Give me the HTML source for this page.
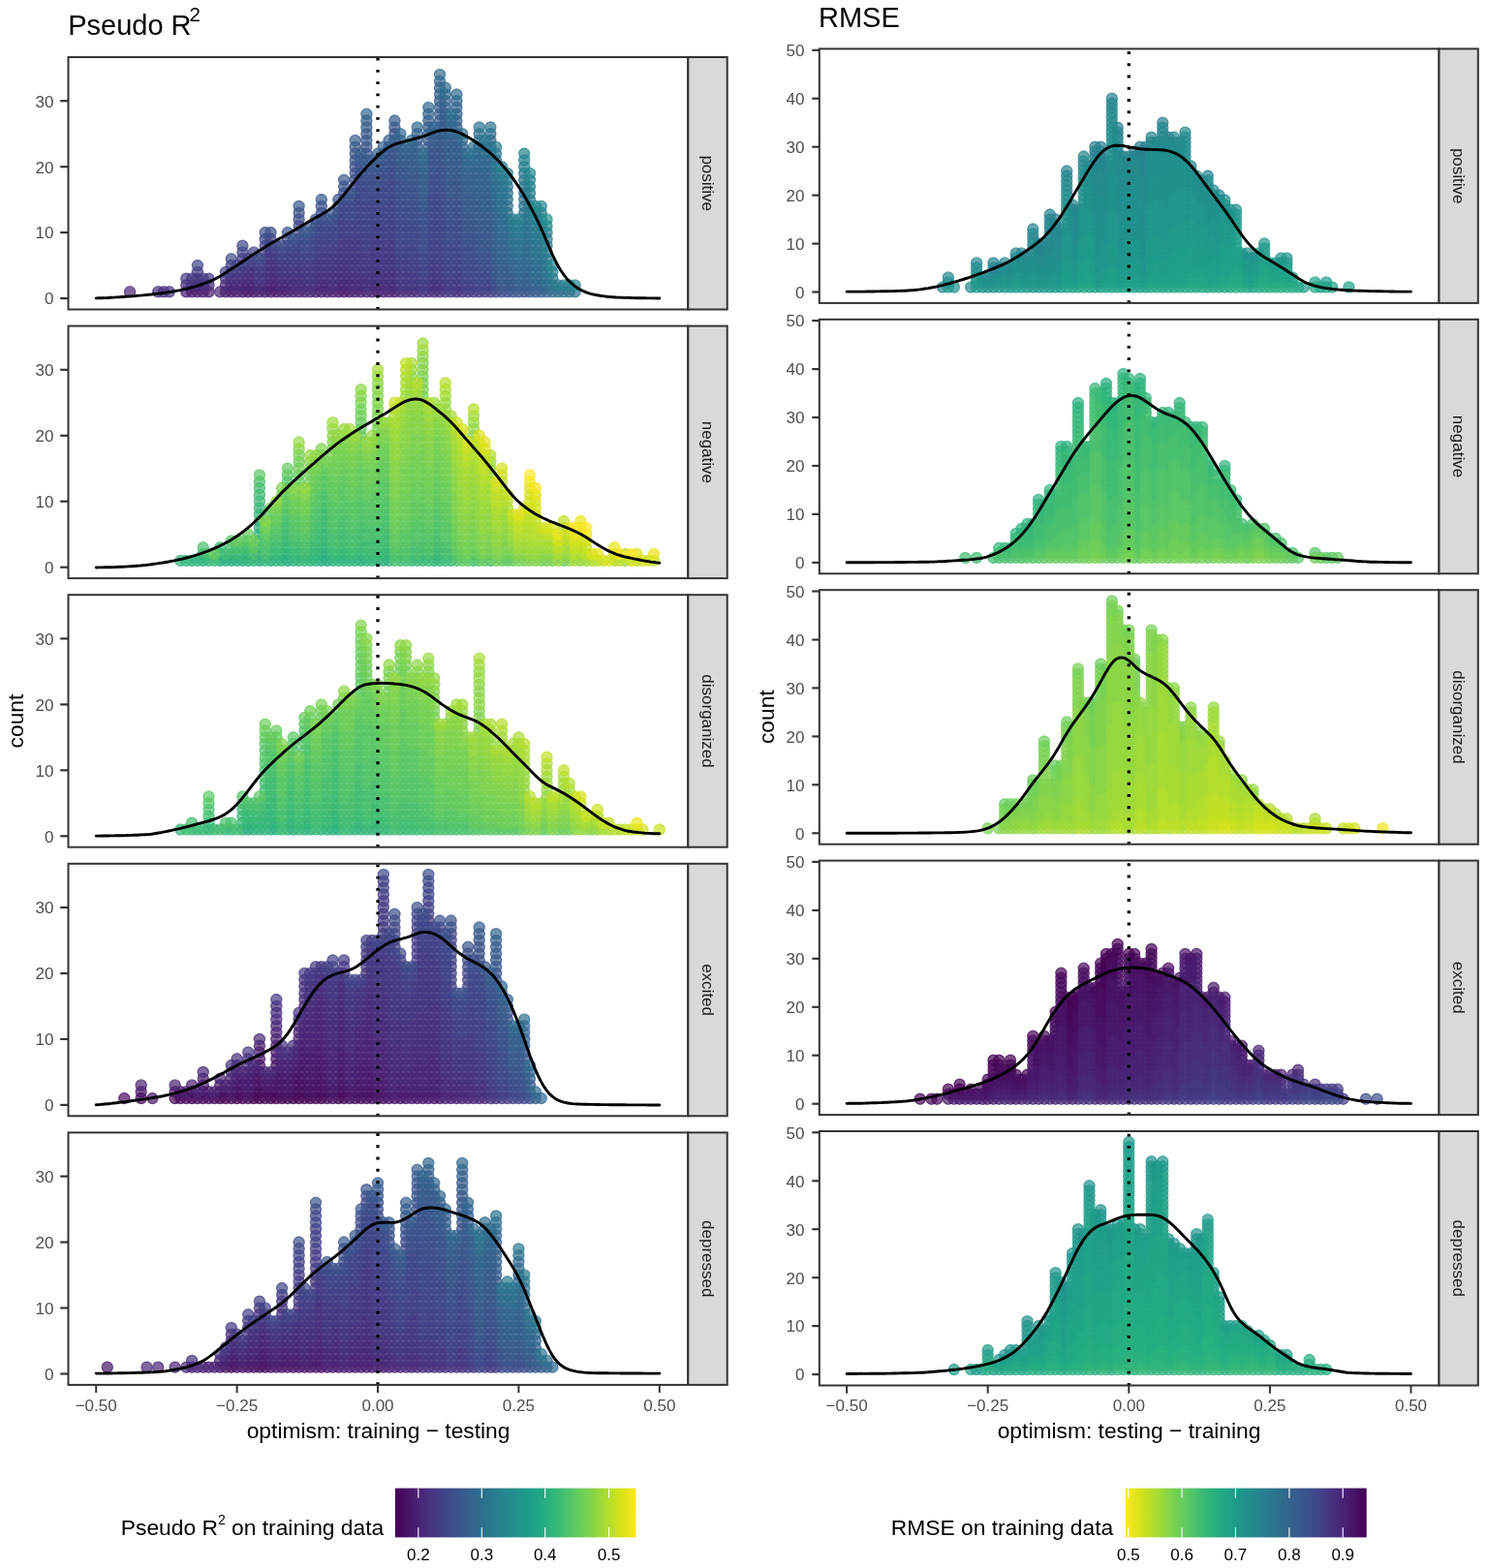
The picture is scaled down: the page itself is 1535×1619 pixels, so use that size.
<!DOCTYPE html>
<html><head><meta charset="utf-8"><title>optimism</title><style>
html,body{margin:0;padding:0;background:#fff;}
svg{display:block;}
text{font-family:"Liberation Sans",Arial,sans-serif;}
path{fill:none;stroke:none;}
marker circle{fill-opacity:0.7;stroke-opacity:0.7;stroke-width:1.3;}
.st{font-size:17px;fill:#1a1a1a;text-anchor:middle;dominant-baseline:central;}
.yl{font-size:17px;fill:#4d4d4d;text-anchor:end;dominant-baseline:central;}
.xl{font-size:17px;fill:#4d4d4d;text-anchor:middle;}
.at{font-size:22.8px;fill:#000;}
.tt{font-size:29px;fill:#000;}
.sup{font-size:20.5px;}
.ll{font-size:17px;fill:#000;text-anchor:middle;}
.lt{font-size:22.8px;fill:#000;}
.lsup{font-size:14px;}
.m0{marker:url(#k0)}.m1{marker:url(#k1)}.m2{marker:url(#k2)}.m3{marker:url(#k3)}.m4{marker:url(#k4)}.m5{marker:url(#k5)}.m6{marker:url(#k6)}.m7{marker:url(#k7)}.m8{marker:url(#k8)}.m9{marker:url(#k9)}.m10{marker:url(#k10)}.m11{marker:url(#k11)}.m12{marker:url(#k12)}.m13{marker:url(#k13)}.m14{marker:url(#k14)}.m15{marker:url(#k15)}.m16{marker:url(#k16)}.m17{marker:url(#k17)}.m18{marker:url(#k18)}.m19{marker:url(#k19)}.m20{marker:url(#k20)}.m21{marker:url(#k21)}.m22{marker:url(#k22)}.m23{marker:url(#k23)}.m24{marker:url(#k24)}.m25{marker:url(#k25)}.m26{marker:url(#k26)}.m27{marker:url(#k27)}.m28{marker:url(#k28)}.m29{marker:url(#k29)}.m30{marker:url(#k30)}.m31{marker:url(#k31)}.m32{marker:url(#k32)}.m33{marker:url(#k33)}.m34{marker:url(#k34)}.m35{marker:url(#k35)}.m36{marker:url(#k36)}.m37{marker:url(#k37)}.m38{marker:url(#k38)}.m39{marker:url(#k39)}.m40{marker:url(#k40)}.m41{marker:url(#k41)}.m42{marker:url(#k42)}.m43{marker:url(#k43)}.m44{marker:url(#k44)}.m45{marker:url(#k45)}.m46{marker:url(#k46)}.m47{marker:url(#k47)}.m48{marker:url(#k48)}.m49{marker:url(#k49)}.m50{marker:url(#k50)}.m51{marker:url(#k51)}.m52{marker:url(#k52)}.m53{marker:url(#k53)}.m54{marker:url(#k54)}.m55{marker:url(#k55)}.m56{marker:url(#k56)}.m57{marker:url(#k57)}.m58{marker:url(#k58)}.m59{marker:url(#k59)}.m60{marker:url(#k60)}.m61{marker:url(#k61)}.m62{marker:url(#k62)}.m63{marker:url(#k63)}</style></head><body><svg width="1535" height="1619" viewBox="0 0 1535 1619">
<rect width="100%" height="100%" fill="#fff"/>
<defs><marker id="k0" markerUnits="userSpaceOnUse" markerWidth="1" markerHeight="1" overflow="visible"><circle r="5.6" fill="#440154" stroke="#440154"/></marker><marker id="k1" markerUnits="userSpaceOnUse" markerWidth="1" markerHeight="1" overflow="visible"><circle r="5.6" fill="#46075a" stroke="#46075a"/></marker><marker id="k2" markerUnits="userSpaceOnUse" markerWidth="1" markerHeight="1" overflow="visible"><circle r="5.6" fill="#470d60" stroke="#470d60"/></marker><marker id="k3" markerUnits="userSpaceOnUse" markerWidth="1" markerHeight="1" overflow="visible"><circle r="5.6" fill="#471365" stroke="#471365"/></marker><marker id="k4" markerUnits="userSpaceOnUse" markerWidth="1" markerHeight="1" overflow="visible"><circle r="5.6" fill="#48186a" stroke="#48186a"/></marker><marker id="k5" markerUnits="userSpaceOnUse" markerWidth="1" markerHeight="1" overflow="visible"><circle r="5.6" fill="#481d6f" stroke="#481d6f"/></marker><marker id="k6" markerUnits="userSpaceOnUse" markerWidth="1" markerHeight="1" overflow="visible"><circle r="5.6" fill="#482374" stroke="#482374"/></marker><marker id="k7" markerUnits="userSpaceOnUse" markerWidth="1" markerHeight="1" overflow="visible"><circle r="5.6" fill="#482878" stroke="#482878"/></marker><marker id="k8" markerUnits="userSpaceOnUse" markerWidth="1" markerHeight="1" overflow="visible"><circle r="5.6" fill="#472d7b" stroke="#472d7b"/></marker><marker id="k9" markerUnits="userSpaceOnUse" markerWidth="1" markerHeight="1" overflow="visible"><circle r="5.6" fill="#46327e" stroke="#46327e"/></marker><marker id="k10" markerUnits="userSpaceOnUse" markerWidth="1" markerHeight="1" overflow="visible"><circle r="5.6" fill="#453781" stroke="#453781"/></marker><marker id="k11" markerUnits="userSpaceOnUse" markerWidth="1" markerHeight="1" overflow="visible"><circle r="5.6" fill="#443b84" stroke="#443b84"/></marker><marker id="k12" markerUnits="userSpaceOnUse" markerWidth="1" markerHeight="1" overflow="visible"><circle r="5.6" fill="#424086" stroke="#424086"/></marker><marker id="k13" markerUnits="userSpaceOnUse" markerWidth="1" markerHeight="1" overflow="visible"><circle r="5.6" fill="#404588" stroke="#404588"/></marker><marker id="k14" markerUnits="userSpaceOnUse" markerWidth="1" markerHeight="1" overflow="visible"><circle r="5.6" fill="#3e4989" stroke="#3e4989"/></marker><marker id="k15" markerUnits="userSpaceOnUse" markerWidth="1" markerHeight="1" overflow="visible"><circle r="5.6" fill="#3d4e8a" stroke="#3d4e8a"/></marker><marker id="k16" markerUnits="userSpaceOnUse" markerWidth="1" markerHeight="1" overflow="visible"><circle r="5.6" fill="#3a538b" stroke="#3a538b"/></marker><marker id="k17" markerUnits="userSpaceOnUse" markerWidth="1" markerHeight="1" overflow="visible"><circle r="5.6" fill="#38588c" stroke="#38588c"/></marker><marker id="k18" markerUnits="userSpaceOnUse" markerWidth="1" markerHeight="1" overflow="visible"><circle r="5.6" fill="#365c8d" stroke="#365c8d"/></marker><marker id="k19" markerUnits="userSpaceOnUse" markerWidth="1" markerHeight="1" overflow="visible"><circle r="5.6" fill="#34608d" stroke="#34608d"/></marker><marker id="k20" markerUnits="userSpaceOnUse" markerWidth="1" markerHeight="1" overflow="visible"><circle r="5.6" fill="#32648e" stroke="#32648e"/></marker><marker id="k21" markerUnits="userSpaceOnUse" markerWidth="1" markerHeight="1" overflow="visible"><circle r="5.6" fill="#31688e" stroke="#31688e"/></marker><marker id="k22" markerUnits="userSpaceOnUse" markerWidth="1" markerHeight="1" overflow="visible"><circle r="5.6" fill="#2f6c8e" stroke="#2f6c8e"/></marker><marker id="k23" markerUnits="userSpaceOnUse" markerWidth="1" markerHeight="1" overflow="visible"><circle r="5.6" fill="#2d708e" stroke="#2d708e"/></marker><marker id="k24" markerUnits="userSpaceOnUse" markerWidth="1" markerHeight="1" overflow="visible"><circle r="5.6" fill="#2c738e" stroke="#2c738e"/></marker><marker id="k25" markerUnits="userSpaceOnUse" markerWidth="1" markerHeight="1" overflow="visible"><circle r="5.6" fill="#2a778e" stroke="#2a778e"/></marker><marker id="k26" markerUnits="userSpaceOnUse" markerWidth="1" markerHeight="1" overflow="visible"><circle r="5.6" fill="#297b8e" stroke="#297b8e"/></marker><marker id="k27" markerUnits="userSpaceOnUse" markerWidth="1" markerHeight="1" overflow="visible"><circle r="5.6" fill="#277f8e" stroke="#277f8e"/></marker><marker id="k28" markerUnits="userSpaceOnUse" markerWidth="1" markerHeight="1" overflow="visible"><circle r="5.6" fill="#26828e" stroke="#26828e"/></marker><marker id="k29" markerUnits="userSpaceOnUse" markerWidth="1" markerHeight="1" overflow="visible"><circle r="5.6" fill="#24868e" stroke="#24868e"/></marker><marker id="k30" markerUnits="userSpaceOnUse" markerWidth="1" markerHeight="1" overflow="visible"><circle r="5.6" fill="#238a8d" stroke="#238a8d"/></marker><marker id="k31" markerUnits="userSpaceOnUse" markerWidth="1" markerHeight="1" overflow="visible"><circle r="5.6" fill="#218e8d" stroke="#218e8d"/></marker><marker id="k32" markerUnits="userSpaceOnUse" markerWidth="1" markerHeight="1" overflow="visible"><circle r="5.6" fill="#20928c" stroke="#20928c"/></marker><marker id="k33" markerUnits="userSpaceOnUse" markerWidth="1" markerHeight="1" overflow="visible"><circle r="5.6" fill="#1f968b" stroke="#1f968b"/></marker><marker id="k34" markerUnits="userSpaceOnUse" markerWidth="1" markerHeight="1" overflow="visible"><circle r="5.6" fill="#1f9a8a" stroke="#1f9a8a"/></marker><marker id="k35" markerUnits="userSpaceOnUse" markerWidth="1" markerHeight="1" overflow="visible"><circle r="5.6" fill="#1f9e89" stroke="#1f9e89"/></marker><marker id="k36" markerUnits="userSpaceOnUse" markerWidth="1" markerHeight="1" overflow="visible"><circle r="5.6" fill="#1fa187" stroke="#1fa187"/></marker><marker id="k37" markerUnits="userSpaceOnUse" markerWidth="1" markerHeight="1" overflow="visible"><circle r="5.6" fill="#21a585" stroke="#21a585"/></marker><marker id="k38" markerUnits="userSpaceOnUse" markerWidth="1" markerHeight="1" overflow="visible"><circle r="5.6" fill="#23a983" stroke="#23a983"/></marker><marker id="k39" markerUnits="userSpaceOnUse" markerWidth="1" markerHeight="1" overflow="visible"><circle r="5.6" fill="#26ad81" stroke="#26ad81"/></marker><marker id="k40" markerUnits="userSpaceOnUse" markerWidth="1" markerHeight="1" overflow="visible"><circle r="5.6" fill="#2ab07f" stroke="#2ab07f"/></marker><marker id="k41" markerUnits="userSpaceOnUse" markerWidth="1" markerHeight="1" overflow="visible"><circle r="5.6" fill="#2fb47c" stroke="#2fb47c"/></marker><marker id="k42" markerUnits="userSpaceOnUse" markerWidth="1" markerHeight="1" overflow="visible"><circle r="5.6" fill="#35b779" stroke="#35b779"/></marker><marker id="k43" markerUnits="userSpaceOnUse" markerWidth="1" markerHeight="1" overflow="visible"><circle r="5.6" fill="#3bbb75" stroke="#3bbb75"/></marker><marker id="k44" markerUnits="userSpaceOnUse" markerWidth="1" markerHeight="1" overflow="visible"><circle r="5.6" fill="#42be71" stroke="#42be71"/></marker><marker id="k45" markerUnits="userSpaceOnUse" markerWidth="1" markerHeight="1" overflow="visible"><circle r="5.6" fill="#4ac16d" stroke="#4ac16d"/></marker><marker id="k46" markerUnits="userSpaceOnUse" markerWidth="1" markerHeight="1" overflow="visible"><circle r="5.6" fill="#52c569" stroke="#52c569"/></marker><marker id="k47" markerUnits="userSpaceOnUse" markerWidth="1" markerHeight="1" overflow="visible"><circle r="5.6" fill="#5ac864" stroke="#5ac864"/></marker><marker id="k48" markerUnits="userSpaceOnUse" markerWidth="1" markerHeight="1" overflow="visible"><circle r="5.6" fill="#65cb5e" stroke="#65cb5e"/></marker><marker id="k49" markerUnits="userSpaceOnUse" markerWidth="1" markerHeight="1" overflow="visible"><circle r="5.6" fill="#6ece58" stroke="#6ece58"/></marker><marker id="k50" markerUnits="userSpaceOnUse" markerWidth="1" markerHeight="1" overflow="visible"><circle r="5.6" fill="#77d153" stroke="#77d153"/></marker><marker id="k51" markerUnits="userSpaceOnUse" markerWidth="1" markerHeight="1" overflow="visible"><circle r="5.6" fill="#81d34d" stroke="#81d34d"/></marker><marker id="k52" markerUnits="userSpaceOnUse" markerWidth="1" markerHeight="1" overflow="visible"><circle r="5.6" fill="#8bd646" stroke="#8bd646"/></marker><marker id="k53" markerUnits="userSpaceOnUse" markerWidth="1" markerHeight="1" overflow="visible"><circle r="5.6" fill="#95d840" stroke="#95d840"/></marker><marker id="k54" markerUnits="userSpaceOnUse" markerWidth="1" markerHeight="1" overflow="visible"><circle r="5.6" fill="#a0da39" stroke="#a0da39"/></marker><marker id="k55" markerUnits="userSpaceOnUse" markerWidth="1" markerHeight="1" overflow="visible"><circle r="5.6" fill="#aadc32" stroke="#aadc32"/></marker><marker id="k56" markerUnits="userSpaceOnUse" markerWidth="1" markerHeight="1" overflow="visible"><circle r="5.6" fill="#b5de2b" stroke="#b5de2b"/></marker><marker id="k57" markerUnits="userSpaceOnUse" markerWidth="1" markerHeight="1" overflow="visible"><circle r="5.6" fill="#c0df25" stroke="#c0df25"/></marker><marker id="k58" markerUnits="userSpaceOnUse" markerWidth="1" markerHeight="1" overflow="visible"><circle r="5.6" fill="#cae11f" stroke="#cae11f"/></marker><marker id="k59" markerUnits="userSpaceOnUse" markerWidth="1" markerHeight="1" overflow="visible"><circle r="5.6" fill="#d5e21a" stroke="#d5e21a"/></marker><marker id="k60" markerUnits="userSpaceOnUse" markerWidth="1" markerHeight="1" overflow="visible"><circle r="5.6" fill="#dfe318" stroke="#dfe318"/></marker><marker id="k61" markerUnits="userSpaceOnUse" markerWidth="1" markerHeight="1" overflow="visible"><circle r="5.6" fill="#eae51a" stroke="#eae51a"/></marker><marker id="k62" markerUnits="userSpaceOnUse" markerWidth="1" markerHeight="1" overflow="visible"><circle r="5.6" fill="#f4e61e" stroke="#f4e61e"/></marker><marker id="k63" markerUnits="userSpaceOnUse" markerWidth="1" markerHeight="1" overflow="visible"><circle r="5.6" fill="#fde725" stroke="#fde725"/></marker></defs>
<clipPath id="cL1"><rect x="70.5" y="59.0" width="639.8" height="260.5"/></clipPath>
<g clip-path="url(#cL1)">
<path d="M198.1 301.3 233 301.3 250.4 301.3 256.2 301.3 262 301.3 279.5 301.3 285.3 301.3 349.3 301.3" class="m4"/>
<path d="M192.3 301.3 203.9 301.3 209.7 301.3 215.5 301.3 238.8 301.3 244.6 301.3 273.7 301.3 279.5 294.5 291.1 301.3 296.9 301.3 326 301.3 337.7 301.3 355.1 301.3 360.9 301.3 407.4 301.3" class="m5"/>
<path d="M134.1 301.3 250.4 294.5 256.2 294.5 262 294.5 267.9 301.3 273.7 294.5 285.3 294.5 302.8 301.3 308.6 301.3 314.4 301.3 331.8 301.3 343.5 301.3 349.3 294.5 366.7 301.3 372.6 301.3 384.2 301.3 390 301.3 395.8 301.3 401.6 301.3 407.4 294.5" class="m6"/>
<path d="M198.1 294.5 203.9 294.5 227.2 301.3 233 294.5 238.8 294.5 244.6 294.5 250.4 287.7 262 287.7 279.5 287.7 285.3 287.7 291.1 294.5 296.9 294.5 320.2 301.3 326 294.5 331.8 294.5 337.7 294.5 349.3 287.7 355.1 294.5 360.9 294.5 372.6 294.5 378.4 301.3 384.2 294.5 407.4 287.7 419.1 301.3 448.2 301.3" class="m7"/>
<path d="M163.2 301.3 169 301.3 192.3 294.5 209.7 294.5 215.5 294.5 256.2 287.7 262 280.9 267.9 294.5 273.7 287.7 279.5 280.9 279.5 274.1 285.3 280.9 296.9 287.7 302.8 294.5 308.6 294.5 314.4 294.5 326 287.7 331.8 287.7 337.7 287.7 343.5 294.5 349.3 280.9 349.3 274.1 355.1 287.7 360.9 287.7 366.7 294.5 366.7 287.7 372.6 287.7 384.2 287.7 390 294.5 395.8 294.5 401.6 294.5 407.4 280.9 407.4 274.1 413.3 301.3 424.9 301.3 430.7 301.3 442.3 301.3 448.2 294.5 454 301.3 471.4 301.3" class="m8"/>
<path d="M174.8 301.3 203.9 287.7 233 287.7 238.8 287.7 244.6 287.7 250.4 280.9 256.2 280.9 262 274.1 273.7 280.9 273.7 274.1 279.5 267.3 285.3 274.1 291.1 287.7 296.9 280.9 302.8 287.7 308.6 287.7 308.6 280.9 314.4 287.7 320.2 294.5 326 280.9 326 274.1 331.8 280.9 337.7 280.9 343.5 287.7 343.5 280.9 349.3 267.3 355.1 280.9 355.1 274.1 360.9 280.9 360.9 274.1 366.7 280.9 372.6 280.9 372.6 274.1 378.4 294.5 378.4 287.7 384.2 280.9 390 287.7 390 280.9 395.8 287.7 395.8 280.9 401.6 287.7 401.6 280.9 407.4 267.3 407.4 260.5 419.1 294.5 430.7 294.5 442.3 294.5 448.2 287.7 454 294.5 459.8 301.3 477.2 301.3" class="m9"/>
<path d="M198.1 287.7 203.9 280.9 238.8 280.9 250.4 274.1 267.9 287.7 273.7 267.3 279.5 260.5 285.3 267.3 291.1 280.9 296.9 274.1 302.8 280.9 308.6 274.1 314.4 280.9 320.2 287.7 326 267.3 331.8 274.1 331.8 267.3 337.7 274.1 337.7 267.3 343.5 274.1 349.3 260.5 349.3 253.7 355.1 267.3 355.1 260.5 360.9 267.3 360.9 260.5 366.7 274.1 366.7 267.3 372.6 267.3 372.6 260.5 378.4 280.9 378.4 274.1 384.2 274.1 384.2 267.3 384.2 260.5 390 274.1 390 267.3 395.8 274.1 395.8 267.3 401.6 274.1 401.6 267.3 407.4 253.7 407.4 246.9 407.4 240.1 407.4 233.3 413.3 294.5 419.1 287.7 419.1 280.9 424.9 294.5 430.7 287.7 436.5 301.3 442.3 287.7 448.2 280.9 448.2 274.1 454 287.7 459.8 294.5 465.6 301.3 471.4 294.5 483.1 301.3 488.9 301.3" class="m10"/>
<path d="M192.3 287.7 209.7 287.7 215.5 287.7 238.8 274.1 244.6 280.9 250.4 267.3 256.2 274.1 262 267.3 267.9 280.9 273.7 260.5 279.5 253.7 285.3 260.5 291.1 274.1 296.9 267.3 302.8 274.1 308.6 267.3 308.6 260.5 314.4 274.1 320.2 280.9 320.2 274.1 326 260.5 326 253.7 331.8 260.5 337.7 260.5 343.5 267.3 343.5 260.5 349.3 246.9 349.3 240.1 355.1 253.7 355.1 246.9 360.9 253.7 360.9 246.9 366.7 260.5 366.7 253.7 366.7 246.9 372.6 253.7 372.6 246.9 372.6 240.1 378.4 267.3 378.4 260.5 384.2 253.7 384.2 246.9 390 260.5 390 253.7 390 246.9 395.8 260.5 395.8 253.7 401.6 260.5 401.6 253.7 401.6 246.9 407.4 226.5 407.4 219.7 407.4 212.9 413.3 287.7 413.3 280.9 419.1 274.1 419.1 267.3 424.9 287.7 424.9 280.9 430.7 280.9 430.7 274.1 436.5 294.5 442.3 280.9 442.3 274.1 448.2 267.3 448.2 260.5 454 280.9 454 274.1 459.8 287.7 465.6 294.5 471.4 287.7 471.4 280.9 477.2 294.5 494.7 301.3 506.3 301.3" class="m11"/>
<path d="M233 280.9 250.4 260.5 267.9 274.1 273.7 253.7 279.5 246.9 291.1 267.3 296.9 260.5 302.8 267.3 302.8 260.5 308.6 253.7 308.6 246.9 314.4 267.3 320.2 267.3 326 246.9 331.8 253.7 331.8 246.9 337.7 253.7 337.7 246.9 343.5 253.7 349.3 233.3 349.3 226.5 355.1 240.1 355.1 233.3 355.1 226.5 360.9 240.1 360.9 233.3 366.7 240.1 366.7 233.3 366.7 226.5 372.6 233.3 372.6 226.5 378.4 253.7 378.4 246.9 378.4 240.1 384.2 240.1 384.2 233.3 384.2 226.5 390 240.1 390 233.3 395.8 246.9 395.8 240.1 395.8 233.3 401.6 240.1 401.6 233.3 401.6 226.5 407.4 206.1 407.4 199.3 407.4 192.6 413.3 274.1 413.3 267.3 419.1 260.5 419.1 253.7 424.9 274.1 424.9 267.3 430.7 267.3 430.7 260.5 430.7 253.7 436.5 287.7 442.3 267.3 442.3 260.5 442.3 253.7 448.2 253.7 448.2 246.9 448.2 240.1 454 267.3 454 260.5 454 253.7 459.8 280.9 459.8 274.1 465.6 287.7 471.4 274.1 471.4 267.3 477.2 287.7 477.2 280.9 483.1 294.5 488.9 294.5 500.5 301.3 506.3 294.5" class="m12"/>
<path d="M203.9 274.1 244.6 274.1 256.2 267.3 262 260.5 273.7 246.9 285.3 253.7 291.1 260.5 296.9 253.7 308.6 240.1 314.4 260.5 320.2 260.5 326 240.1 331.8 240.1 331.8 233.3 337.7 240.1 343.5 246.9 343.5 240.1 349.3 219.7 355.1 219.7 355.1 212.9 360.9 226.5 366.7 219.7 366.7 212.9 366.7 206.1 372.6 219.7 372.6 212.9 372.6 206.1 378.4 233.3 378.4 226.5 378.4 219.7 378.4 212.9 384.2 219.7 384.2 212.9 390 226.5 390 219.7 390 212.9 395.8 226.5 395.8 219.7 395.8 212.9 401.6 219.7 401.6 212.9 401.6 206.1 407.4 185.8 407.4 179 407.4 172.2 413.3 260.5 413.3 253.7 419.1 246.9 419.1 240.1 419.1 233.3 424.9 260.5 424.9 253.7 430.7 246.9 430.7 240.1 430.7 233.3 436.5 280.9 436.5 274.1 442.3 246.9 442.3 240.1 442.3 233.3 448.2 233.3 448.2 226.5 448.2 219.7 454 246.9 454 240.1 454 233.3 454 226.5 459.8 267.3 459.8 260.5 459.8 253.7 465.6 280.9 465.6 274.1 471.4 260.5 471.4 253.7 471.4 246.9 477.2 274.1 477.2 267.3 483.1 287.7 488.9 287.7 494.7 294.5 500.5 294.5 506.3 287.7" class="m13"/>
<path d="M238.8 267.3 250.4 253.7 279.5 240.1 296.9 246.9 302.8 253.7 308.6 233.3 308.6 226.5 314.4 253.7 320.2 253.7 320.2 246.9 326 233.3 331.8 226.5 337.7 233.3 343.5 233.3 349.3 212.9 355.1 206.1 360.9 219.7 360.9 212.9 366.7 199.3 366.7 192.6 366.7 185.8 372.6 199.3 372.6 192.6 378.4 206.1 378.4 199.3 378.4 192.6 384.2 206.1 384.2 199.3 390 206.1 390 199.3 390 192.6 395.8 206.1 395.8 199.3 395.8 192.6 401.6 199.3 401.6 192.6 401.6 185.8 407.4 165.4 407.4 158.6 407.4 151.8 413.3 246.9 413.3 240.1 413.3 233.3 413.3 226.5 419.1 226.5 419.1 219.7 419.1 212.9 424.9 246.9 424.9 240.1 424.9 233.3 430.7 226.5 430.7 219.7 430.7 212.9 436.5 267.3 436.5 260.5 442.3 226.5 442.3 219.7 442.3 212.9 442.3 206.1 448.2 212.9 448.2 206.1 448.2 199.3 448.2 192.6 454 219.7 454 212.9 454 206.1 454 199.3 459.8 246.9 459.8 240.1 459.8 233.3 459.8 226.5 465.6 267.3 465.6 260.5 465.6 253.7 471.4 240.1 471.4 233.3 471.4 226.5 471.4 219.7 477.2 260.5 477.2 253.7 477.2 246.9 483.1 280.9 483.1 274.1 488.9 280.9 488.9 274.1 494.7 287.7 494.7 280.9 500.5 287.7 506.3 280.9 506.3 274.1 512.1 301.3" class="m14"/>
<path d="M267.9 267.3 273.7 240.1 291.1 253.7 308.6 219.7 314.4 246.9 331.8 219.7 343.5 226.5 355.1 199.3 360.9 206.1 366.7 179 366.7 172.2 372.6 185.8 372.6 179 378.4 185.8 378.4 179 378.4 172.2 384.2 192.6 384.2 185.8 390 185.8 390 179 395.8 185.8 395.8 179 401.6 179 401.6 172.2 407.4 145 413.3 219.7 413.3 212.9 413.3 206.1 419.1 206.1 419.1 199.3 424.9 226.5 424.9 219.7 424.9 212.9 430.7 206.1 430.7 199.3 430.7 192.6 436.5 253.7 436.5 246.9 436.5 240.1 442.3 199.3 442.3 192.6 442.3 185.8 448.2 185.8 448.2 179 454 192.6 454 185.8 454 179 454 172.2 459.8 219.7 459.8 212.9 459.8 206.1 459.8 199.3 465.6 246.9 465.6 240.1 465.6 233.3 471.4 212.9 471.4 206.1 471.4 199.3 471.4 192.6 477.2 240.1 477.2 233.3 477.2 226.5 483.1 267.3 483.1 260.5 483.1 253.7 488.9 267.3 488.9 260.5 488.9 253.7 494.7 274.1 494.7 267.3 500.5 280.9 500.5 274.1 506.3 267.3 506.3 260.5 506.3 253.7 512.1 294.5 518 301.3 523.8 301.3" class="m15"/>
<path d="M296.9 240.1 302.8 246.9 320.2 240.1 326 226.5 331.8 212.9 337.7 226.5 349.3 206.1 355.1 192.6 366.7 165.4 366.7 158.6 372.6 172.2 378.4 165.4 378.4 158.6 378.4 151.8 384.2 179 390 172.2 395.8 172.2 395.8 165.4 401.6 165.4 407.4 138.2 407.4 131.4 413.3 199.3 413.3 192.6 413.3 185.8 419.1 192.6 419.1 185.8 419.1 179 424.9 206.1 424.9 199.3 424.9 192.6 430.7 185.8 430.7 179 430.7 172.2 436.5 233.3 436.5 226.5 436.5 219.7 442.3 179 442.3 172.2 442.3 165.4 442.3 158.6 448.2 172.2 448.2 165.4 448.2 158.6 454 165.4 454 158.6 454 151.8 454 145 459.8 192.6 459.8 185.8 459.8 179 459.8 172.2 465.6 226.5 465.6 219.7 465.6 212.9 465.6 206.1 471.4 185.8 471.4 179 471.4 172.2 471.4 165.4 477.2 219.7 477.2 212.9 477.2 206.1 483.1 246.9 483.1 240.1 488.9 246.9 488.9 240.1 488.9 233.3 494.7 260.5 494.7 253.7 494.7 246.9 500.5 267.3 500.5 260.5 506.3 246.9 506.3 240.1 506.3 233.3 512.1 287.7 523.8 294.5 529.6 301.3 541.2 301.3" class="m16"/>
<path d="M308.6 212.9 314.4 240.1 320.2 233.3 331.8 206.1 343.5 219.7 355.1 185.8 360.9 199.3 366.7 151.8 372.6 165.4 378.4 145 378.4 138.2 384.2 172.2 390 165.4 395.8 158.6 401.6 158.6 401.6 151.8 413.3 179 413.3 172.2 419.1 172.2 424.9 185.8 424.9 179 430.7 165.4 430.7 158.6 436.5 212.9 436.5 206.1 442.3 151.8 442.3 145 448.2 151.8 454 138.2 454 131.4 454 124.6 459.8 165.4 459.8 158.6 459.8 151.8 465.6 199.3 465.6 192.6 465.6 185.8 471.4 158.6 471.4 151.8 471.4 145 477.2 199.3 477.2 192.6 477.2 185.8 483.1 233.3 483.1 226.5 483.1 219.7 488.9 226.5 488.9 219.7 488.9 212.9 494.7 240.1 494.7 233.3 494.7 226.5 500.5 253.7 500.5 246.9 500.5 240.1 506.3 226.5 506.3 219.7 506.3 212.9 512.1 280.9 512.1 274.1 518 294.5 523.8 287.7 529.6 294.5 535.4 301.3 547 301.3 558.7 301.3" class="m17"/>
<path d="M372.6 158.6 378.4 131.4 384.2 165.4 407.4 124.6 413.3 165.4 413.3 158.6 419.1 165.4 419.1 158.6 424.9 172.2 424.9 165.4 430.7 151.8 430.7 145 436.5 199.3 436.5 192.6 442.3 138.2 442.3 131.4 448.2 145 448.2 138.2 454 117.8 454 111 454 104.2 459.8 145 459.8 138.2 459.8 131.4 465.6 179 465.6 172.2 465.6 165.4 471.4 138.2 471.4 131.4 477.2 179 477.2 172.2 483.1 212.9 483.1 206.1 483.1 199.3 488.9 206.1 488.9 199.3 494.7 219.7 494.7 212.9 494.7 206.1 500.5 233.3 500.5 226.5 500.5 219.7 506.3 206.1 506.3 199.3 506.3 192.6 512.1 267.3 512.1 260.5 518 287.7 518 280.9 523.8 280.9 529.6 287.7 541.2 294.5 552.8 301.3" class="m18"/>
<path d="M366.7 145 378.4 124.6 390 158.6 395.8 151.8 401.6 145 413.3 151.8 424.9 158.6 430.7 138.2 436.5 185.8 436.5 179 442.3 124.6 454 97.4 454 90.6 459.8 124.6 459.8 117.8 459.8 111 465.6 158.6 465.6 151.8 465.6 145 471.4 124.6 471.4 117.8 477.2 165.4 477.2 158.6 483.1 192.6 483.1 185.8 488.9 192.6 488.9 185.8 488.9 179 494.7 199.3 494.7 192.6 494.7 185.8 500.5 212.9 500.5 206.1 500.5 199.3 506.3 185.8 506.3 179 506.3 172.2 512.1 253.7 512.1 246.9 512.1 240.1 518 274.1 523.8 274.1 523.8 267.3 529.6 280.9 535.4 294.5 541.2 287.7 547 294.5 558.7 294.5" class="m19"/>
<path d="M378.4 117.8 413.3 145 419.1 151.8 424.9 151.8 436.5 172.2 442.3 117.8 448.2 131.4 454 83.8 459.8 104.2 465.6 138.2 471.4 111 471.4 104.2 477.2 151.8 483.1 179 488.9 172.2 494.7 179 494.7 172.2 494.7 165.4 500.5 192.6 500.5 185.8 500.5 179 506.3 165.4 506.3 158.6 512.1 233.3 512.1 226.5 512.1 219.7 518 267.3 518 260.5 518 253.7 523.8 260.5 523.8 253.7 523.8 246.9 529.6 274.1 535.4 287.7 541.2 280.9 541.2 274.1 547 287.7 547 280.9 552.8 294.5 558.7 287.7 564.5 301.3" class="m20"/>
<path d="M413.3 138.2 424.9 145 430.7 131.4 436.5 165.4 442.3 111 459.8 97.4 465.6 131.4 465.6 124.6 477.2 145 483.1 172.2 483.1 165.4 488.9 165.4 494.7 158.6 494.7 151.8 500.5 172.2 500.5 165.4 506.3 151.8 506.3 145 512.1 212.9 512.1 206.1 512.1 199.3 518 246.9 518 240.1 523.8 240.1 523.8 233.3 529.6 267.3 529.6 260.5 535.4 280.9 535.4 274.1 541.2 267.3 541.2 260.5 541.2 253.7 547 274.1 552.8 287.7 558.7 280.9 558.7 274.1 570.3 301.3" class="m21"/>
<path d="M436.5 158.6 454 77 459.8 90.6 471.4 97.4 477.2 138.2 488.9 158.6 494.7 145 500.5 158.6 506.3 138.2 512.1 192.6 512.1 185.8 518 233.3 518 226.5 518 219.7 523.8 226.5 523.8 219.7 529.6 253.7 535.4 267.3 541.2 246.9 541.2 240.1 547 267.3 547 260.5 547 253.7 552.8 280.9 552.8 274.1 558.7 267.3 564.5 294.5 576.1 301.3 581.9 301.3" class="m22"/>
<path d="M465.6 117.8 483.1 158.6 488.9 151.8 494.7 138.2 500.5 151.8 512.1 179 512.1 172.2 518 212.9 518 206.1 523.8 212.9 523.8 206.1 529.6 246.9 535.4 260.5 535.4 253.7 541.2 233.3 541.2 226.5 541.2 219.7 547 246.9 547 240.1 552.8 267.3 558.7 260.5 558.7 253.7 564.5 287.7 587.7 301.3" class="m23"/>
<path d="M494.7 131.4 506.3 131.4 512.1 165.4 518 199.3 518 192.6 523.8 199.3 523.8 192.6 529.6 240.1 535.4 246.9 541.2 212.9 541.2 206.1 541.2 199.3 547 233.3 547 226.5 552.8 260.5 552.8 253.7 558.7 246.9 558.7 240.1 564.5 280.9 570.3 294.5 593.6 301.3" class="m24"/>
<path d="M500.5 145 512.1 158.6 518 185.8 523.8 185.8 529.6 233.3 535.4 240.1 541.2 192.6 541.2 185.8 547 219.7 547 212.9 552.8 246.9 552.8 240.1 558.7 233.3 564.5 274.1 564.5 267.3 570.3 287.7" class="m25"/>
<path d="M512.1 151.8 518 179 529.6 226.5 535.4 233.3 541.2 179 547 206.1 547 199.3 552.8 233.3 558.7 226.5 564.5 260.5 576.1 294.5" class="m26"/>
<path d="M523.8 179 541.2 172.2 541.2 165.4 547 192.6 552.8 226.5 558.7 219.7 564.5 253.7 564.5 246.9 570.3 280.9 581.9 294.5 587.7 294.5" class="m27"/>
<path d="M518 172.2 535.4 226.5 547 185.8 552.8 219.7 564.5 240.1" class="m28"/>
<path d="M541.2 158.6 547 179 558.7 212.9 564.5 233.3 570.3 274.1 593.6 294.5" class="m29"/>
<path d="M552.8 212.9" class="m30"/>
<path d="M564.5 226.5" class="m31"/>
<polyline points="99.2,307.9 102.2,307.8 105.2,307.7 108.2,307.6 111.2,307.5 114.2,307.3 117.2,307.1 120.2,306.9 123.2,306.8 126.2,306.5 129.2,306.3 132.2,306.1 135.2,305.9 138.2,305.7 141.2,305.4 144.2,305.1 147.2,304.9 150.2,304.6 153.2,304.3 156.2,304 159.2,303.6 162.2,303.3 165.2,302.9 168.2,302.5 171.2,302.1 174.1,301.6 177.1,301.2 180.1,300.7 183.1,300.1 186.1,299.6 189.1,298.9 192.1,298.3 195.1,297.5 198.1,296.7 201.1,295.9 204.1,295 207.1,294 210.1,293 213.1,291.9 216.1,290.7 219.1,289.4 222.1,288 225.1,286.4 228.1,284.7 231.1,282.8 234.1,280.9 237.1,278.9 240.1,277 243.1,275 246.1,273 249.1,271 252.1,269 255.1,267 258.1,264.9 261.1,262.9 264.1,261 267.1,259 270.1,257.2 273.1,255.4 276.1,253.6 279.1,251.8 282.1,250.1 285.1,248.4 288.1,246.6 291.1,244.9 294.1,243.2 297.1,241.4 300.1,239.7 303.1,238 306.1,236.2 309.1,234.5 312.1,232.7 315.1,231 318,229.2 321,227.5 324,225.8 327,224.1 330,222.5 333,220.8 336,219 339,217 342,214.8 345,212.2 348,209.2 351,205.9 354,202.4 357,198.7 360,194.9 363,191.1 366,187.3 369,183.5 372,179.9 375,176.4 378,173.1 381,169.9 384,166.9 387,164 390,161.1 393,158.4 396,155.8 399,153.5 402,151.6 405,150.1 408,148.9 411,147.9 414,147 417,146.2 420,145.4 423,144.6 426,143.8 429,143 432,142.1 435,141.3 438,140.3 441,139.2 444,138.1 447,136.9 450,135.9 453,135 456,134.5 459,134.2 462,134.2 464.9,134.4 467.9,135 470.9,135.8 473.9,137 476.9,138.4 479.9,139.9 482.9,141.6 485.9,143.3 488.9,145.2 491.9,147.2 494.9,149.3 497.9,151.5 500.9,153.8 503.9,156.2 506.9,158.8 509.9,161.6 512.9,164.5 515.9,167.6 518.9,170.9 521.9,174.4 524.9,178.1 527.9,182 530.9,186.2 533.9,190.6 536.9,195.2 539.9,200.1 542.9,205.2 545.9,210.5 548.9,216.1 551.9,221.9 554.9,227.9 557.9,234.3 560.9,241.1 563.9,248.2 566.9,255.3 569.9,262.1 572.9,268.4 575.9,274.2 578.9,279.2 581.9,283.6 584.9,287.4 587.9,290.7 590.9,293.4 593.9,295.8 596.9,297.8 599.9,299.5 602.9,300.9 605.9,302.1 608.8,303.1 611.8,303.8 614.8,304.5 617.8,305 620.8,305.5 623.8,305.9 626.8,306.3 629.8,306.6 632.8,306.8 635.8,307 638.8,307.1 641.8,307.3 644.8,307.4 647.8,307.4 650.8,307.5 653.8,307.6 656.8,307.7 659.8,307.7 662.8,307.8 665.8,307.8 668.8,307.9 671.8,307.9 674.8,307.9 677.8,308 680.8,308" fill="none" stroke="#000" stroke-width="2.9" stroke-linejoin="round" stroke-linecap="round"/>
<line x1="390" y1="319.8" x2="390" y2="59.0" stroke="#000" stroke-width="3.3" stroke-dasharray="2.9 9.35"/>
</g>
<rect x="70.5" y="59.0" width="639.8" height="260.5" fill="none" stroke="#333" stroke-width="2"/>
<rect x="710.3" y="59.0" width="40.4" height="260.5" fill="#d9d9d9" stroke="#333" stroke-width="2"/>
<text x="0" y="0" transform="translate(730.5 189.2) rotate(90)" class="st">positive</text>
<line x1="62.2" y1="308.1" x2="70.5" y2="308.1" stroke="#333" stroke-width="2.2"/>
<text x="55.5" y="308.9" class="yl">0</text>
<line x1="62.2" y1="240.1" x2="70.5" y2="240.1" stroke="#333" stroke-width="2.2"/>
<text x="55.5" y="240.9" class="yl">10</text>
<line x1="62.2" y1="172.2" x2="70.5" y2="172.2" stroke="#333" stroke-width="2.2"/>
<text x="55.5" y="173.0" class="yl">20</text>
<line x1="62.2" y1="104.2" x2="70.5" y2="104.2" stroke="#333" stroke-width="2.2"/>
<text x="55.5" y="105.0" class="yl">30</text>
<clipPath id="cL2"><rect x="70.5" y="336.6" width="639.8" height="260.5"/></clipPath>
<g clip-path="url(#cL2)">
<path d="M267.9 578.9" class="m36"/>
<path d="M227.2 578.9 267.9 572.1 296.9 578.9" class="m37"/>
<path d="M267.9 565.3 337.7 578.9" class="m38"/>
<path d="M209.7 578.9 238.8 578.9 267.9 558.5 279.5 578.9 296.9 572.1 331.8 578.9 372.6 578.9" class="m39"/>
<path d="M198.1 578.9 227.2 572.1 233 578.9 244.6 578.9 250.4 578.9 256.2 578.9 267.9 551.7 267.9 544.9 291.1 578.9 296.9 565.3 296.9 558.5 326 578.9 331.8 572.1 337.7 572.1 355.1 578.9 395.8 578.9 401.6 578.9 448.2 578.9" class="m40"/>
<path d="M186.4 578.9 203.9 578.9 215.5 578.9 267.9 538.1 279.5 572.1 285.3 578.9 291.1 572.1 296.9 551.7 296.9 544.9 302.8 578.9 308.6 578.9 320.2 578.9 331.8 565.3 337.7 565.3 343.5 578.9 349.3 578.9 360.9 578.9 366.7 578.9 372.6 572.1 378.4 578.9 384.2 578.9 390 578.9 401.6 572.1 424.9 578.9 436.5 578.9" class="m41"/>
<path d="M192.3 578.9 209.7 572.1 238.8 572.1 250.4 572.1 256.2 572.1 262 578.9 267.9 531.3 267.9 524.5 273.7 578.9 279.5 565.3 296.9 538.1 308.6 572.1 314.4 578.9 320.2 572.1 326 572.1 331.8 558.5 337.7 558.5 337.7 551.7 349.3 572.1 355.1 572.1 372.6 565.3 372.6 558.5 395.8 572.1 401.6 565.3 424.9 572.1 436.5 572.1 448.2 572.1 454 578.9 465.6 578.9" class="m42"/>
<path d="M221.3 578.9 227.2 565.3 244.6 572.1 267.9 517.7 267.9 510.9 279.5 558.5 285.3 572.1 291.1 565.3 291.1 558.5 296.9 531.3 296.9 524.5 302.8 572.1 308.6 565.3 320.2 565.3 326 565.3 331.8 551.7 331.8 544.9 337.7 544.9 337.7 538.1 343.5 572.1 349.3 565.3 355.1 565.3 355.1 558.5 360.9 572.1 366.7 572.1 372.6 551.7 372.6 544.9 372.6 538.1 378.4 572.1 384.2 572.1 390 572.1 395.8 565.3 401.6 558.5 401.6 551.7 413.3 578.9 424.9 565.3 430.7 578.9 436.5 565.3 436.5 558.5 442.3 578.9 448.2 565.3 454 572.1 459.8 578.9 488.9 578.9" class="m43"/>
<path d="M233 572.1 238.8 565.3 250.4 565.3 256.2 565.3 267.9 504.1 279.5 551.7 285.3 565.3 291.1 551.7 296.9 517.7 296.9 510.9 302.8 565.3 308.6 558.5 308.6 551.7 314.4 572.1 320.2 558.5 326 558.5 326 551.7 331.8 538.1 331.8 531.3 331.8 524.5 337.7 531.3 337.7 524.5 343.5 565.3 349.3 558.5 349.3 551.7 355.1 551.7 355.1 544.9 360.9 565.3 366.7 565.3 372.6 531.3 372.6 524.5 372.6 517.7 378.4 565.3 378.4 558.5 384.2 565.3 384.2 558.5 390 565.3 390 558.5 395.8 558.5 395.8 551.7 401.6 544.9 401.6 538.1 413.3 572.1 419.1 578.9 424.9 558.5 424.9 551.7 424.9 544.9 436.5 551.7 436.5 544.9 448.2 558.5 448.2 551.7 454 565.3 465.6 572.1 506.3 578.9" class="m44"/>
<path d="M209.7 565.3 215.5 572.1 244.6 565.3 262 572.1 267.9 497.3 273.7 572.1 279.5 544.9 285.3 558.5 291.1 544.9 291.1 538.1 296.9 504.1 302.8 558.5 308.6 544.9 308.6 538.1 314.4 565.3 320.2 551.7 320.2 544.9 326 544.9 326 538.1 331.8 517.7 331.8 510.9 337.7 517.7 337.7 510.9 343.5 558.5 343.5 551.7 349.3 544.9 349.3 538.1 355.1 538.1 355.1 531.3 360.9 558.5 360.9 551.7 366.7 558.5 366.7 551.7 372.6 510.9 372.6 504.1 372.6 497.3 378.4 551.7 378.4 544.9 384.2 551.7 384.2 544.9 390 551.7 390 544.9 395.8 544.9 395.8 538.1 395.8 531.3 401.6 531.3 401.6 524.5 401.6 517.7 407.4 578.9 413.3 565.3 424.9 538.1 424.9 531.3 424.9 524.5 430.7 572.1 430.7 565.3 436.5 538.1 436.5 531.3 436.5 524.5 442.3 572.1 448.2 544.9 448.2 538.1 448.2 531.3 454 558.5 454 551.7 459.8 572.1 459.8 565.3 465.6 565.3 471.4 578.9 488.9 572.1 488.9 565.3" class="m45"/>
<path d="M238.8 558.5 256.2 558.5 273.7 565.3 279.5 538.1 285.3 551.7 291.1 531.3 296.9 497.3 302.8 551.7 308.6 531.3 308.6 524.5 314.4 558.5 320.2 538.1 320.2 531.3 326 531.3 326 524.5 331.8 504.1 331.8 497.3 337.7 504.1 343.5 544.9 343.5 538.1 343.5 531.3 349.3 531.3 349.3 524.5 355.1 524.5 355.1 517.7 355.1 510.9 360.9 544.9 360.9 538.1 360.9 531.3 366.7 544.9 366.7 538.1 372.6 490.5 372.6 483.7 372.6 476.9 378.4 538.1 378.4 531.3 384.2 538.1 384.2 531.3 390 538.1 390 531.3 390 524.5 395.8 524.5 395.8 517.7 401.6 510.9 401.6 504.1 401.6 497.3 407.4 572.1 413.3 558.5 413.3 551.7 419.1 572.1 419.1 565.3 424.9 517.7 424.9 510.9 424.9 504.1 430.7 558.5 436.5 517.7 436.5 510.9 436.5 504.1 436.5 497.3 442.3 565.3 442.3 558.5 448.2 524.5 448.2 517.7 448.2 510.9 454 544.9 454 538.1 454 531.3 459.8 558.5 465.6 558.5 465.6 551.7 488.9 558.5 506.3 572.1" class="m46"/>
<path d="M250.4 558.5 262 565.3 267.9 490.5 273.7 558.5 279.5 531.3 285.3 544.9 291.1 524.5 296.9 490.5 302.8 544.9 302.8 538.1 308.6 517.7 308.6 510.9 308.6 504.1 314.4 551.7 320.2 524.5 320.2 517.7 326 517.7 326 510.9 331.8 490.5 331.8 483.7 337.7 497.3 337.7 490.5 343.5 524.5 343.5 517.7 349.3 517.7 349.3 510.9 349.3 504.1 355.1 504.1 355.1 497.3 355.1 490.5 360.9 524.5 360.9 517.7 366.7 531.3 366.7 524.5 366.7 517.7 372.6 470.2 372.6 463.4 372.6 456.6 378.4 524.5 378.4 517.7 384.2 524.5 384.2 517.7 384.2 510.9 390 517.7 390 510.9 390 504.1 390 497.3 395.8 510.9 395.8 504.1 395.8 497.3 401.6 490.5 401.6 483.7 407.4 565.3 413.3 544.9 413.3 538.1 419.1 558.5 419.1 551.7 424.9 497.3 424.9 490.5 424.9 483.7 424.9 476.9 430.7 551.7 430.7 544.9 430.7 538.1 436.5 490.5 436.5 483.7 436.5 476.9 436.5 470.2 436.5 463.4 442.3 551.7 442.3 544.9 448.2 504.1 448.2 497.3 448.2 490.5 454 524.5 454 517.7 459.8 551.7 459.8 544.9 459.8 538.1 465.6 544.9 465.6 538.1 465.6 531.3 471.4 572.1 477.2 578.9 483.1 578.9 488.9 551.7 488.9 544.9 488.9 538.1 494.7 578.9 506.3 565.3 523.8 578.9 581.9 578.9" class="m47"/>
<path d="M221.3 572.1 244.6 558.5 256.2 551.7 273.7 551.7 285.3 538.1 291.1 517.7 296.9 483.7 302.8 531.3 308.6 497.3 308.6 490.5 314.4 544.9 314.4 538.1 320.2 510.9 320.2 504.1 326 504.1 326 497.3 331.8 476.9 337.7 483.7 343.5 510.9 343.5 504.1 343.5 497.3 349.3 497.3 349.3 490.5 355.1 483.7 355.1 476.9 360.9 510.9 360.9 504.1 360.9 497.3 366.7 510.9 366.7 504.1 372.6 449.8 372.6 443 372.6 436.2 378.4 510.9 378.4 504.1 384.2 504.1 384.2 497.3 390 490.5 390 483.7 390 476.9 390 470.2 395.8 490.5 395.8 483.7 395.8 476.9 401.6 476.9 401.6 470.2 401.6 463.4 407.4 558.5 407.4 551.7 413.3 531.3 413.3 524.5 413.3 517.7 419.1 544.9 419.1 538.1 424.9 470.2 424.9 463.4 424.9 456.6 424.9 449.8 430.7 531.3 430.7 524.5 430.7 517.7 436.5 456.6 436.5 449.8 436.5 443 436.5 436.2 442.3 538.1 442.3 531.3 442.3 524.5 448.2 483.7 448.2 476.9 448.2 470.2 454 510.9 454 504.1 454 497.3 459.8 531.3 459.8 524.5 459.8 517.7 465.6 524.5 465.6 517.7 465.6 510.9 471.4 565.3 471.4 558.5 477.2 572.1 488.9 531.3 488.9 524.5 500.5 578.9 506.3 558.5 506.3 551.7 518 578.9 529.6 578.9" class="m48"/>
<path d="M262 558.5 279.5 524.5 285.3 531.3 291.1 510.9 302.8 524.5 302.8 517.7 308.6 483.7 308.6 476.9 314.4 531.3 320.2 497.3 320.2 490.5 326 490.5 331.8 470.2 343.5 490.5 343.5 483.7 343.5 476.9 349.3 483.7 349.3 476.9 355.1 470.2 355.1 463.4 360.9 490.5 360.9 483.7 366.7 497.3 366.7 490.5 366.7 483.7 372.6 429.4 372.6 422.6 378.4 497.3 378.4 490.5 378.4 483.7 384.2 490.5 384.2 483.7 390 463.4 390 456.6 390 449.8 395.8 470.2 395.8 463.4 401.6 456.6 407.4 544.9 407.4 538.1 413.3 510.9 413.3 504.1 413.3 497.3 419.1 531.3 419.1 524.5 419.1 517.7 419.1 510.9 424.9 443 424.9 436.2 424.9 429.4 430.7 510.9 430.7 504.1 430.7 497.3 436.5 429.4 436.5 422.6 436.5 415.8 436.5 409 442.3 517.7 442.3 510.9 442.3 504.1 448.2 463.4 448.2 456.6 448.2 449.8 454 490.5 454 483.7 454 476.9 459.8 510.9 459.8 504.1 459.8 497.3 465.6 504.1 465.6 497.3 471.4 551.7 471.4 544.9 477.2 565.3 483.1 572.1 488.9 517.7 488.9 510.9 488.9 504.1 494.7 572.1 506.3 544.9 506.3 538.1 512.1 578.9 523.8 572.1 541.2 578.9" class="m49"/>
<path d="M273.7 544.9 285.3 524.5 308.6 470.2 314.4 524.5 314.4 517.7 320.2 483.7 326 483.7 337.7 476.9 343.5 470.2 343.5 463.4 349.3 470.2 349.3 463.4 355.1 456.6 360.9 476.9 360.9 470.2 366.7 476.9 366.7 470.2 372.6 415.8 378.4 476.9 384.2 476.9 384.2 470.2 390 443 390 436.2 390 429.4 395.8 456.6 401.6 449.8 407.4 531.3 407.4 524.5 407.4 517.7 413.3 490.5 413.3 483.7 413.3 476.9 419.1 504.1 419.1 497.3 419.1 490.5 419.1 483.7 424.9 422.6 424.9 415.8 424.9 409 430.7 490.5 430.7 483.7 430.7 476.9 430.7 470.2 436.5 402.2 436.5 395.4 436.5 388.6 442.3 497.3 442.3 490.5 442.3 483.7 448.2 443 448.2 436.2 454 470.2 454 463.4 454 456.6 459.8 490.5 459.8 483.7 459.8 476.9 459.8 470.2 465.6 490.5 465.6 483.7 465.6 476.9 471.4 538.1 471.4 531.3 477.2 558.5 477.2 551.7 483.1 565.3 483.1 558.5 488.9 497.3 488.9 490.5 488.9 483.7 494.7 565.3 500.5 572.1 506.3 531.3 506.3 524.5 518 572.1 523.8 565.3 529.6 572.1 535.4 578.9 558.7 578.9 564.5 578.9 570.3 578.9 581.9 572.1" class="m50"/>
<path d="M291.1 504.1 302.8 510.9 308.6 463.4 320.2 476.9 326 476.9 331.8 463.4 343.5 456.6 349.3 456.6 355.1 449.8 360.9 463.4 360.9 456.6 366.7 463.4 372.6 409 378.4 470.2 384.2 463.4 390 422.6 390 415.8 390 409 395.8 449.8 395.8 443 401.6 443 407.4 510.9 407.4 504.1 407.4 497.3 413.3 470.2 413.3 463.4 413.3 456.6 419.1 476.9 419.1 470.2 419.1 463.4 424.9 402.2 424.9 395.4 430.7 463.4 430.7 456.6 430.7 449.8 436.5 381.8 436.5 375 442.3 476.9 442.3 470.2 442.3 463.4 448.2 429.4 454 449.8 454 443 459.8 463.4 459.8 456.6 459.8 449.8 465.6 470.2 465.6 463.4 471.4 524.5 471.4 517.7 471.4 510.9 477.2 544.9 477.2 538.1 483.1 551.7 483.1 544.9 488.9 476.9 488.9 470.2 488.9 463.4 494.7 558.5 494.7 551.7 500.5 565.3 500.5 558.5 506.3 517.7 506.3 510.9 512.1 572.1 518 565.3 518 558.5 523.8 558.5 541.2 572.1 547 578.9 552.8 578.9 581.9 565.3" class="m51"/>
<path d="M273.7 538.1 285.3 517.7 302.8 504.1 314.4 510.9 326 470.2 343.5 449.8 343.5 443 360.9 449.8 366.7 456.6 372.6 402.2 378.4 463.4 384.2 456.6 390 402.2 390 395.4 401.6 436.2 407.4 490.5 407.4 483.7 407.4 476.9 413.3 449.8 413.3 443 419.1 456.6 419.1 449.8 419.1 443 419.1 436.2 424.9 388.6 430.7 443 430.7 436.2 430.7 429.4 436.5 368.2 442.3 456.6 442.3 449.8 448.2 422.6 454 436.2 459.8 443 459.8 436.2 459.8 429.4 465.6 456.6 465.6 449.8 471.4 504.1 471.4 497.3 471.4 490.5 477.2 531.3 477.2 524.5 477.2 517.7 483.1 538.1 483.1 531.3 488.9 456.6 488.9 449.8 494.7 544.9 494.7 538.1 500.5 551.7 506.3 504.1 506.3 497.3 512.1 565.3 518 551.7 523.8 551.7 523.8 544.9 529.6 565.3 535.4 572.1 541.2 565.3 558.7 572.1 564.5 572.1 570.3 572.1 581.9 558.5 587.7 578.9 599.4 578.9" class="m52"/>
<path d="M308.6 456.6 314.4 504.1 320.2 470.2 349.3 449.8 355.1 443 378.4 456.6 384.2 449.8 390 388.6 395.8 436.2 407.4 470.2 407.4 463.4 407.4 456.6 413.3 436.2 413.3 429.4 419.1 429.4 419.1 422.6 419.1 415.8 424.9 381.8 430.7 422.6 430.7 415.8 436.5 361.4 442.3 443 442.3 436.2 448.2 415.8 454 429.4 459.8 422.6 459.8 415.8 465.6 443 471.4 483.7 471.4 476.9 477.2 510.9 477.2 504.1 483.1 524.5 483.1 517.7 488.9 443 488.9 436.2 494.7 531.3 494.7 524.5 494.7 517.7 500.5 544.9 500.5 538.1 500.5 531.3 506.3 490.5 506.3 483.7 512.1 558.5 512.1 551.7 518 544.9 518 538.1 523.8 538.1 529.6 558.5 541.2 558.5 547 572.1 552.8 572.1 558.7 565.3 576.1 578.9 581.9 551.7 645.9 578.9" class="m53"/>
<path d="M343.5 436.2 360.9 443 366.7 449.8 407.4 449.8 407.4 443 413.3 422.6 419.1 409 419.1 402.2 424.9 375 430.7 409 436.5 354.6 442.3 429.4 454 422.6 459.8 409 465.6 436.2 471.4 470.2 471.4 463.4 477.2 497.3 477.2 490.5 477.2 483.7 483.1 510.9 483.1 504.1 483.1 497.3 488.9 429.4 494.7 510.9 494.7 504.1 500.5 524.5 500.5 517.7 506.3 476.9 512.1 544.9 518 531.3 518 524.5 523.8 531.3 529.6 551.7 535.4 565.3 541.2 551.7 547 565.3 552.8 565.3 564.5 565.3 570.3 565.3 587.7 572.1 593.6 578.9 599.4 572.1 605.2 578.9" class="m54"/>
<path d="M390 381.8 407.4 436.2 407.4 429.4 419.1 395.4 419.1 388.6 430.7 402.2 442.3 422.6 459.8 402.2 465.6 429.4 471.4 456.6 471.4 449.8 477.2 476.9 477.2 470.2 483.1 490.5 483.1 483.7 494.7 497.3 494.7 490.5 500.5 510.9 500.5 504.1 512.1 538.1 512.1 531.3 518 517.7 518 510.9 523.8 524.5 529.6 544.9 535.4 558.5 541.2 544.9 547 558.5 552.8 558.5 558.7 558.5 564.5 558.5 570.3 558.5 576.1 572.1 581.9 544.9 587.7 565.3 599.4 565.3 611 578.9 634.3 578.9" class="m55"/>
<path d="M407.4 422.6 413.3 415.8 419.1 381.8 430.7 395.4 442.3 415.8 459.8 395.4 471.4 443 477.2 463.4 477.2 456.6 483.1 476.9 488.9 422.6 494.7 483.7 494.7 476.9 500.5 497.3 500.5 490.5 506.3 470.2 512.1 524.5 518 504.1 523.8 517.7 529.6 538.1 535.4 551.7 541.2 538.1 547 551.7 547 544.9 552.8 551.7 552.8 544.9 558.7 551.7 593.6 572.1 599.4 558.5 616.8 578.9 657.5 578.9" class="m56"/>
<path d="M419.1 375 477.2 449.8 483.1 470.2 494.7 470.2 494.7 463.4 500.5 483.7 500.5 476.9 512.1 517.7 512.1 510.9 518 497.3 535.4 544.9 541.2 531.3 547 538.1 547 531.3 552.8 538.1 564.5 551.7 570.3 551.7 576.1 565.3 581.9 538.1 587.7 558.5 599.4 551.7 605.2 572.1 640.1 578.9 645.9 572.1 675 578.9" class="m57"/>
<path d="M407.4 415.8 471.4 436.2 483.1 463.4 494.7 456.6 500.5 470.2 512.1 504.1 518 490.5 523.8 510.9 529.6 531.3 535.4 538.1 547 524.5 552.8 531.3 558.7 544.9 587.7 551.7 593.6 565.3 605.2 565.3 622.6 578.9 634.3 572.1 669.2 578.9" class="m58"/>
<path d="M477.2 443 483.1 456.6 500.5 463.4 518 483.7 541.2 524.5 547 517.7 547 510.9 552.8 524.5 552.8 517.7 564.5 544.9 570.3 544.9 576.1 558.5 593.6 558.5 599.4 544.9 605.2 558.5 611 572.1 628.5 578.9 651.7 578.9 663.4 578.9" class="m59"/>
<path d="M494.7 449.8 500.5 456.6 512.1 497.3 535.4 531.3 547 504.1 552.8 510.9 587.7 544.9 616.8 572.1 657.5 572.1" class="m60"/>
<path d="M547 497.3 576.1 551.7 593.6 551.7 599.4 538.1 605.2 551.7 634.3 565.3 675 572.1" class="m61"/>
<path d="M552.8 504.1 640.1 572.1" class="m62"/>
<path d="M547 490.5 593.6 544.9 605.2 544.9 651.7 572.1" class="m63"/>
<polyline points="99.2,586 102.2,585.9 105.2,585.9 108.2,585.8 111.2,585.8 114.2,585.7 117.2,585.6 120.2,585.5 123.2,585.3 126.2,585.2 129.2,585.1 132.2,584.9 135.2,584.7 138.2,584.5 141.2,584.3 144.2,584.1 147.2,583.8 150.2,583.5 153.2,583.1 156.2,582.7 159.2,582.3 162.2,581.9 165.2,581.4 168.2,581 171.2,580.5 174.1,580 177.1,579.4 180.1,578.8 183.1,578.2 186.1,577.5 189.1,576.8 192.1,576 195.1,575.3 198.1,574.4 201.1,573.6 204.1,572.6 207.1,571.7 210.1,570.6 213.1,569.5 216.1,568.4 219.1,567.1 222.1,565.8 225.1,564.5 228.1,563 231.1,561.5 234.1,559.9 237.1,558.2 240.1,556.4 243.1,554.5 246.1,552.5 249.1,550.3 252.1,548.1 255.1,545.7 258.1,543.2 261.1,540.5 264.1,537.7 267.1,534.8 270.1,531.7 273.1,528.4 276.1,525.1 279.1,521.7 282.1,518.3 285.1,515 288.1,511.7 291.1,508.6 294.1,505.6 297.1,502.6 300.1,499.7 303.1,496.8 306.1,494.1 309.1,491.4 312.1,488.7 315.1,486.1 318,483.5 321,480.9 324,478.3 327,475.6 330,473 333,470.3 336,467.8 339,465.3 342,462.8 345,460.5 348,458.2 351,455.9 354,453.8 357,451.7 360,449.7 363,447.7 366,445.8 369,443.9 372,442.1 375,440.3 378,438.5 381,436.7 384,434.9 387,433.1 390,431.4 393,429.6 396,427.9 399,426.2 402,424.3 405,422.4 408,420.4 411,418.5 414,416.7 417,415.1 420,413.8 423,412.8 426,412.2 429,411.9 432,412.2 435,412.9 438,414.1 441,415.7 444,417.7 447,419.9 450,422.3 453,424.8 456,427.2 459,429.7 462,432.4 464.9,435.2 467.9,438.3 470.9,441.6 473.9,445 476.9,448.5 479.9,452 482.9,455.4 485.9,458.8 488.9,462.2 491.9,465.6 494.9,469 497.9,472.5 500.9,476.2 503.9,479.9 506.9,483.6 509.9,487.4 512.9,491.2 515.9,495.1 518.9,499 521.9,502.9 524.9,506.7 527.9,510.3 530.9,513.7 533.9,516.7 536.9,519.5 539.9,521.9 542.9,524.2 545.9,526.4 548.9,528.3 551.9,530.2 554.9,531.9 557.9,533.5 560.9,535 563.9,536.4 566.9,537.8 569.9,539 572.9,540.2 575.9,541.4 578.9,542.5 581.9,543.6 584.9,544.8 587.9,546 590.9,547.4 593.9,548.8 596.9,550.3 599.9,551.8 602.9,553.5 605.9,555.3 608.8,557.2 611.8,559.1 614.8,561.1 617.8,563 620.8,564.8 623.8,566.5 626.8,568.1 629.8,569.6 632.8,570.9 635.8,572.1 638.8,573.1 641.8,574 644.8,574.8 647.8,575.5 650.8,576.2 653.8,576.8 656.8,577.4 659.8,578 662.8,578.6 665.8,579.1 668.8,579.6 671.8,580.1 674.8,580.5 677.8,580.9 680.8,581.2" fill="none" stroke="#000" stroke-width="2.9" stroke-linejoin="round" stroke-linecap="round"/>
<line x1="390" y1="597.4" x2="390" y2="336.6" stroke="#000" stroke-width="3.3" stroke-dasharray="2.9 9.35"/>
</g>
<rect x="70.5" y="336.6" width="639.8" height="260.5" fill="none" stroke="#333" stroke-width="2"/>
<rect x="710.3" y="336.6" width="40.4" height="260.5" fill="#d9d9d9" stroke="#333" stroke-width="2"/>
<text x="0" y="0" transform="translate(730.5 466.9) rotate(90)" class="st">negative</text>
<line x1="62.2" y1="585.7" x2="70.5" y2="585.7" stroke="#333" stroke-width="2.2"/>
<text x="55.5" y="586.5" class="yl">0</text>
<line x1="62.2" y1="517.7" x2="70.5" y2="517.7" stroke="#333" stroke-width="2.2"/>
<text x="55.5" y="518.5" class="yl">10</text>
<line x1="62.2" y1="449.8" x2="70.5" y2="449.8" stroke="#333" stroke-width="2.2"/>
<text x="55.5" y="450.6" class="yl">20</text>
<line x1="62.2" y1="381.8" x2="70.5" y2="381.8" stroke="#333" stroke-width="2.2"/>
<text x="55.5" y="382.6" class="yl">30</text>
<clipPath id="cL3"><rect x="70.5" y="614.2" width="639.8" height="260.5"/></clipPath>
<g clip-path="url(#cL3)">
<path d="M256.2 856.5 302.8 856.5" class="m39"/>
<path d="M250.4 856.5 262 856.5 279.5 856.5 285.3 856.5 302.8 849.7 314.4 856.5 343.5 856.5 349.3 856.5" class="m40"/>
<path d="M215.5 856.5 256.2 849.7 262 849.7 267.9 856.5 273.7 856.5 279.5 849.7 285.3 849.7 296.9 856.5 302.8 842.9 302.8 836.1 314.4 849.7 320.2 856.5 331.8 856.5 337.7 856.5 343.5 849.7 349.3 849.7 366.7 856.5 372.6 856.5 384.2 856.5" class="m41"/>
<path d="M186.4 856.5 198.1 856.5 233 856.5 238.8 856.5 250.4 849.7 256.2 842.9 267.9 849.7 273.7 849.7 273.7 842.9 279.5 842.9 279.5 836.1 285.3 842.9 296.9 849.7 302.8 829.3 302.8 822.5 308.6 856.5 314.4 842.9 314.4 836.1 320.2 849.7 331.8 849.7 343.5 842.9 343.5 836.1 349.3 842.9 360.9 856.5 366.7 849.7 372.6 849.7 378.4 856.5 384.2 849.7 390 856.5 395.8 856.5 401.6 856.5 413.3 856.5" class="m42"/>
<path d="M203.9 856.5 209.7 856.5 215.5 849.7 221.3 856.5 250.4 842.9 250.4 836.1 256.2 836.1 262 842.9 267.9 842.9 273.7 836.1 273.7 829.3 279.5 829.3 279.5 822.5 285.3 836.1 285.3 829.3 285.3 822.5 291.1 856.5 296.9 842.9 296.9 836.1 302.8 815.7 302.8 808.9 302.8 802.1 308.6 849.7 314.4 829.3 314.4 822.5 314.4 815.7 320.2 842.9 320.2 836.1 326 856.5 331.8 842.9 331.8 836.1 337.7 849.7 337.7 842.9 343.5 829.3 343.5 822.5 343.5 815.7 349.3 836.1 349.3 829.3 349.3 822.5 355.1 856.5 366.7 842.9 366.7 836.1 372.6 842.9 372.6 836.1 384.2 842.9 384.2 836.1 384.2 829.3 390 849.7 401.6 849.7 413.3 849.7 419.1 856.5 424.9 856.5 430.7 856.5 442.3 856.5" class="m43"/>
<path d="M192.3 856.5 198.1 849.7 215.5 842.9 227.2 856.5 244.6 856.5 250.4 829.3 262 836.1 267.9 836.1 273.7 822.5 273.7 815.7 273.7 808.9 279.5 815.7 279.5 808.9 279.5 802.1 285.3 815.7 285.3 808.9 285.3 802.1 291.1 849.7 296.9 829.3 296.9 822.5 296.9 815.7 302.8 795.3 302.8 788.5 308.6 842.9 314.4 808.9 314.4 802.1 314.4 795.3 320.2 829.3 320.2 822.5 320.2 815.7 326 849.7 326 842.9 331.8 829.3 331.8 822.5 331.8 815.7 337.7 836.1 337.7 829.3 337.7 822.5 343.5 808.9 343.5 802.1 343.5 795.3 343.5 788.5 349.3 815.7 349.3 808.9 349.3 802.1 349.3 795.3 355.1 849.7 355.1 842.9 360.9 849.7 360.9 842.9 366.7 829.3 366.7 822.5 366.7 815.7 366.7 808.9 372.6 829.3 372.6 822.5 372.6 815.7 372.6 808.9 378.4 849.7 378.4 842.9 384.2 822.5 384.2 815.7 384.2 808.9 390 842.9 390 836.1 390 829.3 395.8 849.7 395.8 842.9 401.6 842.9 407.4 856.5 413.3 842.9 413.3 836.1 419.1 849.7 424.9 849.7 430.7 849.7 436.5 856.5 448.2 856.5 459.8 856.5 483.1 856.5" class="m44"/>
<path d="M215.5 836.1 233 849.7 238.8 849.7 256.2 829.3 262 829.3 267.9 829.3 273.7 802.1 273.7 795.3 273.7 788.5 279.5 795.3 279.5 788.5 285.3 795.3 285.3 788.5 291.1 842.9 291.1 836.1 296.9 808.9 296.9 802.1 302.8 781.7 302.8 774.9 308.6 836.1 308.6 829.3 314.4 788.5 314.4 781.7 314.4 774.9 320.2 808.9 320.2 802.1 320.2 795.3 320.2 788.5 326 836.1 326 829.3 331.8 808.9 331.8 802.1 331.8 795.3 337.7 815.7 337.7 808.9 337.7 802.1 343.5 781.7 343.5 774.9 343.5 768.1 349.3 788.5 349.3 781.7 349.3 774.9 355.1 836.1 355.1 829.3 360.9 836.1 360.9 829.3 360.9 822.5 366.7 802.1 366.7 795.3 366.7 788.5 372.6 802.1 372.6 795.3 372.6 788.5 372.6 781.7 372.6 774.9 378.4 836.1 378.4 829.3 378.4 822.5 378.4 815.7 384.2 802.1 384.2 795.3 384.2 788.5 384.2 781.7 390 822.5 390 815.7 390 808.9 395.8 836.1 395.8 829.3 395.8 822.5 401.6 836.1 401.6 829.3 401.6 822.5 401.6 815.7 407.4 849.7 407.4 842.9 413.3 829.3 413.3 822.5 413.3 815.7 413.3 808.9 419.1 842.9 419.1 836.1 419.1 829.3 424.9 842.9 424.9 836.1 424.9 829.3 430.7 842.9 430.7 836.1 430.7 829.3 436.5 849.7 436.5 842.9 442.3 849.7 442.3 842.9 448.2 849.7 454 856.5 459.8 849.7 465.6 856.5 471.4 856.5 477.2 856.5 483.1 849.7" class="m45"/>
<path d="M215.5 829.3 250.4 822.5 273.7 781.7 273.7 774.9 279.5 781.7 279.5 774.9 285.3 781.7 285.3 774.9 291.1 829.3 291.1 822.5 296.9 795.3 296.9 788.5 302.8 768.1 308.6 822.5 308.6 815.7 314.4 768.1 314.4 761.3 314.4 754.5 320.2 781.7 320.2 774.9 320.2 768.1 326 822.5 326 815.7 326 808.9 331.8 788.5 331.8 781.7 331.8 774.9 331.8 768.1 337.7 795.3 337.7 788.5 337.7 781.7 343.5 761.3 343.5 754.5 349.3 768.1 349.3 761.3 349.3 754.5 355.1 822.5 355.1 815.7 355.1 808.9 355.1 802.1 360.9 815.7 360.9 808.9 360.9 802.1 366.7 781.7 366.7 774.9 366.7 768.1 366.7 761.3 372.6 768.1 372.6 761.3 372.6 754.5 372.6 747.8 372.6 741 378.4 808.9 378.4 802.1 378.4 795.3 378.4 788.5 384.2 774.9 384.2 768.1 384.2 761.3 384.2 754.5 390 802.1 390 795.3 390 788.5 390 781.7 395.8 815.7 395.8 808.9 395.8 802.1 395.8 795.3 401.6 808.9 401.6 802.1 401.6 795.3 401.6 788.5 407.4 836.1 407.4 829.3 413.3 802.1 413.3 795.3 413.3 788.5 413.3 781.7 419.1 822.5 419.1 815.7 419.1 808.9 419.1 802.1 424.9 822.5 424.9 815.7 424.9 808.9 424.9 802.1 430.7 822.5 430.7 815.7 430.7 808.9 430.7 802.1 436.5 836.1 436.5 829.3 442.3 836.1 442.3 829.3 442.3 822.5 448.2 842.9 448.2 836.1 454 849.7 459.8 842.9 459.8 836.1 465.6 849.7 471.4 849.7 477.2 849.7 483.1 842.9 483.1 836.1 488.9 856.5 494.7 856.5" class="m46"/>
<path d="M215.5 822.5 267.9 822.5 273.7 768.1 273.7 761.3 279.5 768.1 285.3 768.1 285.3 761.3 291.1 815.7 291.1 808.9 291.1 802.1 296.9 781.7 302.8 761.3 308.6 808.9 308.6 802.1 314.4 747.8 320.2 761.3 320.2 754.5 326 802.1 326 795.3 326 788.5 331.8 761.3 331.8 754.5 331.8 747.8 337.7 774.9 337.7 768.1 337.7 761.3 343.5 747.8 349.3 747.8 349.3 741 355.1 795.3 355.1 788.5 355.1 781.7 355.1 774.9 360.9 795.3 360.9 788.5 360.9 781.7 360.9 774.9 366.7 754.5 366.7 747.8 366.7 741 372.6 734.2 372.6 727.4 372.6 720.6 372.6 713.8 372.6 707 372.6 700.2 378.4 781.7 378.4 774.9 378.4 768.1 378.4 761.3 378.4 754.5 378.4 747.8 384.2 747.8 384.2 741 384.2 734.2 390 774.9 390 768.1 390 761.3 390 754.5 395.8 788.5 395.8 781.7 395.8 774.9 401.6 781.7 401.6 774.9 401.6 768.1 401.6 761.3 401.6 754.5 407.4 822.5 407.4 815.7 407.4 808.9 407.4 802.1 413.3 774.9 413.3 768.1 413.3 761.3 413.3 754.5 413.3 747.8 413.3 741 419.1 795.3 419.1 788.5 419.1 781.7 419.1 774.9 419.1 768.1 424.9 795.3 424.9 788.5 424.9 781.7 424.9 774.9 430.7 795.3 430.7 788.5 430.7 781.7 430.7 774.9 430.7 768.1 436.5 822.5 436.5 815.7 436.5 808.9 436.5 802.1 442.3 815.7 442.3 808.9 442.3 802.1 442.3 795.3 442.3 788.5 448.2 829.3 448.2 822.5 448.2 815.7 448.2 808.9 454 842.9 459.8 829.3 459.8 822.5 459.8 815.7 465.6 842.9 465.6 836.1 471.4 842.9 471.4 836.1 477.2 842.9 483.1 829.3 483.1 822.5 483.1 815.7 494.7 849.7 494.7 842.9 500.5 856.5 506.3 856.5 512.1 856.5 518 856.5 523.8 856.5 529.6 856.5 535.4 856.5" class="m47"/>
<path d="M273.7 754.5 279.5 761.3 285.3 754.5 291.1 795.3 291.1 788.5 296.9 774.9 308.6 795.3 308.6 788.5 314.4 741 320.2 747.8 320.2 741 326 781.7 326 774.9 331.8 741 337.7 754.5 337.7 747.8 343.5 741 349.3 734.2 355.1 768.1 355.1 761.3 355.1 754.5 360.9 768.1 360.9 761.3 360.9 754.5 366.7 734.2 372.6 693.4 372.6 686.6 372.6 679.8 372.6 673 378.4 741 378.4 734.2 378.4 727.4 378.4 720.6 378.4 713.8 384.2 727.4 384.2 720.6 390 747.8 390 741 390 734.2 395.8 768.1 395.8 761.3 395.8 754.5 395.8 747.8 401.6 747.8 401.6 741 401.6 734.2 401.6 727.4 407.4 795.3 407.4 788.5 407.4 781.7 407.4 774.9 413.3 734.2 413.3 727.4 413.3 720.6 413.3 713.8 419.1 761.3 419.1 754.5 419.1 747.8 419.1 741 419.1 734.2 424.9 768.1 424.9 761.3 424.9 754.5 424.9 747.8 430.7 761.3 430.7 754.5 430.7 747.8 430.7 741 436.5 795.3 436.5 788.5 436.5 781.7 436.5 774.9 442.3 781.7 442.3 774.9 442.3 768.1 442.3 761.3 442.3 754.5 448.2 802.1 448.2 795.3 448.2 788.5 448.2 781.7 454 836.1 454 829.3 454 822.5 459.8 808.9 459.8 802.1 459.8 795.3 465.6 829.3 465.6 822.5 465.6 815.7 471.4 829.3 471.4 822.5 471.4 815.7 477.2 836.1 477.2 829.3 477.2 822.5 483.1 808.9 483.1 802.1 488.9 849.7 488.9 842.9 494.7 836.1 494.7 829.3 494.7 822.5 500.5 849.7 506.3 849.7 512.1 849.7 535.4 849.7 558.7 856.5" class="m48"/>
<path d="M273.7 747.8 291.1 781.7 320.2 734.2 326 768.1 326 761.3 331.8 734.2 337.7 741 349.3 727.4 355.1 747.8 355.1 741 355.1 734.2 360.9 747.8 360.9 741 360.9 734.2 366.7 727.4 372.6 666.2 372.6 659.4 378.4 707 378.4 700.2 378.4 693.4 378.4 686.6 384.2 713.8 390 727.4 390 720.6 395.8 741 395.8 734.2 401.6 720.6 401.6 713.8 401.6 707 407.4 768.1 407.4 761.3 407.4 754.5 407.4 747.8 413.3 707 413.3 700.2 413.3 693.4 413.3 686.6 419.1 727.4 419.1 720.6 419.1 713.8 419.1 707 424.9 741 424.9 734.2 424.9 727.4 430.7 734.2 430.7 727.4 430.7 720.6 430.7 713.8 436.5 768.1 436.5 761.3 436.5 754.5 436.5 747.8 442.3 747.8 442.3 741 442.3 734.2 442.3 727.4 448.2 774.9 448.2 768.1 448.2 761.3 448.2 754.5 454 815.7 454 808.9 454 802.1 459.8 788.5 459.8 781.7 459.8 774.9 465.6 808.9 465.6 802.1 465.6 795.3 471.4 808.9 471.4 802.1 471.4 795.3 471.4 788.5 477.2 815.7 477.2 808.9 477.2 802.1 477.2 795.3 483.1 795.3 483.1 788.5 483.1 781.7 488.9 836.1 488.9 829.3 494.7 815.7 494.7 808.9 494.7 802.1 494.7 795.3 500.5 842.9 500.5 836.1 506.3 842.9 506.3 836.1 512.1 842.9 512.1 836.1 518 849.7 518 842.9 523.8 849.7 523.8 842.9 529.6 849.7 529.6 842.9 535.4 842.9 541.2 856.5 558.7 849.7 564.5 856.5 576.1 856.5 581.9 856.5 587.7 856.5" class="m49"/>
<path d="M291.1 774.9 308.6 781.7 326 754.5 331.8 727.4 337.7 734.2 355.1 727.4 355.1 720.6 360.9 727.4 366.7 720.6 372.6 652.6 378.4 679.8 378.4 673 384.2 707 390 713.8 395.8 727.4 401.6 700.2 401.6 693.4 407.4 741 407.4 734.2 407.4 727.4 413.3 679.8 413.3 673 419.1 700.2 419.1 693.4 419.1 686.6 424.9 720.6 424.9 713.8 430.7 707 430.7 700.2 436.5 741 436.5 734.2 436.5 727.4 442.3 720.6 442.3 713.8 442.3 707 448.2 747.8 448.2 741 448.2 734.2 454 795.3 454 788.5 454 781.7 459.8 768.1 459.8 761.3 465.6 788.5 465.6 781.7 465.6 774.9 471.4 781.7 471.4 774.9 471.4 768.1 477.2 788.5 477.2 781.7 477.2 774.9 483.1 774.9 488.9 822.5 488.9 815.7 488.9 808.9 494.7 788.5 494.7 781.7 494.7 774.9 494.7 768.1 494.7 761.3 500.5 829.3 500.5 822.5 506.3 829.3 506.3 822.5 506.3 815.7 512.1 829.3 512.1 822.5 518 836.1 518 829.3 523.8 836.1 523.8 829.3 529.6 836.1 529.6 829.3 535.4 836.1 535.4 829.3 535.4 822.5 541.2 849.7 541.2 842.9 547 856.5 564.5 849.7 576.1 849.7 587.7 849.7" class="m50"/>
<path d="M291.1 768.1 326 747.8 360.9 720.6 372.6 645.8 378.4 666.2 390 707 395.8 720.6 407.4 720.6 407.4 713.8 419.1 679.8 419.1 673 424.9 707 430.7 693.4 436.5 720.6 436.5 713.8 442.3 700.2 442.3 693.4 448.2 727.4 448.2 720.6 448.2 713.8 454 774.9 454 768.1 459.8 754.5 465.6 768.1 465.6 761.3 465.6 754.5 471.4 761.3 471.4 754.5 471.4 747.8 477.2 768.1 477.2 761.3 477.2 754.5 483.1 768.1 488.9 802.1 488.9 795.3 494.7 754.5 494.7 747.8 494.7 741 494.7 734.2 500.5 815.7 500.5 808.9 500.5 802.1 500.5 795.3 506.3 808.9 506.3 802.1 506.3 795.3 512.1 815.7 512.1 808.9 518 822.5 518 815.7 518 808.9 523.8 822.5 523.8 815.7 529.6 822.5 529.6 815.7 529.6 808.9 535.4 815.7 535.4 808.9 541.2 836.1 541.2 829.3 552.8 856.5 558.7 842.9 564.5 842.9 570.3 856.5 576.1 842.9 581.9 849.7 581.9 842.9 587.7 842.9 611 856.5" class="m51"/>
<path d="M355.1 713.8 378.4 659.4 401.6 686.6 407.4 707 413.3 666.2 419.1 666.2 424.9 700.2 430.7 686.6 436.5 707 442.3 686.6 448.2 707 454 761.3 454 754.5 459.8 747.8 465.6 747.8 465.6 741 471.4 741 471.4 734.2 477.2 747.8 477.2 741 483.1 761.3 488.9 788.5 488.9 781.7 494.7 727.4 494.7 720.6 494.7 713.8 494.7 707 500.5 788.5 500.5 781.7 506.3 788.5 506.3 781.7 506.3 774.9 512.1 802.1 512.1 795.3 518 802.1 518 795.3 518 788.5 523.8 808.9 523.8 802.1 529.6 802.1 529.6 795.3 535.4 802.1 535.4 795.3 535.4 788.5 541.2 822.5 541.2 815.7 547 849.7 552.8 849.7 558.7 836.1 564.5 836.1 564.5 829.3 570.3 849.7 576.1 836.1 581.9 836.1 587.7 836.1 593.6 856.5" class="m52"/>
<path d="M407.4 700.2 436.5 700.2 442.3 679.8 448.2 700.2 477.2 734.2 488.9 774.9 488.9 768.1 494.7 700.2 494.7 693.4 500.5 774.9 500.5 768.1 500.5 761.3 506.3 768.1 506.3 761.3 512.1 788.5 512.1 781.7 518 781.7 518 774.9 518 768.1 523.8 795.3 523.8 788.5 529.6 788.5 529.6 781.7 535.4 781.7 535.4 774.9 541.2 808.9 541.2 802.1 541.2 795.3 547 842.9 558.7 829.3 564.5 822.5 564.5 815.7 570.3 842.9 576.1 829.3 581.9 829.3 581.9 822.5 587.7 829.3 587.7 822.5 593.6 849.7 599.4 856.5 605.2 856.5 611 849.7 616.8 856.5" class="m53"/>
<path d="M454 747.8 465.6 734.2 471.4 727.4 477.2 727.4 488.9 761.3 494.7 686.6 500.5 754.5 506.3 754.5 518 761.3 523.8 781.7 529.6 774.9 535.4 768.1 541.2 788.5 547 836.1 552.8 842.9 564.5 808.9 564.5 802.1 570.3 836.1 581.9 815.7 581.9 808.9 587.7 815.7 593.6 842.9 599.4 849.7" class="m54"/>
<path d="M494.7 679.8 500.5 747.8 506.3 747.8 512.1 774.9 518 754.5 523.8 774.9 529.6 768.1 535.4 761.3 541.2 781.7 541.2 774.9 547 829.3 552.8 836.1 564.5 795.3 564.5 788.5 570.3 829.3 576.1 822.5 581.9 802.1 593.6 836.1 599.4 842.9 605.2 849.7 611 842.9 616.8 849.7 622.6 856.5 628.5 856.5" class="m55"/>
<path d="M518 747.8 541.2 768.1 547 822.5 552.8 829.3 587.7 808.9 593.6 829.3 599.4 836.1 616.8 842.9 634.3 856.5 640.1 856.5" class="m56"/>
<path d="M564.5 781.7 570.3 822.5 581.9 795.3 599.4 829.3 645.9 856.5" class="m57"/>
<path d="M593.6 822.5 605.2 842.9 616.8 836.1 622.6 849.7 628.5 849.7 651.7 856.5 657.5 856.5 680.8 856.5" class="m58"/>
<path d="M599.4 822.5 663.4 856.5" class="m59"/>
<path d="M657.5 849.7" class="m61"/>
<polyline points="99.2,863.1 102.2,863.1 105.2,863 108.2,863 111.2,863 114.2,862.9 117.2,862.9 120.2,862.8 123.2,862.8 126.2,862.7 129.2,862.6 132.2,862.5 135.2,862.4 138.2,862.3 141.2,862.2 144.2,862 147.2,861.9 150.2,861.7 153.2,861.5 156.2,861.2 159.2,860.8 162.2,860.3 165.2,859.8 168.2,859.2 171.2,858.6 174.1,858 177.1,857.4 180.1,856.7 183.1,856.1 186.1,855.4 189.1,854.6 192.1,853.9 195.1,853.1 198.1,852.3 201.1,851.5 204.1,850.7 207.1,849.9 210.1,849.1 213.1,848.3 216.1,847.5 219.1,846.5 222.1,845.5 225.1,844.4 228.1,843 231.1,841.4 234.1,839.5 237.1,837.4 240.1,834.9 243.1,832 246.1,828.8 249.1,825.4 252.1,821.7 255.1,817.8 258.1,813.9 261.1,809.9 264.1,806 267.1,802.3 270.1,798.8 273.1,795.5 276.1,792.4 279.1,789.5 282.1,786.6 285.1,783.8 288.1,781 291.1,778.3 294.1,775.6 297.1,773 300.1,770.5 303.1,768 306.1,765.6 309.1,763.3 312.1,761.1 315.1,758.9 318,756.6 321,754.2 324,751.8 327,749.3 330,746.8 333,744.1 336,741.4 339,738.6 342,735.7 345,732.7 348,729.7 351,726.7 354,723.7 357,720.8 360,718 363,715.3 366,712.8 369,710.6 372,708.8 375,707.5 378,706.7 381,706.2 384,705.8 387,705.6 390,705.5 393,705.4 396,705.4 399,705.5 402,705.6 405,705.8 408,706.1 411,706.4 414,706.7 417,707.1 420,707.6 423,708.3 426,709.1 429,710.1 432,711.3 435,712.7 438,714.3 441,716.1 444,718.1 447,720.3 450,722.6 453,724.9 456,727.1 459,729.1 462,731.1 464.9,732.9 467.9,734.6 470.9,736.2 473.9,737.6 476.9,738.9 479.9,740.1 482.9,741.2 485.9,742.3 488.9,743.5 491.9,744.9 494.9,746.6 497.9,748.5 500.9,750.6 503.9,752.9 506.9,755.4 509.9,758 512.9,760.7 515.9,763.5 518.9,766.5 521.9,769.5 524.9,772.6 527.9,775.7 530.9,778.7 533.9,781.7 536.9,784.7 539.9,787.7 542.9,790.8 545.9,793.8 548.9,796.9 551.9,800 554.9,802.9 557.9,805.5 560.9,807.8 563.9,809.7 566.9,811.4 569.9,812.9 572.9,814.4 575.9,815.9 578.9,817.5 581.9,819.1 584.9,820.9 587.9,822.8 590.9,824.7 593.9,826.7 596.9,828.8 599.9,831 602.9,833.2 605.9,835.5 608.8,837.7 611.8,839.9 614.8,842.1 617.8,844.2 620.8,846.2 623.8,848.1 626.8,849.9 629.8,851.5 632.8,853 635.8,854.3 638.8,855.4 641.8,856.4 644.8,857.3 647.8,858 650.8,858.5 653.8,859 656.8,859.3 659.8,859.6 662.8,859.9 665.8,860.2 668.8,860.4 671.8,860.5 674.8,860.7 677.8,860.7 680.8,860.8" fill="none" stroke="#000" stroke-width="2.9" stroke-linejoin="round" stroke-linecap="round"/>
<line x1="390" y1="875.0" x2="390" y2="614.2" stroke="#000" stroke-width="3.3" stroke-dasharray="2.9 9.35"/>
</g>
<rect x="70.5" y="614.2" width="639.8" height="260.5" fill="none" stroke="#333" stroke-width="2"/>
<rect x="710.3" y="614.2" width="40.4" height="260.5" fill="#d9d9d9" stroke="#333" stroke-width="2"/>
<text x="0" y="0" transform="translate(730.5 744.5) rotate(90)" class="st">disorganized</text>
<line x1="62.2" y1="863.3" x2="70.5" y2="863.3" stroke="#333" stroke-width="2.2"/>
<text x="55.5" y="864.1" class="yl">0</text>
<line x1="62.2" y1="795.3" x2="70.5" y2="795.3" stroke="#333" stroke-width="2.2"/>
<text x="55.5" y="796.1" class="yl">10</text>
<line x1="62.2" y1="727.4" x2="70.5" y2="727.4" stroke="#333" stroke-width="2.2"/>
<text x="55.5" y="728.2" class="yl">20</text>
<line x1="62.2" y1="659.4" x2="70.5" y2="659.4" stroke="#333" stroke-width="2.2"/>
<text x="55.5" y="660.2" class="yl">30</text>
<clipPath id="cL4"><rect x="70.5" y="891.8000000000001" width="639.8" height="260.5"/></clipPath>
<g clip-path="url(#cL4)">
<path d="M198.1 1134.1 227.2 1134.1 244.6 1134.1 262 1134.1 267.9 1134.1 267.9 1127.3 279.5 1134.1 285.3 1134.1 302.8 1134.1 308.6 1134.1 331.8 1134.1 349.3 1134.1" class="m0"/>
<path d="M145.7 1134.1 180.6 1134.1 186.4 1134.1 209.7 1134.1 233 1134.1 250.4 1134.1 267.9 1120.5 273.7 1134.1 291.1 1134.1 296.9 1134.1 314.4 1134.1 320.2 1134.1 326 1134.1 349.3 1127.3 355.1 1134.1 384.2 1134.1" class="m1"/>
<path d="M128.3 1134.1 192.3 1134.1 198.1 1127.3 203.9 1134.1 215.5 1134.1 221.3 1134.1 227.2 1127.3 238.8 1134.1 244.6 1127.3 256.2 1134.1 262 1127.3 267.9 1113.7 267.9 1106.9 273.7 1127.3 279.5 1127.3 285.3 1127.3 302.8 1127.3 308.6 1127.3 308.6 1120.5 314.4 1127.3 326 1127.3 331.8 1127.3 331.8 1120.5 337.7 1134.1 349.3 1120.5 355.1 1127.3 366.7 1134.1 372.6 1134.1 378.4 1134.1 384.2 1127.3" class="m2"/>
<path d="M145.7 1127.3 180.6 1127.3 209.7 1127.3 233 1127.3 244.6 1120.5 250.4 1127.3 262 1120.5 267.9 1100.1 285.3 1120.5 285.3 1113.7 291.1 1127.3 296.9 1127.3 302.8 1120.5 302.8 1113.7 308.6 1113.7 308.6 1106.9 314.4 1120.5 314.4 1113.7 320.2 1127.3 320.2 1120.5 326 1120.5 326 1113.7 331.8 1113.7 331.8 1106.9 337.7 1127.3 343.5 1134.1 349.3 1113.7 349.3 1106.9 355.1 1120.5 360.9 1134.1 366.7 1127.3 372.6 1127.3 378.4 1127.3 384.2 1120.5 390 1134.1 395.8 1134.1 413.3 1134.1" class="m3"/>
<path d="M157.4 1134.1 186.4 1127.3 209.7 1120.5 227.2 1120.5 238.8 1127.3 244.6 1113.7 250.4 1120.5 256.2 1127.3 262 1113.7 267.9 1093.3 273.7 1120.5 279.5 1120.5 285.3 1106.9 285.3 1100.1 285.3 1093.3 291.1 1120.5 291.1 1113.7 296.9 1120.5 296.9 1113.7 302.8 1106.9 308.6 1100.1 308.6 1093.3 314.4 1106.9 314.4 1100.1 320.2 1113.7 320.2 1106.9 326 1106.9 326 1100.1 331.8 1100.1 331.8 1093.3 331.8 1086.5 337.7 1120.5 337.7 1113.7 343.5 1127.3 349.3 1100.1 349.3 1093.3 349.3 1086.5 355.1 1113.7 355.1 1106.9 360.9 1127.3 366.7 1120.5 366.7 1113.7 372.6 1120.5 372.6 1113.7 378.4 1120.5 384.2 1113.7 384.2 1106.9 384.2 1100.1 390 1127.3 395.8 1127.3 395.8 1120.5 401.6 1134.1 407.4 1134.1 413.3 1127.3 419.1 1134.1 424.9 1134.1 430.7 1134.1 436.5 1134.1 442.3 1134.1 448.2 1134.1 454 1134.1" class="m4"/>
<path d="M192.3 1127.3 198.1 1120.5 209.7 1113.7 215.5 1127.3 238.8 1120.5 244.6 1106.9 250.4 1113.7 256.2 1120.5 256.2 1113.7 262 1106.9 267.9 1086.5 267.9 1079.7 273.7 1113.7 279.5 1113.7 285.3 1086.5 285.3 1079.7 291.1 1106.9 296.9 1106.9 302.8 1100.1 308.6 1086.5 308.6 1079.7 314.4 1093.3 314.4 1086.5 314.4 1079.7 320.2 1100.1 320.2 1093.3 320.2 1086.5 326 1093.3 326 1086.5 326 1079.7 331.8 1079.7 331.8 1072.9 331.8 1066.1 337.7 1106.9 337.7 1100.1 337.7 1093.3 343.5 1120.5 349.3 1079.7 349.3 1072.9 349.3 1066.1 355.1 1100.1 355.1 1093.3 355.1 1086.5 360.9 1120.5 366.7 1106.9 366.7 1100.1 372.6 1106.9 372.6 1100.1 378.4 1113.7 378.4 1106.9 378.4 1100.1 384.2 1093.3 384.2 1086.5 384.2 1079.7 390 1120.5 390 1113.7 395.8 1113.7 395.8 1106.9 401.6 1127.3 413.3 1120.5 419.1 1127.3 424.9 1127.3 430.7 1127.3 436.5 1127.3 442.3 1127.3 448.2 1127.3 454 1127.3 465.6 1134.1" class="m5"/>
<path d="M145.7 1120.5 180.6 1120.5 203.9 1127.3 221.3 1127.3 227.2 1113.7 233 1120.5 238.8 1113.7 244.6 1100.1 256.2 1106.9 285.3 1072.9 285.3 1066.1 291.1 1100.1 296.9 1100.1 302.8 1093.3 308.6 1072.9 308.6 1066.1 314.4 1072.9 314.4 1066.1 314.4 1059.3 314.4 1052.5 320.2 1079.7 320.2 1072.9 320.2 1066.1 326 1072.9 326 1066.1 326 1059.3 326 1052.5 331.8 1059.3 331.8 1052.5 331.8 1045.7 337.7 1086.5 337.7 1079.7 337.7 1072.9 343.5 1113.7 343.5 1106.9 343.5 1100.1 349.3 1059.3 349.3 1052.5 349.3 1045.7 355.1 1079.7 355.1 1072.9 355.1 1066.1 355.1 1059.3 360.9 1113.7 360.9 1106.9 360.9 1100.1 366.7 1093.3 366.7 1086.5 366.7 1079.7 372.6 1093.3 372.6 1086.5 372.6 1079.7 378.4 1093.3 378.4 1086.5 378.4 1079.7 378.4 1072.9 384.2 1072.9 384.2 1066.1 384.2 1059.3 384.2 1052.5 390 1106.9 390 1100.1 395.8 1100.1 395.8 1093.3 395.8 1086.5 395.8 1079.7 401.6 1120.5 401.6 1113.7 401.6 1106.9 407.4 1127.3 407.4 1120.5 413.3 1113.7 413.3 1106.9 413.3 1100.1 419.1 1120.5 424.9 1120.5 424.9 1113.7 430.7 1120.5 430.7 1113.7 436.5 1120.5 442.3 1120.5 442.3 1113.7 448.2 1120.5 448.2 1113.7 454 1120.5 454 1113.7 459.8 1134.1 465.6 1127.3 471.4 1134.1 477.2 1134.1 483.1 1134.1 488.9 1134.1" class="m6"/>
<path d="M209.7 1106.9 238.8 1106.9 250.4 1106.9 256.2 1100.1 262 1100.1 267.9 1072.9 273.7 1106.9 279.5 1106.9 285.3 1059.3 285.3 1052.5 291.1 1093.3 296.9 1093.3 302.8 1086.5 308.6 1059.3 314.4 1045.7 314.4 1038.9 320.2 1059.3 320.2 1052.5 320.2 1045.7 326 1045.7 326 1038.9 326 1032.1 331.8 1038.9 331.8 1032.1 331.8 1025.4 337.7 1066.1 337.7 1059.3 337.7 1052.5 343.5 1093.3 343.5 1086.5 343.5 1079.7 349.3 1038.9 349.3 1032.1 349.3 1025.4 355.1 1052.5 355.1 1045.7 355.1 1038.9 360.9 1093.3 360.9 1086.5 366.7 1072.9 366.7 1066.1 366.7 1059.3 372.6 1072.9 372.6 1066.1 372.6 1059.3 378.4 1066.1 378.4 1059.3 378.4 1052.5 378.4 1045.7 384.2 1045.7 384.2 1038.9 384.2 1032.1 384.2 1025.4 390 1093.3 390 1086.5 390 1079.7 390 1072.9 395.8 1072.9 395.8 1066.1 395.8 1059.3 395.8 1052.5 395.8 1045.7 401.6 1100.1 401.6 1093.3 401.6 1086.5 407.4 1113.7 407.4 1106.9 413.3 1093.3 413.3 1086.5 413.3 1079.7 419.1 1113.7 419.1 1106.9 424.9 1106.9 424.9 1100.1 430.7 1106.9 430.7 1100.1 430.7 1093.3 430.7 1086.5 436.5 1113.7 436.5 1106.9 436.5 1100.1 442.3 1106.9 442.3 1100.1 442.3 1093.3 442.3 1086.5 448.2 1106.9 448.2 1100.1 448.2 1093.3 454 1106.9 454 1100.1 459.8 1127.3 465.6 1120.5 471.4 1127.3 477.2 1127.3 483.1 1127.3 494.7 1134.1 500.5 1134.1" class="m7"/>
<path d="M244.6 1093.3 256.2 1093.3 285.3 1045.7 285.3 1038.9 291.1 1086.5 302.8 1079.7 308.6 1052.5 314.4 1032.1 314.4 1025.4 320.2 1038.9 320.2 1032.1 326 1025.4 326 1018.6 331.8 1018.6 331.8 1011.8 337.7 1045.7 337.7 1038.9 337.7 1032.1 343.5 1072.9 343.5 1066.1 343.5 1059.3 343.5 1052.5 349.3 1018.6 355.1 1032.1 355.1 1025.4 355.1 1018.6 360.9 1079.7 360.9 1072.9 360.9 1066.1 366.7 1052.5 366.7 1045.7 366.7 1038.9 372.6 1052.5 372.6 1045.7 378.4 1038.9 378.4 1032.1 378.4 1025.4 384.2 1018.6 384.2 1011.8 384.2 1005 390 1066.1 390 1059.3 390 1052.5 390 1045.7 395.8 1038.9 395.8 1032.1 395.8 1025.4 395.8 1018.6 395.8 1011.8 395.8 1005 401.6 1079.7 401.6 1072.9 401.6 1066.1 401.6 1059.3 407.4 1100.1 407.4 1093.3 407.4 1086.5 407.4 1079.7 413.3 1072.9 413.3 1066.1 413.3 1059.3 413.3 1052.5 419.1 1100.1 419.1 1093.3 419.1 1086.5 424.9 1093.3 424.9 1086.5 424.9 1079.7 430.7 1079.7 430.7 1072.9 430.7 1066.1 430.7 1059.3 436.5 1093.3 436.5 1086.5 436.5 1079.7 436.5 1072.9 442.3 1079.7 442.3 1072.9 442.3 1066.1 442.3 1059.3 448.2 1086.5 448.2 1079.7 448.2 1072.9 448.2 1066.1 454 1093.3 454 1086.5 454 1079.7 454 1072.9 459.8 1120.5 459.8 1113.7 465.6 1113.7 465.6 1106.9 465.6 1100.1 471.4 1120.5 477.2 1120.5 483.1 1120.5 483.1 1113.7 488.9 1127.3 488.9 1120.5 500.5 1127.3" class="m8"/>
<path d="M238.8 1100.1 291.1 1079.7 296.9 1086.5 308.6 1045.7 314.4 1018.6 314.4 1011.8 320.2 1025.4 320.2 1018.6 326 1011.8 331.8 1005 337.7 1025.4 337.7 1018.6 343.5 1045.7 343.5 1038.9 343.5 1032.1 349.3 1011.8 355.1 1011.8 355.1 1005 360.9 1059.3 360.9 1052.5 360.9 1045.7 366.7 1032.1 366.7 1025.4 372.6 1038.9 372.6 1032.1 378.4 1018.6 378.4 1011.8 378.4 1005 384.2 998.2 384.2 991.4 390 1038.9 390 1032.1 390 1025.4 390 1018.6 395.8 998.2 395.8 991.4 395.8 984.6 395.8 977.8 395.8 971 401.6 1052.5 401.6 1045.7 401.6 1038.9 401.6 1032.1 407.4 1072.9 407.4 1066.1 407.4 1059.3 407.4 1052.5 413.3 1045.7 413.3 1038.9 413.3 1032.1 419.1 1079.7 419.1 1072.9 419.1 1066.1 419.1 1059.3 424.9 1072.9 424.9 1066.1 424.9 1059.3 424.9 1052.5 430.7 1052.5 430.7 1045.7 430.7 1038.9 430.7 1032.1 430.7 1025.4 436.5 1066.1 436.5 1059.3 436.5 1052.5 436.5 1045.7 442.3 1052.5 442.3 1045.7 442.3 1038.9 442.3 1032.1 442.3 1025.4 442.3 1018.6 448.2 1059.3 448.2 1052.5 448.2 1045.7 448.2 1038.9 454 1066.1 454 1059.3 454 1052.5 454 1045.7 454 1038.9 459.8 1106.9 459.8 1100.1 459.8 1093.3 465.6 1093.3 465.6 1086.5 465.6 1079.7 465.6 1072.9 471.4 1113.7 471.4 1106.9 477.2 1113.7 477.2 1106.9 483.1 1106.9 483.1 1100.1 488.9 1113.7 488.9 1106.9 494.7 1127.3 494.7 1120.5 500.5 1120.5 500.5 1113.7 506.3 1134.1 512.1 1134.1" class="m9"/>
<path d="M256.2 1086.5 285.3 1032.1 320.2 1011.8 326 1005 331.8 998.2 337.7 1011.8 337.7 1005 343.5 1025.4 343.5 1018.6 349.3 1005 355.1 998.2 360.9 1038.9 360.9 1032.1 366.7 1018.6 372.6 1025.4 372.6 1018.6 378.4 998.2 378.4 991.4 378.4 984.6 384.2 984.6 384.2 977.8 390 1011.8 390 1005 390 998.2 395.8 964.2 395.8 957.4 395.8 950.6 395.8 943.8 401.6 1025.4 401.6 1018.6 401.6 1011.8 407.4 1045.7 407.4 1038.9 407.4 1032.1 407.4 1025.4 407.4 1018.6 413.3 1025.4 413.3 1018.6 413.3 1011.8 419.1 1052.5 419.1 1045.7 419.1 1038.9 424.9 1045.7 424.9 1038.9 424.9 1032.1 430.7 1018.6 430.7 1011.8 430.7 1005 430.7 998.2 436.5 1038.9 436.5 1032.1 436.5 1025.4 436.5 1018.6 436.5 1011.8 442.3 1011.8 442.3 1005 442.3 998.2 442.3 991.4 442.3 984.6 448.2 1032.1 448.2 1025.4 448.2 1018.6 448.2 1011.8 454 1032.1 454 1025.4 454 1018.6 454 1011.8 459.8 1086.5 459.8 1079.7 459.8 1072.9 459.8 1066.1 465.6 1066.1 465.6 1059.3 465.6 1052.5 465.6 1045.7 471.4 1100.1 471.4 1093.3 477.2 1100.1 477.2 1093.3 477.2 1086.5 483.1 1093.3 483.1 1086.5 483.1 1079.7 483.1 1072.9 488.9 1100.1 488.9 1093.3 488.9 1086.5 494.7 1113.7 494.7 1106.9 500.5 1106.9 500.5 1100.1 500.5 1093.3 506.3 1127.3 523.8 1134.1" class="m10"/>
<path d="M314.4 1005 320.2 1005 326 998.2 343.5 1011.8 343.5 1005 355.1 991.4 360.9 1025.4 360.9 1018.6 378.4 977.8 384.2 971 390 991.4 390 984.6 395.8 937 395.8 930.2 395.8 923.4 401.6 1005 401.6 998.2 401.6 991.4 407.4 1011.8 407.4 1005 407.4 998.2 407.4 991.4 413.3 1005 413.3 998.2 419.1 1032.1 419.1 1025.4 424.9 1025.4 424.9 1018.6 430.7 991.4 430.7 984.6 430.7 977.8 430.7 971 436.5 1005 436.5 998.2 436.5 991.4 436.5 984.6 442.3 977.8 442.3 971 442.3 964.2 442.3 957.4 442.3 950.6 448.2 1005 448.2 998.2 448.2 991.4 454 1005 454 998.2 454 991.4 459.8 1059.3 459.8 1052.5 459.8 1045.7 459.8 1038.9 465.6 1038.9 465.6 1032.1 465.6 1025.4 465.6 1018.6 471.4 1086.5 471.4 1079.7 471.4 1072.9 477.2 1079.7 477.2 1072.9 483.1 1066.1 483.1 1059.3 483.1 1052.5 483.1 1045.7 488.9 1079.7 488.9 1072.9 488.9 1066.1 494.7 1100.1 494.7 1093.3 494.7 1086.5 500.5 1086.5 500.5 1079.7 500.5 1072.9 506.3 1120.5 512.1 1127.3 512.1 1120.5 518 1134.1 523.8 1127.3" class="m11"/>
<path d="M337.7 998.2 343.5 998.2 366.7 1011.8 372.6 1011.8 378.4 971 390 977.8 395.8 916.6 395.8 909.8 401.6 984.6 401.6 977.8 407.4 984.6 407.4 977.8 407.4 971 413.3 991.4 419.1 1018.6 419.1 1011.8 424.9 1011.8 430.7 964.2 430.7 957.4 436.5 977.8 436.5 971 442.3 943.8 442.3 937 442.3 930.2 448.2 984.6 448.2 977.8 448.2 971 454 984.6 454 977.8 454 971 459.8 1032.1 459.8 1025.4 459.8 1018.6 459.8 1011.8 465.6 1011.8 465.6 1005 465.6 998.2 465.6 991.4 471.4 1066.1 471.4 1059.3 471.4 1052.5 477.2 1066.1 477.2 1059.3 477.2 1052.5 483.1 1038.9 483.1 1032.1 483.1 1025.4 488.9 1059.3 488.9 1052.5 488.9 1045.7 488.9 1038.9 494.7 1079.7 494.7 1072.9 494.7 1066.1 494.7 1059.3 494.7 1052.5 500.5 1066.1 500.5 1059.3 500.5 1052.5 506.3 1113.7 506.3 1106.9 506.3 1100.1 512.1 1113.7 512.1 1106.9 518 1127.3 523.8 1120.5 523.8 1113.7 535.4 1134.1" class="m12"/>
<path d="M343.5 991.4 360.9 1011.8 390 971 401.6 971 407.4 964.2 407.4 957.4 413.3 984.6 419.1 1005 424.9 1005 430.7 950.6 430.7 943.8 436.5 964.2 436.5 957.4 442.3 923.4 442.3 916.6 448.2 964.2 454 964.2 454 957.4 459.8 1005 459.8 998.2 459.8 991.4 465.6 984.6 465.6 977.8 465.6 971 471.4 1045.7 477.2 1045.7 477.2 1038.9 483.1 1018.6 483.1 1011.8 483.1 1005 488.9 1032.1 488.9 1025.4 488.9 1018.6 494.7 1045.7 494.7 1038.9 494.7 1032.1 494.7 1025.4 500.5 1045.7 500.5 1038.9 500.5 1032.1 506.3 1093.3 506.3 1086.5 506.3 1079.7 512.1 1100.1 512.1 1093.3 512.1 1086.5 512.1 1079.7 518 1120.5 523.8 1106.9 523.8 1100.1 529.6 1134.1 535.4 1127.3 541.2 1134.1" class="m13"/>
<path d="M395.8 903 401.6 964.2 407.4 950.6 419.1 998.2 424.9 998.2 436.5 950.6 442.3 909.8 448.2 957.4 459.8 984.6 459.8 977.8 465.6 964.2 471.4 1038.9 471.4 1032.1 477.2 1032.1 483.1 998.2 483.1 991.4 488.9 1011.8 488.9 1005 494.7 1018.6 494.7 1011.8 494.7 1005 494.7 998.2 500.5 1025.4 500.5 1018.6 506.3 1072.9 506.3 1066.1 506.3 1059.3 512.1 1072.9 512.1 1066.1 512.1 1059.3 512.1 1052.5 518 1113.7 518 1106.9 523.8 1093.3 523.8 1086.5 529.6 1127.3 535.4 1120.5" class="m14"/>
<path d="M407.4 943.8 430.7 937 436.5 943.8 442.3 903 454 950.6 459.8 971 465.6 957.4 483.1 984.6 488.9 998.2 494.7 991.4 494.7 984.6 500.5 1011.8 500.5 1005 506.3 1052.5 506.3 1045.7 506.3 1038.9 512.1 1045.7 512.1 1038.9 512.1 1032.1 512.1 1025.4 518 1100.1 518 1093.3 518 1086.5 523.8 1079.7 523.8 1072.9 523.8 1066.1 529.6 1120.5 535.4 1113.7 535.4 1106.9 541.2 1127.3 547 1134.1" class="m15"/>
<path d="M459.8 964.2 465.6 950.6 471.4 1025.4 477.2 1025.4 483.1 977.8 488.9 991.4 494.7 977.8 494.7 971 506.3 1032.1 506.3 1025.4 512.1 1018.6 512.1 1011.8 512.1 1005 518 1079.7 518 1072.9 518 1066.1 523.8 1059.3 523.8 1052.5 529.6 1113.7 529.6 1106.9 535.4 1100.1 535.4 1093.3 541.2 1120.5 541.2 1113.7 547 1127.3" class="m16"/>
<path d="M494.7 964.2 500.5 998.2 506.3 1018.6 512.1 998.2 512.1 991.4 512.1 984.6 518 1059.3 518 1052.5 523.8 1045.7 529.6 1100.1 535.4 1086.5 541.2 1106.9 541.2 1100.1" class="m17"/>
<path d="M494.7 957.4 506.3 1011.8 512.1 977.8 518 1045.7 518 1038.9 523.8 1038.9 529.6 1093.3 529.6 1086.5 535.4 1079.7 535.4 1072.9 541.2 1093.3 541.2 1086.5 547 1120.5 552.8 1134.1" class="m18"/>
<path d="M506.3 1005 512.1 971 518 1032.1 518 1025.4 523.8 1032.1 529.6 1079.7 529.6 1072.9 535.4 1066.1 541.2 1079.7 541.2 1072.9 547 1113.7" class="m19"/>
<path d="M512.1 964.2 529.6 1066.1 541.2 1066.1 547 1106.9" class="m20"/>
<path d="M518 1018.6 535.4 1059.3 541.2 1059.3 558.7 1134.1" class="m21"/>
<path d="M529.6 1059.3 541.2 1052.5 547 1100.1 552.8 1127.3" class="m22"/>
<polyline points="99.2,1140.8 102.2,1140.6 105.2,1140.3 108.2,1140 111.2,1139.7 114.2,1139.4 117.2,1139 120.2,1138.7 123.2,1138.3 126.2,1137.9 129.2,1137.6 132.2,1137.2 135.2,1136.8 138.2,1136.4 141.2,1136 144.2,1135.5 147.2,1135.1 150.2,1134.7 153.2,1134.2 156.2,1133.8 159.2,1133.3 162.2,1132.8 165.2,1132.2 168.2,1131.7 171.2,1131 174.1,1130.4 177.1,1129.7 180.1,1128.9 183.1,1128.1 186.1,1127.2 189.1,1126.3 192.1,1125.3 195.1,1124.3 198.1,1123.2 201.1,1122.1 204.1,1120.9 207.1,1119.7 210.1,1118.3 213.1,1116.9 216.1,1115.4 219.1,1113.9 222.1,1112.3 225.1,1110.7 228.1,1109.1 231.1,1107.5 234.1,1105.8 237.1,1104.2 240.1,1102.6 243.1,1100.9 246.1,1099.4 249.1,1097.8 252.1,1096.4 255.1,1095 258.1,1093.6 261.1,1092.3 264.1,1090.9 267.1,1089.5 270.1,1088.1 273.1,1086.5 276.1,1084.9 279.1,1083.2 282.1,1081.4 285.1,1079.4 288.1,1077 291.1,1074.2 294.1,1070.9 297.1,1067 300.1,1062.6 303.1,1057.8 306.1,1052.7 309.1,1047.5 312.1,1042.3 315.1,1037.2 318,1032.4 321,1027.8 324,1023.5 327,1019.6 330,1016.2 333,1013.2 336,1010.8 339,1008.9 342,1007.4 345,1006.2 348,1005.2 351,1004.3 354,1003.6 357,1002.8 360,1001.9 363,1000.7 366,999.2 369,997.4 372,995.3 375,993 378,990.6 381,988.2 384,985.7 387,983.2 390,980.9 393,978.6 396,976.6 399,974.7 402,973.2 405,972 408,971 411,970.2 414,969.5 417,968.7 420,967.8 423,966.8 426,965.7 429,964.5 432,963.5 435,962.7 438,962.4 441,962.5 444,963 447,963.9 450,965.1 453,966.8 456,968.7 459,971.1 462,973.6 464.9,976.3 467.9,978.9 470.9,981.5 473.9,984 476.9,986.2 479.9,988.2 482.9,990 485.9,991.6 488.9,993.1 491.9,994.6 494.9,996.2 497.9,998.1 500.9,1000.2 503.9,1002.6 506.9,1005.3 509.9,1008.5 512.9,1012.3 515.9,1016.6 518.9,1021.5 521.9,1026.9 524.9,1032.8 527.9,1039.2 530.9,1046.1 533.9,1053.5 536.9,1061.5 539.9,1069.8 542.9,1078.4 545.9,1086.9 548.9,1095 551.9,1102.6 554.9,1109.5 557.9,1115.6 560.9,1121 563.9,1125.4 566.9,1129.1 569.9,1131.9 572.9,1134.2 575.9,1135.9 578.9,1137.2 581.9,1138.1 584.9,1138.7 587.9,1139.2 590.9,1139.6 593.9,1139.9 596.9,1140 599.9,1140.1 602.9,1140.2 605.9,1140.3 608.8,1140.4 611.8,1140.4 614.8,1140.5 617.8,1140.5 620.8,1140.6 623.8,1140.6 626.8,1140.6 629.8,1140.7 632.8,1140.7 635.8,1140.8 638.8,1140.8 641.8,1140.8 644.8,1140.8 647.8,1140.9 650.8,1140.9 653.8,1140.9 656.8,1140.9 659.8,1140.9 662.8,1140.9 665.8,1140.9 668.8,1141 671.8,1141 674.8,1141 677.8,1141 680.8,1141" fill="none" stroke="#000" stroke-width="2.9" stroke-linejoin="round" stroke-linecap="round"/>
<line x1="390" y1="1152.6" x2="390" y2="891.8000000000001" stroke="#000" stroke-width="3.3" stroke-dasharray="2.9 9.35"/>
</g>
<rect x="70.5" y="891.8000000000001" width="639.8" height="260.5" fill="none" stroke="#333" stroke-width="2"/>
<rect x="710.3" y="891.8000000000001" width="40.4" height="260.5" fill="#d9d9d9" stroke="#333" stroke-width="2"/>
<text x="0" y="0" transform="translate(730.5 1022.1) rotate(90)" class="st">excited</text>
<line x1="62.2" y1="1140.9" x2="70.5" y2="1140.9" stroke="#333" stroke-width="2.2"/>
<text x="55.5" y="1141.7" class="yl">0</text>
<line x1="62.2" y1="1072.9" x2="70.5" y2="1072.9" stroke="#333" stroke-width="2.2"/>
<text x="55.5" y="1073.7" class="yl">10</text>
<line x1="62.2" y1="1005.0" x2="70.5" y2="1005.0" stroke="#333" stroke-width="2.2"/>
<text x="55.5" y="1005.8" class="yl">20</text>
<line x1="62.2" y1="937.0" x2="70.5" y2="937.0" stroke="#333" stroke-width="2.2"/>
<text x="55.5" y="937.8" class="yl">30</text>
<clipPath id="cL5"><rect x="70.5" y="1169.4" width="639.8" height="260.5"/></clipPath>
<g clip-path="url(#cL5)">
<path d="M238.8 1411.7 267.9 1411.7 273.7 1411.7" class="m2"/>
<path d="M244.6 1411.7 256.2 1411.7 262 1411.7 279.5 1411.7 291.1 1411.7 302.8 1411.7 331.8 1411.7" class="m3"/>
<path d="M110.8 1411.7 227.2 1411.7 233 1411.7 238.8 1404.9 250.4 1411.7 267.9 1404.9 273.7 1404.9 285.3 1411.7 291.1 1404.9 296.9 1411.7 308.6 1411.7 314.4 1411.7 320.2 1411.7 326 1411.7 349.3 1411.7 378.4 1411.7" class="m4"/>
<path d="M198.1 1411.7 238.8 1398.1 244.6 1404.9 256.2 1404.9 262 1404.9 267.9 1398.1 273.7 1398.1 279.5 1404.9 291.1 1398.1 296.9 1404.9 302.8 1404.9 308.6 1404.9 320.2 1404.9 326 1404.9 331.8 1404.9 331.8 1398.1 337.7 1411.7 343.5 1411.7 360.9 1411.7 366.7 1411.7 372.6 1411.7 384.2 1411.7 395.8 1411.7" class="m5"/>
<path d="M163.2 1411.7 180.6 1411.7 209.7 1411.7 215.5 1411.7 221.3 1411.7 227.2 1404.9 233 1404.9 238.8 1391.3 244.6 1398.1 250.4 1404.9 256.2 1398.1 262 1398.1 267.9 1391.3 267.9 1384.5 273.7 1391.3 279.5 1398.1 285.3 1404.9 291.1 1391.3 291.1 1384.5 296.9 1398.1 302.8 1398.1 308.6 1398.1 314.4 1404.9 320.2 1398.1 326 1398.1 331.8 1391.3 343.5 1404.9 349.3 1404.9 355.1 1411.7 360.9 1404.9 366.7 1404.9 372.6 1404.9 378.4 1404.9 378.4 1398.1 384.2 1404.9 390 1411.7 401.6 1411.7 424.9 1411.7" class="m6"/>
<path d="M151.5 1411.7 192.3 1411.7 203.9 1411.7 238.8 1384.5 256.2 1391.3 262 1391.3 267.9 1377.7 273.7 1384.5 273.7 1377.7 279.5 1391.3 285.3 1398.1 291.1 1377.7 296.9 1391.3 302.8 1391.3 308.6 1391.3 308.6 1384.5 314.4 1398.1 320.2 1391.3 326 1391.3 326 1384.5 331.8 1384.5 331.8 1377.7 337.7 1404.9 337.7 1398.1 343.5 1398.1 349.3 1398.1 349.3 1391.3 355.1 1404.9 360.9 1398.1 366.7 1398.1 372.6 1398.1 372.6 1391.3 378.4 1391.3 378.4 1384.5 384.2 1398.1 390 1404.9 395.8 1404.9 407.4 1411.7 413.3 1411.7 419.1 1411.7 430.7 1411.7" class="m7"/>
<path d="M233 1398.1 238.8 1377.7 244.6 1391.3 250.4 1398.1 256.2 1384.5 262 1384.5 267.9 1370.9 267.9 1364.1 273.7 1370.9 279.5 1384.5 285.3 1391.3 291.1 1370.9 291.1 1364.1 296.9 1384.5 302.8 1384.5 302.8 1377.7 308.6 1377.7 308.6 1370.9 308.6 1364.1 314.4 1391.3 314.4 1384.5 320.2 1384.5 320.2 1377.7 326 1377.7 326 1370.9 326 1364.1 331.8 1370.9 331.8 1364.1 337.7 1391.3 343.5 1391.3 343.5 1384.5 349.3 1384.5 349.3 1377.7 355.1 1398.1 360.9 1391.3 360.9 1384.5 366.7 1391.3 366.7 1384.5 372.6 1384.5 372.6 1377.7 378.4 1377.7 378.4 1370.9 378.4 1364.1 384.2 1391.3 384.2 1384.5 390 1398.1 395.8 1398.1 395.8 1391.3 401.6 1404.9 401.6 1398.1 407.4 1404.9 424.9 1404.9 430.7 1404.9 436.5 1411.7 442.3 1411.7 448.2 1411.7 454 1411.7 459.8 1411.7 471.4 1411.7" class="m8"/>
<path d="M198.1 1404.9 227.2 1398.1 244.6 1384.5 250.4 1391.3 256.2 1377.7 262 1377.7 267.9 1357.3 273.7 1364.1 279.5 1377.7 285.3 1384.5 291.1 1357.3 291.1 1350.5 296.9 1377.7 302.8 1370.9 308.6 1357.3 308.6 1350.5 314.4 1377.7 314.4 1370.9 320.2 1370.9 320.2 1364.1 326 1357.3 326 1350.5 326 1343.7 326 1336.9 331.8 1357.3 331.8 1350.5 331.8 1343.7 337.7 1384.5 337.7 1377.7 343.5 1377.7 343.5 1370.9 349.3 1370.9 349.3 1364.1 355.1 1391.3 355.1 1384.5 360.9 1377.7 360.9 1370.9 366.7 1377.7 366.7 1370.9 372.6 1370.9 372.6 1364.1 372.6 1357.3 378.4 1357.3 378.4 1350.5 378.4 1343.7 378.4 1336.9 384.2 1377.7 384.2 1370.9 384.2 1364.1 390 1391.3 390 1384.5 390 1377.7 395.8 1384.5 395.8 1377.7 395.8 1370.9 401.6 1391.3 401.6 1384.5 407.4 1398.1 413.3 1404.9 419.1 1404.9 419.1 1398.1 424.9 1398.1 424.9 1391.3 430.7 1398.1 436.5 1404.9 442.3 1404.9 448.2 1404.9 477.2 1411.7 483.1 1411.7" class="m9"/>
<path d="M233 1391.3 238.8 1370.9 256.2 1370.9 262 1370.9 267.9 1350.5 273.7 1357.3 279.5 1370.9 285.3 1377.7 291.1 1343.7 296.9 1370.9 302.8 1364.1 308.6 1343.7 308.6 1336.9 308.6 1330.1 314.4 1364.1 320.2 1357.3 326 1330.1 326 1323.3 326 1316.5 326 1309.7 331.8 1336.9 337.7 1370.9 337.7 1364.1 337.7 1357.3 343.5 1364.1 343.5 1357.3 349.3 1357.3 349.3 1350.5 355.1 1377.7 355.1 1370.9 360.9 1364.1 360.9 1357.3 360.9 1350.5 366.7 1364.1 366.7 1357.3 366.7 1350.5 372.6 1350.5 372.6 1343.7 372.6 1336.9 378.4 1330.1 378.4 1323.3 378.4 1316.5 378.4 1309.7 384.2 1357.3 384.2 1350.5 384.2 1343.7 384.2 1336.9 390 1370.9 390 1364.1 390 1357.3 395.8 1364.1 395.8 1357.3 395.8 1350.5 401.6 1377.7 401.6 1370.9 407.4 1391.3 407.4 1384.5 407.4 1377.7 413.3 1398.1 413.3 1391.3 419.1 1391.3 419.1 1384.5 424.9 1384.5 424.9 1377.7 430.7 1391.3 430.7 1384.5 430.7 1377.7 436.5 1398.1 442.3 1398.1 442.3 1391.3 448.2 1398.1 454 1404.9 459.8 1404.9 459.8 1398.1 465.6 1411.7 471.4 1404.9 477.2 1404.9 488.9 1411.7" class="m10"/>
<path d="M244.6 1377.7 250.4 1384.5 256.2 1364.1 285.3 1370.9 291.1 1336.9 296.9 1364.1 308.6 1323.3 308.6 1316.5 314.4 1357.3 314.4 1350.5 320.2 1350.5 326 1303 326 1296.2 326 1289.4 331.8 1330.1 331.8 1323.3 337.7 1350.5 337.7 1343.7 343.5 1350.5 343.5 1343.7 349.3 1343.7 349.3 1336.9 355.1 1364.1 355.1 1357.3 355.1 1350.5 360.9 1343.7 360.9 1336.9 360.9 1330.1 366.7 1343.7 366.7 1336.9 366.7 1330.1 372.6 1330.1 372.6 1323.3 372.6 1316.5 372.6 1309.7 378.4 1303 378.4 1296.2 378.4 1289.4 384.2 1330.1 384.2 1323.3 384.2 1316.5 384.2 1309.7 390 1350.5 390 1343.7 390 1336.9 390 1330.1 395.8 1343.7 395.8 1336.9 395.8 1330.1 401.6 1364.1 401.6 1357.3 401.6 1350.5 401.6 1343.7 407.4 1370.9 407.4 1364.1 413.3 1384.5 413.3 1377.7 419.1 1377.7 419.1 1370.9 419.1 1364.1 424.9 1370.9 424.9 1364.1 424.9 1357.3 430.7 1370.9 430.7 1364.1 430.7 1357.3 436.5 1391.3 436.5 1384.5 442.3 1384.5 442.3 1377.7 448.2 1391.3 448.2 1384.5 454 1398.1 454 1391.3 459.8 1391.3 459.8 1384.5 465.6 1404.9 471.4 1398.1 471.4 1391.3 477.2 1398.1 477.2 1391.3 483.1 1404.9 500.5 1411.7 506.3 1411.7 512.1 1411.7" class="m11"/>
<path d="M256.2 1357.3 262 1364.1 267.9 1343.7 273.7 1350.5 279.5 1364.1 302.8 1357.3 308.6 1309.7 308.6 1303 314.4 1343.7 320.2 1343.7 326 1282.6 326 1275.8 326 1269 331.8 1316.5 337.7 1336.9 337.7 1330.1 343.5 1336.9 343.5 1330.1 349.3 1330.1 349.3 1323.3 355.1 1343.7 355.1 1336.9 355.1 1330.1 360.9 1323.3 360.9 1316.5 366.7 1323.3 366.7 1316.5 366.7 1309.7 372.6 1303 372.6 1296.2 372.6 1289.4 378.4 1282.6 378.4 1275.8 378.4 1269 384.2 1303 384.2 1296.2 384.2 1289.4 390 1323.3 390 1316.5 390 1309.7 390 1303 395.8 1323.3 395.8 1316.5 395.8 1309.7 401.6 1336.9 401.6 1330.1 401.6 1323.3 407.4 1357.3 407.4 1350.5 407.4 1343.7 413.3 1370.9 413.3 1364.1 419.1 1357.3 419.1 1350.5 419.1 1343.7 424.9 1350.5 424.9 1343.7 424.9 1336.9 424.9 1330.1 430.7 1350.5 430.7 1343.7 430.7 1336.9 430.7 1330.1 436.5 1377.7 436.5 1370.9 436.5 1364.1 442.3 1370.9 442.3 1364.1 442.3 1357.3 442.3 1350.5 448.2 1377.7 448.2 1370.9 448.2 1364.1 448.2 1357.3 454 1384.5 454 1377.7 454 1370.9 459.8 1377.7 459.8 1370.9 465.6 1398.1 471.4 1384.5 471.4 1377.7 477.2 1384.5 477.2 1377.7 477.2 1370.9 483.1 1398.1 483.1 1391.3 488.9 1404.9 500.5 1404.9 506.3 1404.9" class="m12"/>
<path d="M285.3 1364.1 291.1 1330.1 296.9 1357.3 308.6 1296.2 308.6 1289.4 314.4 1336.9 320.2 1336.9 326 1262.2 326 1255.4 337.7 1323.3 337.7 1316.5 343.5 1323.3 349.3 1316.5 355.1 1323.3 355.1 1316.5 360.9 1309.7 360.9 1303 366.7 1303 366.7 1296.2 372.6 1282.6 372.6 1275.8 378.4 1262.2 378.4 1255.4 378.4 1248.6 384.2 1282.6 384.2 1275.8 384.2 1269 390 1296.2 390 1289.4 390 1282.6 390 1275.8 395.8 1303 395.8 1296.2 395.8 1289.4 401.6 1316.5 401.6 1309.7 401.6 1303 407.4 1336.9 407.4 1330.1 413.3 1357.3 413.3 1350.5 413.3 1343.7 419.1 1336.9 419.1 1330.1 419.1 1323.3 419.1 1316.5 424.9 1323.3 424.9 1316.5 424.9 1309.7 430.7 1323.3 430.7 1316.5 430.7 1309.7 430.7 1303 430.7 1296.2 436.5 1357.3 436.5 1350.5 436.5 1343.7 436.5 1336.9 442.3 1343.7 442.3 1336.9 442.3 1330.1 442.3 1323.3 448.2 1350.5 448.2 1343.7 448.2 1336.9 454 1364.1 454 1357.3 454 1350.5 459.8 1364.1 459.8 1357.3 459.8 1350.5 459.8 1343.7 465.6 1391.3 465.6 1384.5 471.4 1370.9 471.4 1364.1 471.4 1357.3 477.2 1364.1 477.2 1357.3 477.2 1350.5 477.2 1343.7 483.1 1384.5 483.1 1377.7 483.1 1370.9 488.9 1398.1 488.9 1391.3 494.7 1411.7 500.5 1398.1 506.3 1398.1 512.1 1404.9" class="m13"/>
<path d="M314.4 1330.1 326 1248.6 331.8 1309.7 337.7 1309.7 343.5 1316.5 355.1 1309.7 355.1 1303 360.9 1296.2 366.7 1289.4 372.6 1269 372.6 1262.2 378.4 1241.8 384.2 1262.2 384.2 1255.4 390 1269 390 1262.2 390 1255.4 395.8 1282.6 401.6 1296.2 401.6 1289.4 407.4 1323.3 407.4 1316.5 413.3 1336.9 413.3 1330.1 419.1 1309.7 419.1 1303 419.1 1296.2 424.9 1303 424.9 1296.2 430.7 1289.4 430.7 1282.6 430.7 1275.8 430.7 1269 436.5 1330.1 436.5 1323.3 436.5 1316.5 436.5 1309.7 442.3 1316.5 442.3 1309.7 442.3 1303 442.3 1296.2 448.2 1330.1 448.2 1323.3 448.2 1316.5 448.2 1309.7 454 1343.7 454 1336.9 454 1330.1 454 1323.3 459.8 1336.9 459.8 1330.1 459.8 1323.3 465.6 1377.7 465.6 1370.9 465.6 1364.1 471.4 1350.5 471.4 1343.7 471.4 1336.9 477.2 1336.9 477.2 1330.1 477.2 1323.3 477.2 1316.5 483.1 1364.1 483.1 1357.3 483.1 1350.5 488.9 1384.5 488.9 1377.7 488.9 1370.9 494.7 1404.9 500.5 1391.3 500.5 1384.5 506.3 1391.3 506.3 1384.5 512.1 1398.1 512.1 1391.3 518 1411.7 529.6 1411.7 535.4 1411.7" class="m14"/>
<path d="M308.6 1282.6 343.5 1309.7 349.3 1309.7 355.1 1296.2 366.7 1282.6 372.6 1255.4 378.4 1235 384.2 1248.6 384.2 1241.8 390 1248.6 390 1241.8 395.8 1275.8 395.8 1269 401.6 1282.6 401.6 1275.8 407.4 1309.7 407.4 1303 413.3 1323.3 413.3 1316.5 419.1 1289.4 419.1 1282.6 419.1 1275.8 424.9 1289.4 424.9 1282.6 430.7 1262.2 430.7 1255.4 430.7 1248.6 436.5 1303 436.5 1296.2 436.5 1289.4 436.5 1282.6 442.3 1289.4 442.3 1282.6 442.3 1275.8 442.3 1269 442.3 1262.2 448.2 1303 448.2 1296.2 448.2 1289.4 448.2 1282.6 454 1316.5 454 1309.7 454 1303 454 1296.2 459.8 1316.5 459.8 1309.7 459.8 1303 465.6 1357.3 465.6 1350.5 471.4 1330.1 471.4 1323.3 477.2 1309.7 477.2 1303 477.2 1296.2 477.2 1289.4 483.1 1343.7 483.1 1336.9 483.1 1330.1 483.1 1323.3 488.9 1364.1 488.9 1357.3 488.9 1350.5 494.7 1398.1 500.5 1377.7 500.5 1370.9 500.5 1364.1 506.3 1377.7 506.3 1370.9 512.1 1384.5 512.1 1377.7 512.1 1370.9 518 1404.9 523.8 1411.7 535.4 1404.9 541.2 1411.7" class="m15"/>
<path d="M326 1241.8 337.7 1303 355.1 1289.4 360.9 1289.4 366.7 1275.8 372.6 1248.6 378.4 1228.2 390 1235 401.6 1269 407.4 1296.2 413.3 1309.7 419.1 1269 419.1 1262.2 424.9 1275.8 424.9 1269 430.7 1241.8 430.7 1235 430.7 1228.2 436.5 1275.8 436.5 1269 436.5 1262.2 436.5 1255.4 442.3 1255.4 442.3 1248.6 442.3 1241.8 448.2 1275.8 448.2 1269 448.2 1262.2 454 1289.4 454 1282.6 454 1275.8 459.8 1296.2 459.8 1289.4 459.8 1282.6 465.6 1343.7 465.6 1336.9 465.6 1330.1 471.4 1316.5 471.4 1309.7 471.4 1303 477.2 1282.6 477.2 1275.8 477.2 1269 477.2 1262.2 483.1 1316.5 483.1 1309.7 483.1 1303 488.9 1343.7 488.9 1336.9 488.9 1330.1 494.7 1391.3 494.7 1384.5 500.5 1357.3 500.5 1350.5 500.5 1343.7 506.3 1364.1 506.3 1357.3 506.3 1350.5 512.1 1364.1 512.1 1357.3 512.1 1350.5 518 1398.1 523.8 1404.9 529.6 1404.9 535.4 1398.1 541.2 1404.9 547 1411.7 552.8 1411.7" class="m16"/>
<path d="M355.1 1282.6 384.2 1235 390 1228.2 395.8 1262.2 413.3 1303 419.1 1255.4 430.7 1221.4 436.5 1248.6 436.5 1241.8 442.3 1235 442.3 1228.2 442.3 1221.4 448.2 1255.4 448.2 1248.6 448.2 1241.8 454 1269 454 1262.2 459.8 1275.8 459.8 1269 465.6 1323.3 465.6 1316.5 465.6 1309.7 471.4 1296.2 471.4 1289.4 477.2 1255.4 477.2 1248.6 477.2 1241.8 477.2 1235 483.1 1296.2 483.1 1289.4 483.1 1282.6 488.9 1323.3 488.9 1316.5 488.9 1309.7 494.7 1377.7 494.7 1370.9 494.7 1364.1 500.5 1336.9 500.5 1330.1 500.5 1323.3 506.3 1343.7 506.3 1336.9 506.3 1330.1 512.1 1343.7 512.1 1336.9 512.1 1330.1 518 1391.3 523.8 1398.1 529.6 1398.1 535.4 1391.3 535.4 1384.5 541.2 1398.1" class="m17"/>
<path d="M390 1221.4 401.6 1262.2 407.4 1289.4 413.3 1296.2 419.1 1248.6 424.9 1262.2 430.7 1214.6 436.5 1235 436.5 1228.2 442.3 1214.6 448.2 1235 454 1255.4 454 1248.6 459.8 1262.2 459.8 1255.4 465.6 1303 465.6 1296.2 471.4 1282.6 477.2 1228.2 477.2 1221.4 483.1 1275.8 483.1 1269 483.1 1262.2 488.9 1303 488.9 1296.2 494.7 1357.3 494.7 1350.5 494.7 1343.7 500.5 1316.5 500.5 1309.7 500.5 1303 506.3 1323.3 506.3 1316.5 506.3 1309.7 512.1 1323.3 512.1 1316.5 512.1 1309.7 518 1384.5 518 1377.7 523.8 1391.3 523.8 1384.5 529.6 1391.3 529.6 1384.5 535.4 1377.7 535.4 1370.9 535.4 1364.1 541.2 1391.3 541.2 1384.5 547 1404.9 552.8 1404.9 558.7 1411.7" class="m18"/>
<path d="M419.1 1241.8 430.7 1207.8 436.5 1221.4 442.3 1207.8 448.2 1228.2 454 1241.8 465.6 1289.4 477.2 1214.6 477.2 1207.8 483.1 1255.4 488.9 1289.4 488.9 1282.6 494.7 1336.9 494.7 1330.1 494.7 1323.3 500.5 1296.2 500.5 1289.4 506.3 1303 506.3 1296.2 512.1 1303 512.1 1296.2 512.1 1289.4 518 1370.9 518 1364.1 523.8 1377.7 523.8 1370.9 529.6 1377.7 529.6 1370.9 535.4 1357.3 535.4 1350.5 535.4 1343.7 541.2 1377.7 541.2 1370.9 547 1398.1 552.8 1398.1 564.5 1411.7" class="m19"/>
<path d="M436.5 1214.6 442.3 1201 448.2 1221.4 454 1235 459.8 1248.6 465.6 1282.6 471.4 1275.8 483.1 1248.6 488.9 1275.8 494.7 1316.5 494.7 1309.7 500.5 1282.6 500.5 1275.8 506.3 1289.4 506.3 1282.6 512.1 1282.6 512.1 1275.8 518 1357.3 518 1350.5 523.8 1364.1 529.6 1364.1 529.6 1357.3 535.4 1336.9 535.4 1330.1 541.2 1364.1 541.2 1357.3 547 1391.3 552.8 1391.3" class="m20"/>
<path d="M465.6 1275.8 477.2 1201 483.1 1241.8 494.7 1303 494.7 1296.2 500.5 1269 506.3 1275.8 512.1 1269 518 1343.7 523.8 1357.3 523.8 1350.5 529.6 1350.5 535.4 1323.3 535.4 1316.5 541.2 1350.5 541.2 1343.7 547 1384.5 547 1377.7 552.8 1384.5 552.8 1377.7 558.7 1404.9 570.3 1411.7" class="m21"/>
<path d="M488.9 1269 494.7 1289.4 500.5 1262.2 506.3 1269 512.1 1262.2 518 1336.9 523.8 1343.7 523.8 1336.9 529.6 1343.7 535.4 1309.7 535.4 1303 541.2 1336.9 547 1370.9" class="m22"/>
<path d="M494.7 1282.6 512.1 1255.4 523.8 1330.1 529.6 1336.9 535.4 1296.2 541.2 1330.1 547 1364.1 552.8 1370.9 564.5 1404.9" class="m23"/>
<path d="M494.7 1275.8 518 1330.1 529.6 1330.1 541.2 1323.3 552.8 1364.1 558.7 1398.1" class="m24"/>
<path d="M523.8 1323.3 535.4 1289.4 541.2 1316.5 547 1357.3" class="m25"/>
<polyline points="99.2,1418.1 102.2,1418.1 105.2,1418.1 108.2,1418 111.2,1418 114.2,1418 117.2,1417.9 120.2,1417.9 123.2,1417.8 126.2,1417.8 129.2,1417.7 132.2,1417.6 135.2,1417.6 138.2,1417.5 141.2,1417.4 144.2,1417.3 147.2,1417.2 150.2,1417.1 153.2,1417 156.2,1416.9 159.2,1416.7 162.2,1416.5 165.2,1416.3 168.2,1416 171.2,1415.7 174.1,1415.3 177.1,1414.8 180.1,1414.3 183.1,1413.8 186.1,1413.2 189.1,1412.5 192.1,1411.8 195.1,1410.9 198.1,1409.9 201.1,1408.8 204.1,1407.6 207.1,1406.3 210.1,1404.7 213.1,1402.9 216.1,1400.9 219.1,1398.6 222.1,1396.2 225.1,1393.8 228.1,1391.4 231.1,1389 234.1,1386.6 237.1,1384.1 240.1,1381.7 243.1,1379.3 246.1,1377 249.1,1374.7 252.1,1372.4 255.1,1370.2 258.1,1368.1 261.1,1366 264.1,1363.9 267.1,1361.9 270.1,1359.8 273.1,1357.8 276.1,1355.7 279.1,1353.7 282.1,1351.7 285.1,1349.6 288.1,1347.5 291.1,1345.2 294.1,1342.8 297.1,1340.2 300.1,1337.4 303.1,1334.4 306.1,1331.4 309.1,1328.4 312.1,1325.4 315.1,1322.6 318,1319.8 321,1317.1 324,1314.5 327,1312 330,1309.5 333,1307.1 336,1304.9 339,1302.6 342,1300.4 345,1298.1 348,1295.7 351,1293.3 354,1290.8 357,1288.2 360,1285.5 363,1282.8 366,1280.1 369,1277.2 372,1274.4 375,1271.6 378,1268.9 381,1266.7 384,1264.9 387,1263.6 390,1262.7 393,1262.2 396,1262.1 399,1262.2 402,1262.4 405,1262.4 408,1262.2 411,1261.5 414,1260.4 417,1259 420,1257.3 423,1255.5 426,1253.5 429,1251.6 432,1249.9 435,1248.5 438,1247.6 441,1247.2 444,1247 447,1247.1 450,1247.3 453,1247.7 456,1248.3 459,1249.1 462,1250 464.9,1251 467.9,1252 470.9,1252.9 473.9,1253.9 476.9,1254.9 479.9,1255.9 482.9,1257 485.9,1258.3 488.9,1259.6 491.9,1261.2 494.9,1263.1 497.9,1265.4 500.9,1268.2 503.9,1271.5 506.9,1275.1 509.9,1279 512.9,1283.2 515.9,1287.5 518.9,1292 521.9,1296.6 524.9,1301.3 527.9,1306.1 530.9,1311 533.9,1316.4 536.9,1322.3 539.9,1328.8 542.9,1335.8 545.9,1343.2 548.9,1350.8 551.9,1358.3 554.9,1365.9 557.9,1373.4 560.9,1380.7 563.9,1387.5 566.9,1393.6 569.9,1399 572.9,1403.3 575.9,1406.8 578.9,1409.5 581.9,1411.6 584.9,1413.2 587.9,1414.3 590.9,1415.2 593.9,1415.8 596.9,1416.4 599.9,1416.8 602.9,1417.1 605.9,1417.4 608.8,1417.5 611.8,1417.6 614.8,1417.7 617.8,1417.7 620.8,1417.8 623.8,1417.8 626.8,1417.8 629.8,1417.9 632.8,1417.9 635.8,1417.9 638.8,1417.9 641.8,1418 644.8,1418 647.8,1418 650.8,1418 653.8,1418 656.8,1418 659.8,1418 662.8,1418 665.8,1418.1 668.8,1418.1 671.8,1418.1 674.8,1418.1 677.8,1418.1 680.8,1418.1" fill="none" stroke="#000" stroke-width="2.9" stroke-linejoin="round" stroke-linecap="round"/>
<line x1="390" y1="1430.2" x2="390" y2="1169.4" stroke="#000" stroke-width="3.3" stroke-dasharray="2.9 9.35"/>
</g>
<rect x="70.5" y="1169.4" width="639.8" height="260.5" fill="none" stroke="#333" stroke-width="2"/>
<rect x="710.3" y="1169.4" width="40.4" height="260.5" fill="#d9d9d9" stroke="#333" stroke-width="2"/>
<text x="0" y="0" transform="translate(730.5 1299.7) rotate(90)" class="st">depressed</text>
<line x1="62.2" y1="1418.5" x2="70.5" y2="1418.5" stroke="#333" stroke-width="2.2"/>
<text x="55.5" y="1419.3" class="yl">0</text>
<line x1="62.2" y1="1350.5" x2="70.5" y2="1350.5" stroke="#333" stroke-width="2.2"/>
<text x="55.5" y="1351.3" class="yl">10</text>
<line x1="62.2" y1="1282.6" x2="70.5" y2="1282.6" stroke="#333" stroke-width="2.2"/>
<text x="55.5" y="1283.4" class="yl">20</text>
<line x1="62.2" y1="1214.6" x2="70.5" y2="1214.6" stroke="#333" stroke-width="2.2"/>
<text x="55.5" y="1215.4" class="yl">30</text>
<line x1="99.2" y1="1429.9" x2="99.2" y2="1438.1" stroke="#333" stroke-width="2"/>
<text x="99.2" y="1457.4" class="xl">−0.50</text>
<line x1="244.6" y1="1429.9" x2="244.6" y2="1438.1" stroke="#333" stroke-width="2"/>
<text x="244.6" y="1457.4" class="xl">−0.25</text>
<line x1="390.0" y1="1429.9" x2="390.0" y2="1438.1" stroke="#333" stroke-width="2"/>
<text x="390.0" y="1457.4" class="xl">0.00</text>
<line x1="535.4" y1="1429.9" x2="535.4" y2="1438.1" stroke="#333" stroke-width="2"/>
<text x="535.4" y="1457.4" class="xl">0.25</text>
<line x1="680.8" y1="1429.9" x2="680.8" y2="1438.1" stroke="#333" stroke-width="2"/>
<text x="680.8" y="1457.4" class="xl">0.50</text>
<clipPath id="cR1"><rect x="845.8" y="50.4" width="639.7" height="262.5"/></clipPath>
<g clip-path="url(#cR1)">
<path d="M1130.4 151.7" class="m26"/>
<path d="M1025.5 271.5 1060.5 266.5 1072.1 251.6 1077.9 251.6 1083.8 221.6 1089.6 226.6 1130.4 161.6 1130.4 156.6 1136.2 151.7 1153.7 131.7 1159.5 161.6 1176.9 151.7 1182.8 151.7" class="m27"/>
<path d="M1013.9 286.5 1025.5 276.5 1031.3 276.5 1043 276.5 1054.6 261.5 1066.3 236.6 1072.1 256.5 1083.8 231.6 1083.8 226.6 1089.6 231.6 1095.4 236.6 1101.2 176.6 1107.1 211.6 1112.9 216.6 1130.4 176.6 1130.4 171.6 1130.4 166.6 1136.2 161.6 1136.2 156.6 1142 166.6 1147.8 101.7 1153.7 141.7 1153.7 136.7 1159.5 166.6 1165.3 161.6 1171.1 156.6 1176.9 161.6 1176.9 156.6 1182.8 161.6 1182.8 156.6 1200.2 126.7 1206.1 141.7" class="m28"/>
<path d="M978.9 286.5 1008.1 271.5 1019.7 286.5 1025.5 281.5 1037.2 271.5 1043 281.5 1048.8 261.5 1060.5 276.5 1060.5 271.5 1066.3 246.6 1066.3 241.6 1072.1 266.5 1072.1 261.5 1077.9 261.5 1077.9 256.5 1083.8 246.6 1083.8 241.6 1083.8 236.6 1089.6 241.6 1089.6 236.6 1095.4 241.6 1101.2 181.6 1107.1 221.6 1107.1 216.6 1112.9 221.6 1118.7 161.6 1124.5 171.6 1130.4 201.6 1130.4 196.6 1130.4 191.6 1130.4 186.6 1130.4 181.6 1136.2 176.6 1136.2 171.6 1136.2 166.6 1142 176.6 1142 171.6 1147.8 116.7 1147.8 111.7 1147.8 106.7 1153.7 161.6 1153.7 156.6 1153.7 151.7 1153.7 146.7 1159.5 176.6 1159.5 171.6 1165.3 171.6 1165.3 166.6 1171.1 166.6 1171.1 161.6 1176.9 181.6 1176.9 176.6 1176.9 171.6 1176.9 166.6 1182.8 181.6 1182.8 176.6 1182.8 171.6 1182.8 166.6 1188.6 146.7 1188.6 141.7 1194.4 146.7 1200.2 141.7 1200.2 136.7 1200.2 131.7 1206.1 146.7 1211.9 141.7 1217.7 146.7 1223.5 136.7 1235.2 181.6 1246.8 181.6 1258.5 201.6" class="m29"/>
<path d="M973.1 296.5 1002.2 296.5 1008.1 276.5 1013.9 291.5 1025.5 286.5 1031.3 281.5 1037.2 276.5 1043 286.5 1048.8 266.5 1054.6 271.5 1054.6 266.5 1060.5 281.5 1066.3 261.5 1066.3 256.5 1066.3 251.6 1072.1 276.5 1072.1 271.5 1077.9 271.5 1077.9 266.5 1083.8 261.5 1083.8 256.5 1083.8 251.6 1089.6 256.5 1089.6 251.6 1089.6 246.6 1095.4 256.5 1095.4 251.6 1095.4 246.6 1101.2 196.6 1101.2 191.6 1101.2 186.6 1107.1 236.6 1107.1 231.6 1107.1 226.6 1112.9 236.6 1112.9 231.6 1112.9 226.6 1118.7 171.6 1118.7 166.6 1124.5 176.6 1130.4 236.6 1130.4 231.6 1130.4 226.6 1130.4 221.6 1130.4 216.6 1130.4 211.6 1130.4 206.6 1136.2 201.6 1136.2 196.6 1136.2 191.6 1136.2 186.6 1136.2 181.6 1142 196.6 1142 191.6 1142 186.6 1142 181.6 1147.8 136.7 1147.8 131.7 1147.8 126.7 1147.8 121.7 1153.7 196.6 1153.7 191.6 1153.7 186.6 1153.7 181.6 1153.7 176.6 1153.7 171.6 1153.7 166.6 1159.5 201.6 1159.5 196.6 1159.5 191.6 1159.5 186.6 1159.5 181.6 1165.3 191.6 1165.3 186.6 1165.3 181.6 1165.3 176.6 1171.1 186.6 1171.1 181.6 1171.1 176.6 1171.1 171.6 1176.9 206.6 1176.9 201.6 1176.9 196.6 1176.9 191.6 1176.9 186.6 1182.8 211.6 1182.8 206.6 1182.8 201.6 1182.8 196.6 1182.8 191.6 1182.8 186.6 1188.6 156.6 1188.6 151.7 1194.4 156.6 1194.4 151.7 1200.2 161.6 1200.2 156.6 1200.2 151.7 1200.2 146.7 1206.1 156.6 1206.1 151.7 1211.9 151.7 1211.9 146.7 1217.7 151.7 1223.5 146.7 1223.5 141.7 1229.4 171.6 1235.2 186.6 1241 186.6 1246.8 191.6 1246.8 186.6 1252.7 196.6 1258.5 206.6 1270.1 216.6" class="m30"/>
<path d="M978.9 291.5 984.8 296.5 1008.1 281.5 1019.7 291.5 1025.5 291.5 1031.3 286.5 1037.2 281.5 1043 291.5 1048.8 271.5 1054.6 276.5 1060.5 286.5 1066.3 271.5 1066.3 266.5 1072.1 286.5 1072.1 281.5 1077.9 281.5 1077.9 276.5 1083.8 276.5 1083.8 271.5 1083.8 266.5 1089.6 271.5 1089.6 266.5 1089.6 261.5 1095.4 266.5 1095.4 261.5 1101.2 216.6 1101.2 211.6 1101.2 206.6 1101.2 201.6 1107.1 251.6 1107.1 246.6 1107.1 241.6 1112.9 251.6 1112.9 246.6 1112.9 241.6 1118.7 191.6 1118.7 186.6 1118.7 181.6 1118.7 176.6 1124.5 191.6 1124.5 186.6 1124.5 181.6 1130.4 261.5 1130.4 256.5 1130.4 251.6 1130.4 246.6 1130.4 241.6 1136.2 231.6 1136.2 226.6 1136.2 221.6 1136.2 216.6 1136.2 211.6 1136.2 206.6 1142 226.6 1142 221.6 1142 216.6 1142 211.6 1142 206.6 1142 201.6 1147.8 176.6 1147.8 171.6 1147.8 166.6 1147.8 161.6 1147.8 156.6 1147.8 151.7 1147.8 146.7 1147.8 141.7 1153.7 231.6 1153.7 226.6 1153.7 221.6 1153.7 216.6 1153.7 211.6 1153.7 206.6 1153.7 201.6 1159.5 231.6 1159.5 226.6 1159.5 221.6 1159.5 216.6 1159.5 211.6 1159.5 206.6 1165.3 216.6 1165.3 211.6 1165.3 206.6 1165.3 201.6 1165.3 196.6 1171.1 216.6 1171.1 211.6 1171.1 206.6 1171.1 201.6 1171.1 196.6 1171.1 191.6 1176.9 236.6 1176.9 231.6 1176.9 226.6 1176.9 221.6 1176.9 216.6 1176.9 211.6 1182.8 241.6 1182.8 236.6 1182.8 231.6 1182.8 226.6 1182.8 221.6 1182.8 216.6 1188.6 181.6 1188.6 176.6 1188.6 171.6 1188.6 166.6 1188.6 161.6 1194.4 176.6 1194.4 171.6 1194.4 166.6 1194.4 161.6 1200.2 196.6 1200.2 191.6 1200.2 186.6 1200.2 181.6 1200.2 176.6 1200.2 171.6 1200.2 166.6 1206.1 181.6 1206.1 176.6 1206.1 171.6 1206.1 166.6 1206.1 161.6 1211.9 171.6 1211.9 166.6 1211.9 161.6 1211.9 156.6 1217.7 171.6 1217.7 166.6 1217.7 161.6 1217.7 156.6 1223.5 166.6 1223.5 161.6 1223.5 156.6 1223.5 151.7 1229.4 181.6 1229.4 176.6 1235.2 196.6 1235.2 191.6 1241 196.6 1241 191.6 1246.8 211.6 1246.8 206.6 1246.8 201.6 1246.8 196.6 1252.7 211.6 1252.7 206.6 1252.7 201.6 1258.5 216.6 1258.5 211.6 1264.3 206.6 1270.1 221.6 1287.6 261.5 1293.4 266.5" class="m31"/>
<path d="M1008.1 286.5 1013.9 296.5 1025.5 296.5 1031.3 291.5 1037.2 286.5 1043 296.5 1048.8 281.5 1048.8 276.5 1054.6 286.5 1054.6 281.5 1060.5 291.5 1066.3 281.5 1066.3 276.5 1072.1 291.5 1077.9 286.5 1083.8 286.5 1083.8 281.5 1089.6 281.5 1089.6 276.5 1095.4 281.5 1095.4 276.5 1095.4 271.5 1101.2 241.6 1101.2 236.6 1101.2 231.6 1101.2 226.6 1101.2 221.6 1107.1 271.5 1107.1 266.5 1107.1 261.5 1107.1 256.5 1112.9 266.5 1112.9 261.5 1112.9 256.5 1118.7 216.6 1118.7 211.6 1118.7 206.6 1118.7 201.6 1118.7 196.6 1124.5 216.6 1124.5 211.6 1124.5 206.6 1124.5 201.6 1124.5 196.6 1130.4 281.5 1130.4 276.5 1130.4 271.5 1130.4 266.5 1136.2 261.5 1136.2 256.5 1136.2 251.6 1136.2 246.6 1136.2 241.6 1136.2 236.6 1142 251.6 1142 246.6 1142 241.6 1142 236.6 1142 231.6 1147.8 216.6 1147.8 211.6 1147.8 206.6 1147.8 201.6 1147.8 196.6 1147.8 191.6 1147.8 186.6 1147.8 181.6 1153.7 261.5 1153.7 256.5 1153.7 251.6 1153.7 246.6 1153.7 241.6 1153.7 236.6 1159.5 256.5 1159.5 251.6 1159.5 246.6 1159.5 241.6 1159.5 236.6 1165.3 246.6 1165.3 241.6 1165.3 236.6 1165.3 231.6 1165.3 226.6 1165.3 221.6 1171.1 246.6 1171.1 241.6 1171.1 236.6 1171.1 231.6 1171.1 226.6 1171.1 221.6 1176.9 266.5 1176.9 261.5 1176.9 256.5 1176.9 251.6 1176.9 246.6 1176.9 241.6 1182.8 266.5 1182.8 261.5 1182.8 256.5 1182.8 251.6 1182.8 246.6 1188.6 211.6 1188.6 206.6 1188.6 201.6 1188.6 196.6 1188.6 191.6 1188.6 186.6 1194.4 206.6 1194.4 201.6 1194.4 196.6 1194.4 191.6 1194.4 186.6 1194.4 181.6 1200.2 231.6 1200.2 226.6 1200.2 221.6 1200.2 216.6 1200.2 211.6 1200.2 206.6 1200.2 201.6 1206.1 216.6 1206.1 211.6 1206.1 206.6 1206.1 201.6 1206.1 196.6 1206.1 191.6 1206.1 186.6 1211.9 201.6 1211.9 196.6 1211.9 191.6 1211.9 186.6 1211.9 181.6 1211.9 176.6 1217.7 196.6 1217.7 191.6 1217.7 186.6 1217.7 181.6 1217.7 176.6 1223.5 196.6 1223.5 191.6 1223.5 186.6 1223.5 181.6 1223.5 176.6 1223.5 171.6 1229.4 201.6 1229.4 196.6 1229.4 191.6 1229.4 186.6 1235.2 216.6 1235.2 211.6 1235.2 206.6 1235.2 201.6 1241 211.6 1241 206.6 1241 201.6 1246.8 231.6 1246.8 226.6 1246.8 221.6 1246.8 216.6 1252.7 226.6 1252.7 221.6 1252.7 216.6 1258.5 231.6 1258.5 226.6 1258.5 221.6 1264.3 216.6 1264.3 211.6 1270.1 231.6 1270.1 226.6 1276 216.6 1281.8 261.5 1287.6 266.5 1293.4 271.5 1299.3 261.5" class="m32"/>
<path d="M978.9 296.5 1008.1 291.5 1019.7 296.5 1031.3 296.5 1037.2 291.5 1048.8 291.5 1048.8 286.5 1054.6 291.5 1060.5 296.5 1066.3 291.5 1066.3 286.5 1072.1 296.5 1077.9 291.5 1083.8 291.5 1089.6 291.5 1089.6 286.5 1095.4 291.5 1095.4 286.5 1101.2 266.5 1101.2 261.5 1101.2 256.5 1101.2 251.6 1101.2 246.6 1107.1 286.5 1107.1 281.5 1107.1 276.5 1112.9 281.5 1112.9 276.5 1112.9 271.5 1118.7 246.6 1118.7 241.6 1118.7 236.6 1118.7 231.6 1118.7 226.6 1118.7 221.6 1124.5 241.6 1124.5 236.6 1124.5 231.6 1124.5 226.6 1124.5 221.6 1130.4 291.5 1130.4 286.5 1136.2 281.5 1136.2 276.5 1136.2 271.5 1136.2 266.5 1142 276.5 1142 271.5 1142 266.5 1142 261.5 1142 256.5 1147.8 251.6 1147.8 246.6 1147.8 241.6 1147.8 236.6 1147.8 231.6 1147.8 226.6 1147.8 221.6 1153.7 281.5 1153.7 276.5 1153.7 271.5 1153.7 266.5 1159.5 276.5 1159.5 271.5 1159.5 266.5 1159.5 261.5 1165.3 271.5 1165.3 266.5 1165.3 261.5 1165.3 256.5 1165.3 251.6 1171.1 271.5 1171.1 266.5 1171.1 261.5 1171.1 256.5 1171.1 251.6 1176.9 281.5 1176.9 276.5 1176.9 271.5 1182.8 286.5 1182.8 281.5 1182.8 276.5 1182.8 271.5 1188.6 246.6 1188.6 241.6 1188.6 236.6 1188.6 231.6 1188.6 226.6 1188.6 221.6 1188.6 216.6 1194.4 241.6 1194.4 236.6 1194.4 231.6 1194.4 226.6 1194.4 221.6 1194.4 216.6 1194.4 211.6 1200.2 261.5 1200.2 256.5 1200.2 251.6 1200.2 246.6 1200.2 241.6 1200.2 236.6 1206.1 246.6 1206.1 241.6 1206.1 236.6 1206.1 231.6 1206.1 226.6 1206.1 221.6 1211.9 236.6 1211.9 231.6 1211.9 226.6 1211.9 221.6 1211.9 216.6 1211.9 211.6 1211.9 206.6 1217.7 231.6 1217.7 226.6 1217.7 221.6 1217.7 216.6 1217.7 211.6 1217.7 206.6 1217.7 201.6 1223.5 231.6 1223.5 226.6 1223.5 221.6 1223.5 216.6 1223.5 211.6 1223.5 206.6 1223.5 201.6 1229.4 226.6 1229.4 221.6 1229.4 216.6 1229.4 211.6 1229.4 206.6 1235.2 241.6 1235.2 236.6 1235.2 231.6 1235.2 226.6 1235.2 221.6 1241 231.6 1241 226.6 1241 221.6 1241 216.6 1246.8 256.5 1246.8 251.6 1246.8 246.6 1246.8 241.6 1246.8 236.6 1252.7 246.6 1252.7 241.6 1252.7 236.6 1252.7 231.6 1258.5 251.6 1258.5 246.6 1258.5 241.6 1258.5 236.6 1264.3 231.6 1264.3 226.6 1264.3 221.6 1270.1 246.6 1270.1 241.6 1270.1 236.6 1276 226.6 1276 221.6 1281.8 266.5 1287.6 271.5 1293.4 276.5 1299.3 266.5 1305.1 251.6 1310.9 271.5 1322.5 266.5 1328.4 266.5" class="m33"/>
<path d="M1008.1 296.5 1037.2 296.5 1054.6 296.5 1066.3 296.5 1077.9 296.5 1083.8 296.5 1089.6 296.5 1095.4 296.5 1101.2 281.5 1101.2 276.5 1101.2 271.5 1107.1 291.5 1112.9 291.5 1112.9 286.5 1118.7 271.5 1118.7 266.5 1118.7 261.5 1118.7 256.5 1118.7 251.6 1124.5 266.5 1124.5 261.5 1124.5 256.5 1124.5 251.6 1124.5 246.6 1130.4 296.5 1136.2 291.5 1136.2 286.5 1142 286.5 1142 281.5 1147.8 276.5 1147.8 271.5 1147.8 266.5 1147.8 261.5 1147.8 256.5 1153.7 291.5 1153.7 286.5 1159.5 291.5 1159.5 286.5 1159.5 281.5 1165.3 286.5 1165.3 281.5 1165.3 276.5 1171.1 286.5 1171.1 281.5 1171.1 276.5 1176.9 291.5 1176.9 286.5 1182.8 291.5 1188.6 271.5 1188.6 266.5 1188.6 261.5 1188.6 256.5 1188.6 251.6 1194.4 266.5 1194.4 261.5 1194.4 256.5 1194.4 251.6 1194.4 246.6 1200.2 281.5 1200.2 276.5 1200.2 271.5 1200.2 266.5 1206.1 271.5 1206.1 266.5 1206.1 261.5 1206.1 256.5 1206.1 251.6 1211.9 261.5 1211.9 256.5 1211.9 251.6 1211.9 246.6 1211.9 241.6 1217.7 256.5 1217.7 251.6 1217.7 246.6 1217.7 241.6 1217.7 236.6 1223.5 261.5 1223.5 256.5 1223.5 251.6 1223.5 246.6 1223.5 241.6 1223.5 236.6 1229.4 251.6 1229.4 246.6 1229.4 241.6 1229.4 236.6 1229.4 231.6 1235.2 266.5 1235.2 261.5 1235.2 256.5 1235.2 251.6 1235.2 246.6 1241 256.5 1241 251.6 1241 246.6 1241 241.6 1241 236.6 1246.8 276.5 1246.8 271.5 1246.8 266.5 1246.8 261.5 1252.7 266.5 1252.7 261.5 1252.7 256.5 1252.7 251.6 1258.5 271.5 1258.5 266.5 1258.5 261.5 1258.5 256.5 1264.3 251.6 1264.3 246.6 1264.3 241.6 1264.3 236.6 1270.1 261.5 1270.1 256.5 1270.1 251.6 1276 241.6 1276 236.6 1276 231.6 1281.8 276.5 1281.8 271.5 1287.6 281.5 1287.6 276.5 1293.4 286.5 1293.4 281.5 1299.3 271.5 1305.1 256.5 1316.7 271.5 1322.5 271.5 1328.4 271.5 1334.2 286.5 1369.1 291.5" class="m34"/>
<path d="M1048.8 296.5 1101.2 291.5 1101.2 286.5 1107.1 296.5 1112.9 296.5 1118.7 286.5 1118.7 281.5 1118.7 276.5 1124.5 281.5 1124.5 276.5 1124.5 271.5 1136.2 296.5 1142 291.5 1147.8 291.5 1147.8 286.5 1147.8 281.5 1153.7 296.5 1159.5 296.5 1165.3 291.5 1171.1 291.5 1176.9 296.5 1182.8 296.5 1188.6 286.5 1188.6 281.5 1188.6 276.5 1194.4 281.5 1194.4 276.5 1194.4 271.5 1200.2 291.5 1200.2 286.5 1206.1 286.5 1206.1 281.5 1206.1 276.5 1211.9 281.5 1211.9 276.5 1211.9 271.5 1211.9 266.5 1217.7 281.5 1217.7 276.5 1217.7 271.5 1217.7 266.5 1217.7 261.5 1223.5 281.5 1223.5 276.5 1223.5 271.5 1223.5 266.5 1229.4 276.5 1229.4 271.5 1229.4 266.5 1229.4 261.5 1229.4 256.5 1235.2 281.5 1235.2 276.5 1235.2 271.5 1241 276.5 1241 271.5 1241 266.5 1241 261.5 1246.8 286.5 1246.8 281.5 1252.7 281.5 1252.7 276.5 1252.7 271.5 1258.5 286.5 1258.5 281.5 1258.5 276.5 1264.3 271.5 1264.3 266.5 1264.3 261.5 1264.3 256.5 1270.1 276.5 1270.1 271.5 1270.1 266.5 1276 256.5 1276 251.6 1276 246.6 1281.8 281.5 1287.6 291.5 1287.6 286.5 1293.4 291.5 1299.3 281.5 1299.3 276.5 1305.1 266.5 1305.1 261.5 1310.9 281.5 1310.9 276.5 1316.7 276.5 1322.5 276.5 1328.4 276.5 1345.8 296.5 1363.3 296.5" class="m35"/>
<path d="M1101.2 296.5 1118.7 291.5 1124.5 291.5 1124.5 286.5 1142 296.5 1147.8 296.5 1165.3 296.5 1171.1 296.5 1188.6 291.5 1194.4 291.5 1194.4 286.5 1200.2 296.5 1206.1 291.5 1211.9 291.5 1211.9 286.5 1217.7 291.5 1217.7 286.5 1223.5 291.5 1223.5 286.5 1229.4 286.5 1229.4 281.5 1235.2 291.5 1235.2 286.5 1241 286.5 1241 281.5 1246.8 296.5 1246.8 291.5 1252.7 291.5 1252.7 286.5 1258.5 291.5 1264.3 286.5 1264.3 281.5 1264.3 276.5 1270.1 286.5 1270.1 281.5 1276 276.5 1276 271.5 1276 266.5 1276 261.5 1281.8 291.5 1281.8 286.5 1293.4 296.5 1299.3 286.5 1305.1 276.5 1305.1 271.5 1310.9 286.5 1316.7 281.5 1322.5 286.5 1322.5 281.5 1328.4 286.5 1328.4 281.5 1334.2 291.5 1357.5 291.5 1375 296.5 1392.4 296.5" class="m36"/>
<path d="M1118.7 296.5 1124.5 296.5 1188.6 296.5 1194.4 296.5 1206.1 296.5 1211.9 296.5 1217.7 296.5 1223.5 296.5 1229.4 291.5 1235.2 296.5 1241 291.5 1252.7 296.5 1258.5 296.5 1264.3 291.5 1270.1 291.5 1276 286.5 1276 281.5 1287.6 296.5 1299.3 291.5 1305.1 286.5 1305.1 281.5 1310.9 291.5 1316.7 291.5 1316.7 286.5 1322.5 291.5 1328.4 291.5 1340 296.5 1369.1 296.5" class="m37"/>
<path d="M1229.4 296.5 1241 296.5 1264.3 296.5 1270.1 296.5 1276 291.5 1281.8 296.5 1299.3 296.5 1305.1 291.5 1310.9 296.5 1328.4 296.5 1334.2 296.5 1357.5 296.5" class="m38"/>
<path d="M1276 296.5 1305.1 296.5 1316.7 296.5 1322.5 296.5" class="m39"/>
<polyline points="874.1,301.1 877.1,301.1 880.1,301.1 883.1,301.1 886.1,301.1 889.1,301.1 892.1,301.1 895.1,301 898.1,301 901.1,301 904.1,300.9 907.1,300.9 910.1,300.8 913.1,300.8 916.1,300.7 919.1,300.6 922.1,300.6 925.1,300.5 928.1,300.4 931.1,300.3 934.1,300.2 937.1,300 940.1,299.8 943.1,299.6 946.1,299.2 949.2,298.9 952.2,298.5 955.2,298 958.2,297.6 961.2,297 964.2,296.5 967.2,295.9 970.2,295.2 973.2,294.5 976.2,293.7 979.2,292.9 982.2,292 985.2,291.2 988.2,290.3 991.2,289.4 994.2,288.5 997.2,287.5 1000.2,286.6 1003.2,285.5 1006.2,284.5 1009.2,283.4 1012.2,282.4 1015.2,281.3 1018.2,280.1 1021.2,279 1024.2,277.8 1027.2,276.6 1030.2,275.4 1033.2,274.1 1036.2,272.7 1039.2,271.3 1042.2,269.7 1045.2,268.1 1048.2,266.3 1051.2,264.5 1054.2,262.5 1057.2,260.5 1060.2,258.5 1063.2,256.4 1066.2,254.3 1069.2,252.1 1072.2,249.7 1075.2,247.1 1078.2,244.2 1081.2,241 1084.2,237.6 1087.2,233.8 1090.2,229.8 1093.3,225.6 1096.3,221.1 1099.3,216.3 1102.3,211.4 1105.3,206.4 1108.3,201.3 1111.3,196.2 1114.3,191.2 1117.3,186.2 1120.3,181.2 1123.3,176.3 1126.3,171.5 1129.3,167 1132.3,162.9 1135.3,159.4 1138.3,156.4 1141.3,154 1144.3,152.2 1147.3,151 1150.3,150.3 1153.3,150.1 1156.3,150.2 1159.3,150.5 1162.3,151.1 1165.3,151.7 1168.3,152.3 1171.3,152.8 1174.3,153.3 1177.3,153.7 1180.3,154 1183.3,154.2 1186.3,154.3 1189.3,154.4 1192.3,154.5 1195.3,154.6 1198.3,154.8 1201.3,155 1204.3,155.4 1207.3,156.1 1210.3,157.1 1213.3,158.3 1216.3,159.9 1219.3,161.8 1222.3,164.2 1225.3,166.9 1228.3,170 1231.3,173.4 1234.3,177.2 1237.3,181.1 1240.4,185.2 1243.4,189.3 1246.4,193.4 1249.4,197.4 1252.4,201.4 1255.4,205.4 1258.4,209.3 1261.4,213.3 1264.4,217.4 1267.4,221.6 1270.4,225.9 1273.4,230.3 1276.4,234.7 1279.4,239.1 1282.4,243.3 1285.4,247.3 1288.4,251 1291.4,254.4 1294.4,257.4 1297.4,260 1300.4,262.3 1303.4,264.3 1306.4,266.2 1309.4,267.9 1312.4,269.7 1315.4,271.6 1318.4,273.4 1321.4,275.3 1324.4,277.1 1327.4,279 1330.4,281 1333.4,282.9 1336.4,284.9 1339.4,286.9 1342.4,288.8 1345.4,290.5 1348.4,292 1351.4,293.2 1354.4,294.2 1357.4,295.1 1360.4,295.9 1363.4,296.6 1366.4,297.1 1369.4,297.6 1372.4,298 1375.4,298.4 1378.4,298.7 1381.4,299 1384.5,299.2 1387.5,299.5 1390.5,299.7 1393.5,299.8 1396.5,300 1399.5,300.1 1402.5,300.2 1405.5,300.3 1408.5,300.4 1411.5,300.5 1414.5,300.6 1417.5,300.6 1420.5,300.7 1423.5,300.8 1426.5,300.8 1429.5,300.9 1432.5,300.9 1435.5,301 1438.5,301 1441.5,301.1 1444.5,301.1 1447.5,301.1 1450.5,301.1 1453.5,301.1 1456.5,301.1" fill="none" stroke="#000" stroke-width="2.9" stroke-linejoin="round" stroke-linecap="round"/>
<line x1="1165.3" y1="313.2" x2="1165.3" y2="50.4" stroke="#000" stroke-width="3.3" stroke-dasharray="2.9 9.35"/>
</g>
<rect x="845.8" y="50.4" width="639.7" height="262.5" fill="none" stroke="#333" stroke-width="2"/>
<rect x="1485.5" y="50.4" width="40.3" height="262.5" fill="#d9d9d9" stroke="#333" stroke-width="2"/>
<text x="0" y="0" transform="translate(1505.7 181.7) rotate(90)" class="st">positive</text>
<line x1="838.3" y1="301.5" x2="845.8" y2="301.5" stroke="#333" stroke-width="2.2"/>
<text x="830.5" y="302.3" class="yl">0</text>
<line x1="838.3" y1="251.6" x2="845.8" y2="251.6" stroke="#333" stroke-width="2.2"/>
<text x="830.5" y="252.4" class="yl">10</text>
<line x1="838.3" y1="201.6" x2="845.8" y2="201.6" stroke="#333" stroke-width="2.2"/>
<text x="830.5" y="202.4" class="yl">20</text>
<line x1="838.3" y1="151.7" x2="845.8" y2="151.7" stroke="#333" stroke-width="2.2"/>
<text x="830.5" y="152.5" class="yl">30</text>
<line x1="838.3" y1="101.7" x2="845.8" y2="101.7" stroke="#333" stroke-width="2.2"/>
<text x="830.5" y="102.5" class="yl">40</text>
<line x1="838.3" y1="51.8" x2="845.8" y2="51.8" stroke="#333" stroke-width="2.2"/>
<text x="830.5" y="52.5" class="yl">50</text>
<clipPath id="cR2"><rect x="845.8" y="329.79999999999995" width="639.7" height="262.5"/></clipPath>
<g clip-path="url(#cR2)">
<path d="M1142 396.1 1147.8 416.1" class="m39"/>
<path d="M1054.6 545.9 1060.5 540.9 1066.3 540.9 1072.1 516 1077.9 521 1095.4 461 1101.2 461 1107.1 476 1112.9 416.1 1142 401.1 1147.8 421.1 1153.7 416.1 1159.5 386.1 1171.1 401.1 1176.9 396.1 1176.9 391.1 1206.1 426.1" class="m40"/>
<path d="M1037.2 565.9 1043 565.9 1048.8 550.9 1054.6 550.9 1060.5 545.9 1066.3 545.9 1072.1 521 1077.9 526 1083.8 506 1089.6 511 1095.4 466 1101.2 466 1107.1 481 1112.9 426.1 1112.9 421.1 1124.5 461 1136.2 406.1 1142 416.1 1142 411.1 1142 406.1 1147.8 436 1147.8 431 1147.8 426.1 1153.7 426.1 1153.7 421.1 1159.5 391.1 1165.3 391.1 1171.1 411.1 1171.1 406.1 1176.9 406.1 1176.9 401.1 1188.6 436 1194.4 436 1206.1 436 1206.1 431 1217.7 416.1 1229.4 441 1235.2 441 1246.8 476 1264.3 481" class="m41"/>
<path d="M1031.3 565.9 1043 570.9 1048.8 555.9 1054.6 555.9 1060.5 550.9 1066.3 555.9 1066.3 550.9 1072.1 530.9 1072.1 526 1077.9 535.9 1077.9 530.9 1083.8 516 1083.8 511 1089.6 516 1095.4 481 1095.4 476 1095.4 471 1101.2 481 1101.2 476 1101.2 471 1107.1 491 1107.1 486 1112.9 446 1112.9 441 1112.9 436 1112.9 431 1118.7 461 1124.5 471 1124.5 466 1130.4 401.1 1136.2 416.1 1136.2 411.1 1142 441 1142 436 1142 431 1142 426.1 1142 421.1 1147.8 466 1147.8 461 1147.8 456 1147.8 451 1147.8 446 1147.8 441 1153.7 446 1153.7 441 1153.7 436 1153.7 431 1159.5 411.1 1159.5 406.1 1159.5 401.1 1159.5 396.1 1165.3 396.1 1171.1 436 1171.1 431 1171.1 426.1 1171.1 421.1 1171.1 416.1 1176.9 431 1176.9 426.1 1176.9 421.1 1176.9 416.1 1176.9 411.1 1182.8 416.1 1182.8 411.1 1188.6 446 1188.6 441 1194.4 441 1200.2 426.1 1206.1 456 1206.1 451 1206.1 446 1206.1 441 1211.9 431 1217.7 426.1 1217.7 421.1 1223.5 436 1229.4 451 1229.4 446 1235.2 446 1241 441 1246.8 486 1246.8 481 1252.7 486 1264.3 486 1270.1 506 1276 516 1287.6 545.9" class="m42"/>
<path d="M1008.1 575.9 1025.5 575.9 1031.3 570.9 1037.2 570.9 1048.8 560.9 1054.6 565.9 1054.6 560.9 1060.5 560.9 1060.5 555.9 1066.3 560.9 1072.1 540.9 1072.1 535.9 1077.9 550.9 1077.9 545.9 1077.9 540.9 1083.8 530.9 1083.8 526 1083.8 521 1089.6 530.9 1089.6 526 1089.6 521 1095.4 501 1095.4 496 1095.4 491 1095.4 486 1101.2 501 1101.2 496 1101.2 491 1101.2 486 1107.1 511 1107.1 506 1107.1 501 1107.1 496 1112.9 476 1112.9 471 1112.9 466 1112.9 461 1112.9 456 1112.9 451 1118.7 471 1118.7 466 1124.5 486 1124.5 481 1124.5 476 1130.4 411.1 1130.4 406.1 1136.2 436 1136.2 431 1136.2 426.1 1136.2 421.1 1142 476 1142 471 1142 466 1142 461 1142 456 1142 451 1142 446 1147.8 496 1147.8 491 1147.8 486 1147.8 481 1147.8 476 1147.8 471 1153.7 476 1153.7 471 1153.7 466 1153.7 461 1153.7 456 1153.7 451 1159.5 441 1159.5 436 1159.5 431 1159.5 426.1 1159.5 421.1 1159.5 416.1 1165.3 411.1 1165.3 406.1 1165.3 401.1 1171.1 466 1171.1 461 1171.1 456 1171.1 451 1171.1 446 1171.1 441 1176.9 471 1176.9 466 1176.9 461 1176.9 456 1176.9 451 1176.9 446 1176.9 441 1176.9 436 1182.8 426.1 1182.8 421.1 1188.6 466 1188.6 461 1188.6 456 1188.6 451 1194.4 456 1194.4 451 1194.4 446 1200.2 436 1200.2 431 1206.1 486 1206.1 481 1206.1 476 1206.1 471 1206.1 466 1206.1 461 1211.9 436 1217.7 441 1217.7 436 1217.7 431 1223.5 441 1229.4 466 1229.4 461 1229.4 456 1235.2 461 1235.2 456 1235.2 451 1241 451 1241 446 1246.8 501 1246.8 496 1246.8 491 1252.7 491 1258.5 501 1264.3 501 1264.3 496 1264.3 491 1270.1 511" class="m43"/>
<path d="M996.4 575.9 1043 575.9 1048.8 565.9 1054.6 570.9 1060.5 565.9 1066.3 570.9 1066.3 565.9 1072.1 555.9 1072.1 550.9 1072.1 545.9 1077.9 560.9 1077.9 555.9 1083.8 545.9 1083.8 540.9 1083.8 535.9 1089.6 540.9 1089.6 535.9 1095.4 526 1095.4 521 1095.4 516 1095.4 511 1095.4 506 1101.2 526 1101.2 521 1101.2 516 1101.2 511 1101.2 506 1107.1 535.9 1107.1 530.9 1107.1 526 1107.1 521 1107.1 516 1112.9 511 1112.9 506 1112.9 501 1112.9 496 1112.9 491 1112.9 486 1112.9 481 1118.7 491 1118.7 486 1118.7 481 1118.7 476 1124.5 506 1124.5 501 1124.5 496 1124.5 491 1130.4 431 1130.4 426.1 1130.4 421.1 1130.4 416.1 1136.2 471 1136.2 466 1136.2 461 1136.2 456 1136.2 451 1136.2 446 1136.2 441 1142 516 1142 511 1142 506 1142 501 1142 496 1142 491 1142 486 1142 481 1147.8 530.9 1147.8 526 1147.8 521 1147.8 516 1147.8 511 1147.8 506 1147.8 501 1153.7 511 1153.7 506 1153.7 501 1153.7 496 1153.7 491 1153.7 486 1153.7 481 1159.5 481 1159.5 476 1159.5 471 1159.5 466 1159.5 461 1159.5 456 1159.5 451 1159.5 446 1165.3 436 1165.3 431 1165.3 426.1 1165.3 421.1 1165.3 416.1 1171.1 506 1171.1 501 1171.1 496 1171.1 491 1171.1 486 1171.1 481 1171.1 476 1171.1 471 1176.9 506 1176.9 501 1176.9 496 1176.9 491 1176.9 486 1176.9 481 1176.9 476 1182.8 451 1182.8 446 1182.8 441 1182.8 436 1182.8 431 1188.6 491 1188.6 486 1188.6 481 1188.6 476 1188.6 471 1194.4 486 1194.4 481 1194.4 476 1194.4 471 1194.4 466 1194.4 461 1200.2 456 1200.2 451 1200.2 446 1200.2 441 1206.1 516 1206.1 511 1206.1 506 1206.1 501 1206.1 496 1206.1 491 1211.9 451 1211.9 446 1211.9 441 1217.7 471 1217.7 466 1217.7 461 1217.7 456 1217.7 451 1217.7 446 1223.5 461 1223.5 456 1223.5 451 1223.5 446 1229.4 491 1229.4 486 1229.4 481 1229.4 476 1229.4 471 1235.2 481 1235.2 476 1235.2 471 1235.2 466 1241 471 1241 466 1241 461 1241 456 1246.8 526 1246.8 521 1246.8 516 1246.8 511 1246.8 506 1252.7 501 1252.7 496 1258.5 511 1258.5 506 1264.3 516 1264.3 511 1264.3 506 1270.1 526 1270.1 521 1270.1 516 1276 526 1276 521 1281.8 540.9 1287.6 550.9 1310.9 555.9" class="m44"/>
<path d="M1031.3 575.9 1037.2 575.9 1048.8 570.9 1054.6 575.9 1060.5 570.9 1072.1 565.9 1072.1 560.9 1077.9 570.9 1077.9 565.9 1083.8 560.9 1083.8 555.9 1083.8 550.9 1089.6 555.9 1089.6 550.9 1089.6 545.9 1095.4 550.9 1095.4 545.9 1095.4 540.9 1095.4 535.9 1095.4 530.9 1101.2 545.9 1101.2 540.9 1101.2 535.9 1101.2 530.9 1107.1 550.9 1107.1 545.9 1107.1 540.9 1112.9 540.9 1112.9 535.9 1112.9 530.9 1112.9 526 1112.9 521 1112.9 516 1118.7 511 1118.7 506 1118.7 501 1118.7 496 1124.5 530.9 1124.5 526 1124.5 521 1124.5 516 1124.5 511 1130.4 466 1130.4 461 1130.4 456 1130.4 451 1130.4 446 1130.4 441 1130.4 436 1136.2 506 1136.2 501 1136.2 496 1136.2 491 1136.2 486 1136.2 481 1136.2 476 1142 545.9 1142 540.9 1142 535.9 1142 530.9 1142 526 1142 521 1147.8 555.9 1147.8 550.9 1147.8 545.9 1147.8 540.9 1147.8 535.9 1153.7 540.9 1153.7 535.9 1153.7 530.9 1153.7 526 1153.7 521 1153.7 516 1159.5 521 1159.5 516 1159.5 511 1159.5 506 1159.5 501 1159.5 496 1159.5 491 1159.5 486 1165.3 476 1165.3 471 1165.3 466 1165.3 461 1165.3 456 1165.3 451 1165.3 446 1165.3 441 1171.1 535.9 1171.1 530.9 1171.1 526 1171.1 521 1171.1 516 1171.1 511 1176.9 540.9 1176.9 535.9 1176.9 530.9 1176.9 526 1176.9 521 1176.9 516 1176.9 511 1182.8 486 1182.8 481 1182.8 476 1182.8 471 1182.8 466 1182.8 461 1182.8 456 1188.6 521 1188.6 516 1188.6 511 1188.6 506 1188.6 501 1188.6 496 1194.4 516 1194.4 511 1194.4 506 1194.4 501 1194.4 496 1194.4 491 1200.2 486 1200.2 481 1200.2 476 1200.2 471 1200.2 466 1200.2 461 1206.1 545.9 1206.1 540.9 1206.1 535.9 1206.1 530.9 1206.1 526 1206.1 521 1211.9 476 1211.9 471 1211.9 466 1211.9 461 1211.9 456 1217.7 506 1217.7 501 1217.7 496 1217.7 491 1217.7 486 1217.7 481 1217.7 476 1223.5 486 1223.5 481 1223.5 476 1223.5 471 1223.5 466 1229.4 521 1229.4 516 1229.4 511 1229.4 506 1229.4 501 1229.4 496 1235.2 511 1235.2 506 1235.2 501 1235.2 496 1235.2 491 1235.2 486 1241 501 1241 496 1241 491 1241 486 1241 481 1241 476 1246.8 545.9 1246.8 540.9 1246.8 535.9 1246.8 530.9 1252.7 516 1252.7 511 1252.7 506 1258.5 526 1258.5 521 1258.5 516 1264.3 535.9 1264.3 530.9 1264.3 526 1264.3 521 1270.1 540.9 1270.1 535.9 1270.1 530.9 1276 540.9 1276 535.9 1276 530.9 1287.6 560.9 1287.6 555.9 1293.4 540.9 1305.1 545.9 1310.9 560.9 1316.7 555.9 1322.5 560.9 1334.2 570.9" class="m45"/>
<path d="M1048.8 575.9 1060.5 575.9 1066.3 575.9 1072.1 570.9 1083.8 565.9 1089.6 565.9 1089.6 560.9 1095.4 565.9 1095.4 560.9 1095.4 555.9 1101.2 560.9 1101.2 555.9 1101.2 550.9 1107.1 565.9 1107.1 560.9 1107.1 555.9 1112.9 560.9 1112.9 555.9 1112.9 550.9 1112.9 545.9 1118.7 535.9 1118.7 530.9 1118.7 526 1118.7 521 1118.7 516 1124.5 550.9 1124.5 545.9 1124.5 540.9 1124.5 535.9 1130.4 501 1130.4 496 1130.4 491 1130.4 486 1130.4 481 1130.4 476 1130.4 471 1136.2 540.9 1136.2 535.9 1136.2 530.9 1136.2 526 1136.2 521 1136.2 516 1136.2 511 1142 565.9 1142 560.9 1142 555.9 1142 550.9 1147.8 565.9 1147.8 560.9 1153.7 560.9 1153.7 555.9 1153.7 550.9 1153.7 545.9 1159.5 550.9 1159.5 545.9 1159.5 540.9 1159.5 535.9 1159.5 530.9 1159.5 526 1165.3 516 1165.3 511 1165.3 506 1165.3 501 1165.3 496 1165.3 491 1165.3 486 1165.3 481 1171.1 560.9 1171.1 555.9 1171.1 550.9 1171.1 545.9 1171.1 540.9 1176.9 560.9 1176.9 555.9 1176.9 550.9 1176.9 545.9 1182.8 521 1182.8 516 1182.8 511 1182.8 506 1182.8 501 1182.8 496 1182.8 491 1188.6 545.9 1188.6 540.9 1188.6 535.9 1188.6 530.9 1188.6 526 1194.4 540.9 1194.4 535.9 1194.4 530.9 1194.4 526 1194.4 521 1200.2 521 1200.2 516 1200.2 511 1200.2 506 1200.2 501 1200.2 496 1200.2 491 1206.1 560.9 1206.1 555.9 1206.1 550.9 1211.9 506 1211.9 501 1211.9 496 1211.9 491 1211.9 486 1211.9 481 1217.7 535.9 1217.7 530.9 1217.7 526 1217.7 521 1217.7 516 1217.7 511 1223.5 516 1223.5 511 1223.5 506 1223.5 501 1223.5 496 1223.5 491 1229.4 545.9 1229.4 540.9 1229.4 535.9 1229.4 530.9 1229.4 526 1235.2 540.9 1235.2 535.9 1235.2 530.9 1235.2 526 1235.2 521 1235.2 516 1241 530.9 1241 526 1241 521 1241 516 1241 511 1241 506 1246.8 560.9 1246.8 555.9 1246.8 550.9 1252.7 535.9 1252.7 530.9 1252.7 526 1252.7 521 1258.5 540.9 1258.5 535.9 1258.5 530.9 1264.3 555.9 1264.3 550.9 1264.3 545.9 1264.3 540.9 1270.1 555.9 1270.1 550.9 1270.1 545.9 1276 550.9 1276 545.9 1281.8 550.9 1281.8 545.9 1287.6 565.9 1293.4 545.9 1299.3 545.9 1305.1 550.9 1310.9 565.9 1316.7 560.9 1322.5 565.9 1328.4 570.9 1357.5 570.9" class="m46"/>
<path d="M1072.1 575.9 1077.9 575.9 1083.8 570.9 1089.6 570.9 1095.4 570.9 1101.2 570.9 1101.2 565.9 1107.1 570.9 1112.9 570.9 1112.9 565.9 1118.7 555.9 1118.7 550.9 1118.7 545.9 1118.7 540.9 1124.5 565.9 1124.5 560.9 1124.5 555.9 1130.4 535.9 1130.4 530.9 1130.4 526 1130.4 521 1130.4 516 1130.4 511 1130.4 506 1136.2 560.9 1136.2 555.9 1136.2 550.9 1136.2 545.9 1142 570.9 1147.8 575.9 1147.8 570.9 1153.7 570.9 1153.7 565.9 1159.5 565.9 1159.5 560.9 1159.5 555.9 1165.3 545.9 1165.3 540.9 1165.3 535.9 1165.3 530.9 1165.3 526 1165.3 521 1171.1 570.9 1171.1 565.9 1176.9 570.9 1176.9 565.9 1182.8 550.9 1182.8 545.9 1182.8 540.9 1182.8 535.9 1182.8 530.9 1182.8 526 1188.6 565.9 1188.6 560.9 1188.6 555.9 1188.6 550.9 1194.4 560.9 1194.4 555.9 1194.4 550.9 1194.4 545.9 1200.2 545.9 1200.2 540.9 1200.2 535.9 1200.2 530.9 1200.2 526 1206.1 570.9 1206.1 565.9 1211.9 535.9 1211.9 530.9 1211.9 526 1211.9 521 1211.9 516 1211.9 511 1217.7 555.9 1217.7 550.9 1217.7 545.9 1217.7 540.9 1223.5 540.9 1223.5 535.9 1223.5 530.9 1223.5 526 1223.5 521 1229.4 560.9 1229.4 555.9 1229.4 550.9 1235.2 560.9 1235.2 555.9 1235.2 550.9 1235.2 545.9 1241 550.9 1241 545.9 1241 540.9 1241 535.9 1246.8 570.9 1246.8 565.9 1252.7 555.9 1252.7 550.9 1252.7 545.9 1252.7 540.9 1258.5 555.9 1258.5 550.9 1258.5 545.9 1264.3 565.9 1264.3 560.9 1270.1 565.9 1270.1 560.9 1276 565.9 1276 560.9 1276 555.9 1281.8 560.9 1281.8 555.9 1287.6 570.9 1293.4 555.9 1293.4 550.9 1299.3 550.9 1305.1 560.9 1305.1 555.9 1310.9 570.9 1316.7 565.9 1322.5 570.9 1334.2 575.9 1340 575.9 1369.1 575.9 1375 575.9" class="m47"/>
<path d="M1083.8 575.9 1089.6 575.9 1095.4 575.9 1101.2 575.9 1107.1 575.9 1112.9 575.9 1118.7 565.9 1118.7 560.9 1124.5 570.9 1130.4 555.9 1130.4 550.9 1130.4 545.9 1130.4 540.9 1136.2 570.9 1136.2 565.9 1142 575.9 1153.7 575.9 1159.5 570.9 1165.3 565.9 1165.3 560.9 1165.3 555.9 1165.3 550.9 1171.1 575.9 1176.9 575.9 1182.8 565.9 1182.8 560.9 1182.8 555.9 1188.6 570.9 1194.4 570.9 1194.4 565.9 1200.2 565.9 1200.2 560.9 1200.2 555.9 1200.2 550.9 1206.1 575.9 1211.9 555.9 1211.9 550.9 1211.9 545.9 1211.9 540.9 1217.7 570.9 1217.7 565.9 1217.7 560.9 1223.5 560.9 1223.5 555.9 1223.5 550.9 1223.5 545.9 1229.4 570.9 1229.4 565.9 1235.2 570.9 1235.2 565.9 1241 565.9 1241 560.9 1241 555.9 1246.8 575.9 1252.7 565.9 1252.7 560.9 1258.5 565.9 1258.5 560.9 1264.3 570.9 1270.1 570.9 1276 570.9 1281.8 565.9 1287.6 575.9 1293.4 565.9 1293.4 560.9 1299.3 555.9 1305.1 565.9 1316.7 570.9 1328.4 575.9 1363.3 575.9 1380.8 575.9" class="m48"/>
<path d="M1118.7 575.9 1118.7 570.9 1124.5 575.9 1130.4 570.9 1130.4 565.9 1130.4 560.9 1136.2 575.9 1159.5 575.9 1165.3 570.9 1182.8 570.9 1188.6 575.9 1194.4 575.9 1200.2 570.9 1211.9 570.9 1211.9 565.9 1211.9 560.9 1217.7 575.9 1223.5 570.9 1223.5 565.9 1229.4 575.9 1235.2 575.9 1241 570.9 1252.7 570.9 1258.5 570.9 1264.3 575.9 1270.1 575.9 1276 575.9 1281.8 570.9 1293.4 570.9 1299.3 565.9 1299.3 560.9 1305.1 570.9 1310.9 575.9 1316.7 575.9 1322.5 575.9 1357.5 575.9" class="m49"/>
<path d="M1130.4 575.9 1165.3 575.9 1182.8 575.9 1200.2 575.9 1211.9 575.9 1223.5 575.9 1241 575.9 1252.7 575.9 1258.5 575.9 1281.8 575.9 1293.4 575.9 1299.3 570.9 1305.1 575.9" class="m50"/>
<path d="M1299.3 575.9" class="m51"/>
<polyline points="874.1,580.7 877.1,580.7 880.1,580.7 883.1,580.7 886.1,580.7 889.1,580.7 892.1,580.7 895.1,580.7 898.1,580.7 901.1,580.7 904.1,580.6 907.1,580.6 910.1,580.6 913.1,580.6 916.1,580.6 919.1,580.6 922.1,580.6 925.1,580.5 928.1,580.5 931.1,580.5 934.1,580.5 937.1,580.4 940.1,580.4 943.1,580.4 946.1,580.4 949.2,580.3 952.2,580.3 955.2,580.3 958.2,580.2 961.2,580.1 964.2,580.1 967.2,579.9 970.2,579.8 973.2,579.7 976.2,579.5 979.2,579.3 982.2,579.1 985.2,578.9 988.2,578.7 991.2,578.5 994.2,578.3 997.2,578.1 1000.2,577.9 1003.2,577.6 1006.2,577.3 1009.2,576.9 1012.2,576.5 1015.2,575.9 1018.2,575.1 1021.2,574.2 1024.2,573.1 1027.2,571.9 1030.2,570.5 1033.2,568.9 1036.2,567.2 1039.2,565.4 1042.2,563.3 1045.2,561 1048.2,558.5 1051.2,555.7 1054.2,552.6 1057.2,549.1 1060.2,545.4 1063.2,541.4 1066.2,537.2 1069.2,532.7 1072.2,528 1075.2,523.1 1078.2,518 1081.2,513 1084.2,507.9 1087.2,502.9 1090.2,497.9 1093.3,492.8 1096.3,487.8 1099.3,482.7 1102.3,477.7 1105.3,472.9 1108.3,468.2 1111.3,463.9 1114.3,459.7 1117.3,455.7 1120.3,451.9 1123.3,448.2 1126.3,444.6 1129.3,441 1132.3,437.5 1135.3,433.9 1138.3,430.4 1141.3,426.9 1144.3,423.5 1147.3,420.3 1150.3,417.3 1153.3,414.7 1156.3,412.5 1159.3,410.7 1162.3,409.4 1165.3,408.7 1168.3,408.4 1171.3,408.7 1174.3,409.5 1177.3,410.9 1180.3,412.7 1183.3,414.8 1186.3,416.9 1189.3,419 1192.3,421 1195.3,422.9 1198.3,424.6 1201.3,426.1 1204.3,427.3 1207.3,428.5 1210.3,429.6 1213.3,430.7 1216.3,432.2 1219.3,433.9 1222.3,436 1225.3,438.4 1228.3,441.2 1231.3,444.4 1234.3,448.1 1237.3,452.1 1240.4,456.4 1243.4,461 1246.4,465.8 1249.4,470.7 1252.4,475.8 1255.4,480.8 1258.4,485.9 1261.4,490.9 1264.4,495.9 1267.4,500.8 1270.4,505.6 1273.4,510.3 1276.4,514.8 1279.4,519.2 1282.4,523.3 1285.4,527.2 1288.4,530.9 1291.4,534.3 1294.4,537.5 1297.4,540.4 1300.4,543.1 1303.4,545.7 1306.4,548.2 1309.4,550.7 1312.4,553.2 1315.4,555.7 1318.4,558.2 1321.4,560.7 1324.4,563.2 1327.4,565.6 1330.4,567.9 1333.4,569.8 1336.4,571.4 1339.4,572.6 1342.4,573.6 1345.4,574.3 1348.4,574.9 1351.4,575.4 1354.4,575.8 1357.4,576.1 1360.4,576.3 1363.4,576.6 1366.4,576.8 1369.4,577 1372.4,577.2 1375.4,577.4 1378.4,577.7 1381.4,577.9 1384.5,578.1 1387.5,578.3 1390.5,578.6 1393.5,578.8 1396.5,579 1399.5,579.3 1402.5,579.5 1405.5,579.7 1408.5,579.9 1411.5,580 1414.5,580.2 1417.5,580.3 1420.5,580.3 1423.5,580.4 1426.5,580.4 1429.5,580.5 1432.5,580.5 1435.5,580.6 1438.5,580.6 1441.5,580.6 1444.5,580.7 1447.5,580.7 1450.5,580.7 1453.5,580.7 1456.5,580.7" fill="none" stroke="#000" stroke-width="2.9" stroke-linejoin="round" stroke-linecap="round"/>
<line x1="1165.3" y1="592.6" x2="1165.3" y2="329.79999999999995" stroke="#000" stroke-width="3.3" stroke-dasharray="2.9 9.35"/>
</g>
<rect x="845.8" y="329.79999999999995" width="639.7" height="262.5" fill="none" stroke="#333" stroke-width="2"/>
<rect x="1485.5" y="329.79999999999995" width="40.3" height="262.5" fill="#d9d9d9" stroke="#333" stroke-width="2"/>
<text x="0" y="0" transform="translate(1505.7 461.0) rotate(90)" class="st">negative</text>
<line x1="838.3" y1="580.9" x2="845.8" y2="580.9" stroke="#333" stroke-width="2.2"/>
<text x="830.5" y="581.7" class="yl">0</text>
<line x1="838.3" y1="530.9" x2="845.8" y2="530.9" stroke="#333" stroke-width="2.2"/>
<text x="830.5" y="531.7" class="yl">10</text>
<line x1="838.3" y1="481.0" x2="845.8" y2="481.0" stroke="#333" stroke-width="2.2"/>
<text x="830.5" y="481.8" class="yl">20</text>
<line x1="838.3" y1="431.0" x2="845.8" y2="431.0" stroke="#333" stroke-width="2.2"/>
<text x="830.5" y="431.8" class="yl">30</text>
<line x1="838.3" y1="381.1" x2="845.8" y2="381.1" stroke="#333" stroke-width="2.2"/>
<text x="830.5" y="381.9" class="yl">40</text>
<line x1="838.3" y1="331.1" x2="845.8" y2="331.1" stroke="#333" stroke-width="2.2"/>
<text x="830.5" y="331.9" class="yl">50</text>
<clipPath id="cR3"><rect x="845.8" y="609.1999999999999" width="639.7" height="262.5"/></clipPath>
<g clip-path="url(#cR3)">
<path d="M1037.2 830.3 1066.3 805.4 1089.6 790.4 1107.1 750.4 1124.5 725.4 1130.4 725.4" class="m48"/>
<path d="M1037.2 835.3 1043 835.3 1043 830.3 1048.8 830.3 1060.5 825.3 1066.3 820.3 1066.3 815.3 1066.3 810.3 1072.1 810.3 1077.9 770.4 1077.9 765.4 1089.6 800.4 1089.6 795.4 1095.4 790.4 1101.2 745.4 1107.1 765.4 1107.1 760.4 1107.1 755.4 1124.5 740.4 1124.5 735.4 1124.5 730.4 1130.4 735.4 1130.4 730.4 1136.2 690.5 1136.2 685.5 1142 695.5 1142 690.5 1147.8 620.5 1159.5 650.5 1171.1 685.5 1171.1 680.5 1182.8 735.4" class="m49"/>
<path d="M1019.7 855.3 1031.3 855.3 1037.2 845.3 1037.2 840.3 1043 840.3 1048.8 840.3 1048.8 835.3 1054.6 835.3 1060.5 835.3 1060.5 830.3 1066.3 835.3 1066.3 830.3 1066.3 825.3 1072.1 825.3 1072.1 820.3 1072.1 815.3 1077.9 790.4 1077.9 785.4 1077.9 780.4 1077.9 775.4 1083.8 810.3 1089.6 825.3 1089.6 820.3 1089.6 815.3 1089.6 810.3 1089.6 805.4 1095.4 805.4 1095.4 800.4 1095.4 795.4 1101.2 765.4 1101.2 760.4 1101.2 755.4 1101.2 750.4 1107.1 790.4 1107.1 785.4 1107.1 780.4 1107.1 775.4 1107.1 770.4 1112.9 700.5 1112.9 695.5 1112.9 690.5 1118.7 730.4 1118.7 725.4 1124.5 770.4 1124.5 765.4 1124.5 760.4 1124.5 755.4 1124.5 750.4 1124.5 745.4 1130.4 770.4 1130.4 765.4 1130.4 760.4 1130.4 755.4 1130.4 750.4 1130.4 745.4 1130.4 740.4 1136.2 720.4 1136.2 715.4 1136.2 710.4 1136.2 705.5 1136.2 700.5 1136.2 695.5 1142 725.4 1142 720.4 1142 715.4 1142 710.4 1142 705.5 1142 700.5 1147.8 635.5 1147.8 630.5 1147.8 625.5 1153.7 635.5 1153.7 630.5 1159.5 660.5 1159.5 655.5 1165.3 655.5 1165.3 650.5 1171.1 715.4 1171.1 710.4 1171.1 705.5 1171.1 700.5 1171.1 695.5 1171.1 690.5 1182.8 755.4 1182.8 750.4 1182.8 745.4 1182.8 740.4 1188.6 650.5 1194.4 670.5 1194.4 665.5 1194.4 660.5 1206.1 710.4" class="m50"/>
<path d="M1037.2 850.3 1043 850.3 1043 845.3 1048.8 845.3 1054.6 845.3 1054.6 840.3 1060.5 845.3 1060.5 840.3 1066.3 850.3 1066.3 845.3 1066.3 840.3 1072.1 840.3 1072.1 835.3 1072.1 830.3 1077.9 820.3 1077.9 815.3 1077.9 810.3 1077.9 805.4 1077.9 800.4 1077.9 795.4 1083.8 825.3 1083.8 820.3 1083.8 815.3 1089.6 840.3 1089.6 835.3 1089.6 830.3 1095.4 825.3 1095.4 820.3 1095.4 815.3 1095.4 810.3 1101.2 800.4 1101.2 795.4 1101.2 790.4 1101.2 785.4 1101.2 780.4 1101.2 775.4 1101.2 770.4 1107.1 825.3 1107.1 820.3 1107.1 815.3 1107.1 810.3 1107.1 805.4 1107.1 800.4 1107.1 795.4 1112.9 730.4 1112.9 725.4 1112.9 720.4 1112.9 715.4 1112.9 710.4 1112.9 705.5 1118.7 760.4 1118.7 755.4 1118.7 750.4 1118.7 745.4 1118.7 740.4 1118.7 735.4 1124.5 810.3 1124.5 805.4 1124.5 800.4 1124.5 795.4 1124.5 790.4 1124.5 785.4 1124.5 780.4 1124.5 775.4 1130.4 810.3 1130.4 805.4 1130.4 800.4 1130.4 795.4 1130.4 790.4 1130.4 785.4 1130.4 780.4 1130.4 775.4 1136.2 770.4 1136.2 765.4 1136.2 760.4 1136.2 755.4 1136.2 750.4 1136.2 745.4 1136.2 740.4 1136.2 735.4 1136.2 730.4 1136.2 725.4 1142 770.4 1142 765.4 1142 760.4 1142 755.4 1142 750.4 1142 745.4 1142 740.4 1142 735.4 1142 730.4 1147.8 675.5 1147.8 670.5 1147.8 665.5 1147.8 660.5 1147.8 655.5 1147.8 650.5 1147.8 645.5 1147.8 640.5 1153.7 665.5 1153.7 660.5 1153.7 655.5 1153.7 650.5 1153.7 645.5 1153.7 640.5 1159.5 700.5 1159.5 695.5 1159.5 690.5 1159.5 685.5 1159.5 680.5 1159.5 675.5 1159.5 670.5 1159.5 665.5 1165.3 685.5 1165.3 680.5 1165.3 675.5 1165.3 670.5 1165.3 665.5 1165.3 660.5 1171.1 770.4 1171.1 765.4 1171.1 760.4 1171.1 755.4 1171.1 750.4 1171.1 745.4 1171.1 740.4 1171.1 735.4 1171.1 730.4 1171.1 725.4 1171.1 720.4 1182.8 790.4 1182.8 785.4 1182.8 780.4 1182.8 775.4 1182.8 770.4 1182.8 765.4 1182.8 760.4 1188.6 675.5 1188.6 670.5 1188.6 665.5 1188.6 660.5 1188.6 655.5 1194.4 705.5 1194.4 700.5 1194.4 695.5 1194.4 690.5 1194.4 685.5 1194.4 680.5 1194.4 675.5 1206.1 735.4 1206.1 730.4 1206.1 725.4 1206.1 720.4 1206.1 715.4 1217.7 755.4 1217.7 750.4 1223.5 750.4 1235.2 755.4" class="m51"/>
<path d="M1037.2 855.3 1043 855.3 1048.8 855.3 1048.8 850.3 1054.6 850.3 1060.5 850.3 1066.3 855.3 1072.1 850.3 1072.1 845.3 1077.9 845.3 1077.9 840.3 1077.9 835.3 1077.9 830.3 1077.9 825.3 1083.8 840.3 1083.8 835.3 1083.8 830.3 1089.6 850.3 1089.6 845.3 1095.4 845.3 1095.4 840.3 1095.4 835.3 1095.4 830.3 1101.2 830.3 1101.2 825.3 1101.2 820.3 1101.2 815.3 1101.2 810.3 1101.2 805.4 1107.1 845.3 1107.1 840.3 1107.1 835.3 1107.1 830.3 1112.9 780.4 1112.9 775.4 1112.9 770.4 1112.9 765.4 1112.9 760.4 1112.9 755.4 1112.9 750.4 1112.9 745.4 1112.9 740.4 1112.9 735.4 1118.7 800.4 1118.7 795.4 1118.7 790.4 1118.7 785.4 1118.7 780.4 1118.7 775.4 1118.7 770.4 1118.7 765.4 1124.5 840.3 1124.5 835.3 1124.5 830.3 1124.5 825.3 1124.5 820.3 1124.5 815.3 1130.4 840.3 1130.4 835.3 1130.4 830.3 1130.4 825.3 1130.4 820.3 1130.4 815.3 1136.2 820.3 1136.2 815.3 1136.2 810.3 1136.2 805.4 1136.2 800.4 1136.2 795.4 1136.2 790.4 1136.2 785.4 1136.2 780.4 1136.2 775.4 1142 820.3 1142 815.3 1142 810.3 1142 805.4 1142 800.4 1142 795.4 1142 790.4 1142 785.4 1142 780.4 1142 775.4 1147.8 750.4 1147.8 745.4 1147.8 740.4 1147.8 735.4 1147.8 730.4 1147.8 725.4 1147.8 720.4 1147.8 715.4 1147.8 710.4 1147.8 705.5 1147.8 700.5 1147.8 695.5 1147.8 690.5 1147.8 685.5 1147.8 680.5 1153.7 725.4 1153.7 720.4 1153.7 715.4 1153.7 710.4 1153.7 705.5 1153.7 700.5 1153.7 695.5 1153.7 690.5 1153.7 685.5 1153.7 680.5 1153.7 675.5 1153.7 670.5 1159.5 760.4 1159.5 755.4 1159.5 750.4 1159.5 745.4 1159.5 740.4 1159.5 735.4 1159.5 730.4 1159.5 725.4 1159.5 720.4 1159.5 715.4 1159.5 710.4 1159.5 705.5 1165.3 745.4 1165.3 740.4 1165.3 735.4 1165.3 730.4 1165.3 725.4 1165.3 720.4 1165.3 715.4 1165.3 710.4 1165.3 705.5 1165.3 700.5 1165.3 695.5 1165.3 690.5 1171.1 820.3 1171.1 815.3 1171.1 810.3 1171.1 805.4 1171.1 800.4 1171.1 795.4 1171.1 790.4 1171.1 785.4 1171.1 780.4 1171.1 775.4 1176.9 730.4 1176.9 725.4 1182.8 825.3 1182.8 820.3 1182.8 815.3 1182.8 810.3 1182.8 805.4 1182.8 800.4 1182.8 795.4 1188.6 730.4 1188.6 725.4 1188.6 720.4 1188.6 715.4 1188.6 710.4 1188.6 705.5 1188.6 700.5 1188.6 695.5 1188.6 690.5 1188.6 685.5 1188.6 680.5 1194.4 760.4 1194.4 755.4 1194.4 750.4 1194.4 745.4 1194.4 740.4 1194.4 735.4 1194.4 730.4 1194.4 725.4 1194.4 720.4 1194.4 715.4 1194.4 710.4 1200.2 665.5 1200.2 660.5 1206.1 775.4 1206.1 770.4 1206.1 765.4 1206.1 760.4 1206.1 755.4 1206.1 750.4 1206.1 745.4 1206.1 740.4 1211.9 715.4 1211.9 710.4 1217.7 780.4 1217.7 775.4 1217.7 770.4 1217.7 765.4 1217.7 760.4 1223.5 765.4 1223.5 760.4 1223.5 755.4 1229.4 735.4 1229.4 730.4 1235.2 765.4 1235.2 760.4 1241 760.4 1246.8 760.4" class="m52"/>
<path d="M1054.6 855.3 1060.5 855.3 1072.1 855.3 1077.9 850.3 1083.8 850.3 1083.8 845.3 1089.6 855.3 1095.4 850.3 1101.2 850.3 1101.2 845.3 1101.2 840.3 1101.2 835.3 1107.1 855.3 1107.1 850.3 1112.9 825.3 1112.9 820.3 1112.9 815.3 1112.9 810.3 1112.9 805.4 1112.9 800.4 1112.9 795.4 1112.9 790.4 1112.9 785.4 1118.7 835.3 1118.7 830.3 1118.7 825.3 1118.7 820.3 1118.7 815.3 1118.7 810.3 1118.7 805.4 1124.5 850.3 1124.5 845.3 1130.4 850.3 1130.4 845.3 1136.2 845.3 1136.2 840.3 1136.2 835.3 1136.2 830.3 1136.2 825.3 1142 845.3 1142 840.3 1142 835.3 1142 830.3 1142 825.3 1147.8 815.3 1147.8 810.3 1147.8 805.4 1147.8 800.4 1147.8 795.4 1147.8 790.4 1147.8 785.4 1147.8 780.4 1147.8 775.4 1147.8 770.4 1147.8 765.4 1147.8 760.4 1147.8 755.4 1153.7 795.4 1153.7 790.4 1153.7 785.4 1153.7 780.4 1153.7 775.4 1153.7 770.4 1153.7 765.4 1153.7 760.4 1153.7 755.4 1153.7 750.4 1153.7 745.4 1153.7 740.4 1153.7 735.4 1153.7 730.4 1159.5 815.3 1159.5 810.3 1159.5 805.4 1159.5 800.4 1159.5 795.4 1159.5 790.4 1159.5 785.4 1159.5 780.4 1159.5 775.4 1159.5 770.4 1159.5 765.4 1165.3 805.4 1165.3 800.4 1165.3 795.4 1165.3 790.4 1165.3 785.4 1165.3 780.4 1165.3 775.4 1165.3 770.4 1165.3 765.4 1165.3 760.4 1165.3 755.4 1165.3 750.4 1171.1 845.3 1171.1 840.3 1171.1 835.3 1171.1 830.3 1171.1 825.3 1176.9 760.4 1176.9 755.4 1176.9 750.4 1176.9 745.4 1176.9 740.4 1176.9 735.4 1182.8 845.3 1182.8 840.3 1182.8 835.3 1182.8 830.3 1188.6 790.4 1188.6 785.4 1188.6 780.4 1188.6 775.4 1188.6 770.4 1188.6 765.4 1188.6 760.4 1188.6 755.4 1188.6 750.4 1188.6 745.4 1188.6 740.4 1188.6 735.4 1194.4 815.3 1194.4 810.3 1194.4 805.4 1194.4 800.4 1194.4 795.4 1194.4 790.4 1194.4 785.4 1194.4 780.4 1194.4 775.4 1194.4 770.4 1194.4 765.4 1200.2 700.5 1200.2 695.5 1200.2 690.5 1200.2 685.5 1200.2 680.5 1200.2 675.5 1200.2 670.5 1206.1 820.3 1206.1 815.3 1206.1 810.3 1206.1 805.4 1206.1 800.4 1206.1 795.4 1206.1 790.4 1206.1 785.4 1206.1 780.4 1211.9 745.4 1211.9 740.4 1211.9 735.4 1211.9 730.4 1211.9 725.4 1211.9 720.4 1217.7 815.3 1217.7 810.3 1217.7 805.4 1217.7 800.4 1217.7 795.4 1217.7 790.4 1217.7 785.4 1223.5 795.4 1223.5 790.4 1223.5 785.4 1223.5 780.4 1223.5 775.4 1223.5 770.4 1229.4 760.4 1229.4 755.4 1229.4 750.4 1229.4 745.4 1229.4 740.4 1235.2 795.4 1235.2 790.4 1235.2 785.4 1235.2 780.4 1235.2 775.4 1235.2 770.4 1241 770.4 1241 765.4 1246.8 770.4 1246.8 765.4 1252.7 730.4 1258.5 765.4 1270.1 800.4 1276 805.4 1281.8 805.4 1293.4 820.3 1293.4 815.3" class="m53"/>
<path d="M1077.9 855.3 1083.8 855.3 1095.4 855.3 1101.2 855.3 1112.9 850.3 1112.9 845.3 1112.9 840.3 1112.9 835.3 1112.9 830.3 1118.7 850.3 1118.7 845.3 1118.7 840.3 1124.5 855.3 1130.4 855.3 1136.2 855.3 1136.2 850.3 1142 855.3 1142 850.3 1147.8 845.3 1147.8 840.3 1147.8 835.3 1147.8 830.3 1147.8 825.3 1147.8 820.3 1153.7 835.3 1153.7 830.3 1153.7 825.3 1153.7 820.3 1153.7 815.3 1153.7 810.3 1153.7 805.4 1153.7 800.4 1159.5 845.3 1159.5 840.3 1159.5 835.3 1159.5 830.3 1159.5 825.3 1159.5 820.3 1165.3 840.3 1165.3 835.3 1165.3 830.3 1165.3 825.3 1165.3 820.3 1165.3 815.3 1165.3 810.3 1171.1 855.3 1171.1 850.3 1176.9 800.4 1176.9 795.4 1176.9 790.4 1176.9 785.4 1176.9 780.4 1176.9 775.4 1176.9 770.4 1176.9 765.4 1182.8 855.3 1182.8 850.3 1188.6 835.3 1188.6 830.3 1188.6 825.3 1188.6 820.3 1188.6 815.3 1188.6 810.3 1188.6 805.4 1188.6 800.4 1188.6 795.4 1194.4 845.3 1194.4 840.3 1194.4 835.3 1194.4 830.3 1194.4 825.3 1194.4 820.3 1200.2 755.4 1200.2 750.4 1200.2 745.4 1200.2 740.4 1200.2 735.4 1200.2 730.4 1200.2 725.4 1200.2 720.4 1200.2 715.4 1200.2 710.4 1200.2 705.5 1206.1 845.3 1206.1 840.3 1206.1 835.3 1206.1 830.3 1206.1 825.3 1211.9 790.4 1211.9 785.4 1211.9 780.4 1211.9 775.4 1211.9 770.4 1211.9 765.4 1211.9 760.4 1211.9 755.4 1211.9 750.4 1217.7 840.3 1217.7 835.3 1217.7 830.3 1217.7 825.3 1217.7 820.3 1223.5 830.3 1223.5 825.3 1223.5 820.3 1223.5 815.3 1223.5 810.3 1223.5 805.4 1223.5 800.4 1229.4 800.4 1229.4 795.4 1229.4 790.4 1229.4 785.4 1229.4 780.4 1229.4 775.4 1229.4 770.4 1229.4 765.4 1235.2 825.3 1235.2 820.3 1235.2 815.3 1235.2 810.3 1235.2 805.4 1235.2 800.4 1241 795.4 1241 790.4 1241 785.4 1241 780.4 1241 775.4 1246.8 790.4 1246.8 785.4 1246.8 780.4 1246.8 775.4 1252.7 745.4 1252.7 740.4 1252.7 735.4 1258.5 785.4 1258.5 780.4 1258.5 775.4 1258.5 770.4 1264.3 785.4 1270.1 805.4 1276 815.3 1276 810.3 1281.8 815.3 1281.8 810.3 1287.6 815.3 1293.4 830.3 1293.4 825.3" class="m54"/>
<path d="M1112.9 855.3 1118.7 855.3 1147.8 855.3 1147.8 850.3 1153.7 850.3 1153.7 845.3 1153.7 840.3 1159.5 855.3 1159.5 850.3 1165.3 855.3 1165.3 850.3 1165.3 845.3 1176.9 835.3 1176.9 830.3 1176.9 825.3 1176.9 820.3 1176.9 815.3 1176.9 810.3 1176.9 805.4 1188.6 850.3 1188.6 845.3 1188.6 840.3 1194.4 855.3 1194.4 850.3 1200.2 815.3 1200.2 810.3 1200.2 805.4 1200.2 800.4 1200.2 795.4 1200.2 790.4 1200.2 785.4 1200.2 780.4 1200.2 775.4 1200.2 770.4 1200.2 765.4 1200.2 760.4 1206.1 855.3 1206.1 850.3 1211.9 830.3 1211.9 825.3 1211.9 820.3 1211.9 815.3 1211.9 810.3 1211.9 805.4 1211.9 800.4 1211.9 795.4 1217.7 850.3 1217.7 845.3 1223.5 845.3 1223.5 840.3 1223.5 835.3 1229.4 835.3 1229.4 830.3 1229.4 825.3 1229.4 820.3 1229.4 815.3 1229.4 810.3 1229.4 805.4 1235.2 845.3 1235.2 840.3 1235.2 835.3 1235.2 830.3 1241 825.3 1241 820.3 1241 815.3 1241 810.3 1241 805.4 1241 800.4 1246.8 820.3 1246.8 815.3 1246.8 810.3 1246.8 805.4 1246.8 800.4 1246.8 795.4 1252.7 780.4 1252.7 775.4 1252.7 770.4 1252.7 765.4 1252.7 760.4 1252.7 755.4 1252.7 750.4 1258.5 810.3 1258.5 805.4 1258.5 800.4 1258.5 795.4 1258.5 790.4 1264.3 800.4 1264.3 795.4 1264.3 790.4 1270.1 825.3 1270.1 820.3 1270.1 815.3 1270.1 810.3 1276 830.3 1276 825.3 1276 820.3 1281.8 830.3 1281.8 825.3 1281.8 820.3 1287.6 825.3 1287.6 820.3 1293.4 845.3 1293.4 840.3 1293.4 835.3 1305.1 835.3 1316.7 840.3 1357.5 845.3" class="m55"/>
<path d="M1153.7 855.3 1176.9 850.3 1176.9 845.3 1176.9 840.3 1188.6 855.3 1200.2 845.3 1200.2 840.3 1200.2 835.3 1200.2 830.3 1200.2 825.3 1200.2 820.3 1211.9 850.3 1211.9 845.3 1211.9 840.3 1211.9 835.3 1217.7 855.3 1223.5 855.3 1223.5 850.3 1229.4 850.3 1229.4 845.3 1229.4 840.3 1235.2 855.3 1235.2 850.3 1241 845.3 1241 840.3 1241 835.3 1241 830.3 1246.8 845.3 1246.8 840.3 1246.8 835.3 1246.8 830.3 1246.8 825.3 1252.7 820.3 1252.7 815.3 1252.7 810.3 1252.7 805.4 1252.7 800.4 1252.7 795.4 1252.7 790.4 1252.7 785.4 1258.5 835.3 1258.5 830.3 1258.5 825.3 1258.5 820.3 1258.5 815.3 1264.3 825.3 1264.3 820.3 1264.3 815.3 1264.3 810.3 1264.3 805.4 1270.1 840.3 1270.1 835.3 1270.1 830.3 1276 845.3 1276 840.3 1276 835.3 1281.8 845.3 1281.8 840.3 1281.8 835.3 1287.6 840.3 1287.6 835.3 1287.6 830.3 1293.4 850.3 1299.3 830.3 1305.1 840.3 1310.9 835.3 1316.7 845.3 1322.5 845.3 1328.4 845.3 1334.2 855.3 1340 855.3 1357.5 850.3" class="m56"/>
<path d="M1176.9 855.3 1200.2 855.3 1200.2 850.3 1211.9 855.3 1229.4 855.3 1241 855.3 1241 850.3 1246.8 855.3 1246.8 850.3 1252.7 845.3 1252.7 840.3 1252.7 835.3 1252.7 830.3 1252.7 825.3 1258.5 850.3 1258.5 845.3 1258.5 840.3 1264.3 845.3 1264.3 840.3 1264.3 835.3 1264.3 830.3 1270.1 850.3 1270.1 845.3 1276 855.3 1276 850.3 1281.8 855.3 1281.8 850.3 1287.6 850.3 1287.6 845.3 1293.4 855.3 1299.3 840.3 1299.3 835.3 1305.1 850.3 1305.1 845.3 1310.9 845.3 1310.9 840.3 1316.7 850.3 1322.5 850.3 1328.4 850.3 1345.8 855.3" class="m57"/>
<path d="M1252.7 855.3 1252.7 850.3 1258.5 855.3 1264.3 850.3 1270.1 855.3 1287.6 855.3 1299.3 850.3 1299.3 845.3 1305.1 855.3 1310.9 850.3 1316.7 855.3 1322.5 855.3 1328.4 855.3 1351.7 855.3 1357.5 855.3 1363.3 855.3 1369.1 855.3 1386.6 855.3 1392.4 855.3" class="m58"/>
<path d="M1264.3 855.3 1299.3 855.3 1310.9 855.3 1398.3 855.3" class="m59"/>
<path d="M1427.4 855.3" class="m61"/>
<polyline points="874.1,860.3 877.1,860.3 880.1,860.3 883.1,860.3 886.1,860.3 889.1,860.2 892.1,860.2 895.1,860.2 898.1,860.2 901.1,860.2 904.1,860.2 907.1,860.2 910.1,860.2 913.1,860.2 916.1,860.2 919.1,860.2 922.1,860.2 925.1,860.2 928.1,860.1 931.1,860.1 934.1,860.1 937.1,860.1 940.1,860.1 943.1,860.1 946.1,860.1 949.2,860 952.2,860 955.2,860 958.2,860 961.2,860 964.2,859.9 967.2,859.9 970.2,859.9 973.2,859.9 976.2,859.8 979.2,859.8 982.2,859.7 985.2,859.6 988.2,859.5 991.2,859.4 994.2,859.3 997.2,859.1 1000.2,858.9 1003.2,858.6 1006.2,858.3 1009.2,857.9 1012.2,857.3 1015.2,856.6 1018.2,855.7 1021.2,854.6 1024.2,853.1 1027.2,851.4 1030.2,849.5 1033.2,847.3 1036.2,844.8 1039.2,842.1 1042.2,839.1 1045.2,835.9 1048.2,832.5 1051.2,828.9 1054.2,825.1 1057.2,821 1060.2,816.9 1063.2,812.7 1066.2,808.6 1069.2,804.7 1072.2,800.9 1075.2,797.1 1078.2,793.4 1081.2,789.5 1084.2,785.4 1087.2,780.9 1090.2,776 1093.3,770.9 1096.3,765.6 1099.3,760.3 1102.3,755.4 1105.3,750.7 1108.3,746.4 1111.3,742.3 1114.3,738.2 1117.3,734.1 1120.3,729.9 1123.3,725.5 1126.3,720.9 1129.3,716 1132.3,710.9 1135.3,705.6 1138.3,700.1 1141.3,694.8 1144.3,689.8 1147.3,685.4 1150.3,682 1153.3,679.8 1156.3,679 1159.3,679.1 1162.3,680.2 1165.3,682.1 1168.3,684.7 1171.3,687.6 1174.3,690.3 1177.3,692.6 1180.3,694.5 1183.3,696.2 1186.3,697.6 1189.3,699 1192.3,700.4 1195.3,702 1198.3,703.7 1201.3,705.7 1204.3,708.3 1207.3,711.3 1210.3,714.7 1213.3,718.5 1216.3,722.4 1219.3,726.4 1222.3,730.3 1225.3,734.2 1228.3,737.9 1231.3,741.3 1234.3,744.5 1237.3,747.5 1240.4,750.5 1243.4,753.4 1246.4,756.3 1249.4,759.3 1252.4,762.6 1255.4,766.3 1258.4,770.6 1261.4,775.2 1264.4,780.1 1267.4,784.9 1270.4,789.5 1273.4,793.9 1276.4,798 1279.4,802 1282.4,806 1285.4,810 1288.4,814 1291.4,818 1294.4,821.7 1297.4,825.3 1300.4,828.5 1303.4,831.6 1306.4,834.4 1309.4,837 1312.4,839.3 1315.4,841.5 1318.4,843.4 1321.4,845.2 1324.4,846.8 1327.4,848.2 1330.4,849.4 1333.4,850.5 1336.4,851.5 1339.4,852.3 1342.4,853 1345.4,853.5 1348.4,853.9 1351.4,854.2 1354.4,854.5 1357.4,854.8 1360.4,855 1363.4,855.2 1366.4,855.4 1369.4,855.6 1372.4,855.8 1375.4,855.9 1378.4,856.1 1381.4,856.3 1384.5,856.5 1387.5,856.7 1390.5,856.9 1393.5,857.1 1396.5,857.3 1399.5,857.5 1402.5,857.7 1405.5,857.9 1408.5,858.1 1411.5,858.2 1414.5,858.4 1417.5,858.5 1420.5,858.7 1423.5,858.8 1426.5,858.9 1429.5,859 1432.5,859.1 1435.5,859.2 1438.5,859.3 1441.5,859.4 1444.5,859.5 1447.5,859.6 1450.5,859.7 1453.5,859.7 1456.5,859.8" fill="none" stroke="#000" stroke-width="2.9" stroke-linejoin="round" stroke-linecap="round"/>
<line x1="1165.3" y1="872.0" x2="1165.3" y2="609.1999999999999" stroke="#000" stroke-width="3.3" stroke-dasharray="2.9 9.35"/>
</g>
<rect x="845.8" y="609.1999999999999" width="639.7" height="262.5" fill="none" stroke="#333" stroke-width="2"/>
<rect x="1485.5" y="609.1999999999999" width="40.3" height="262.5" fill="#d9d9d9" stroke="#333" stroke-width="2"/>
<text x="0" y="0" transform="translate(1505.7 740.4) rotate(90)" class="st">disorganized</text>
<line x1="838.3" y1="860.3" x2="845.8" y2="860.3" stroke="#333" stroke-width="2.2"/>
<text x="830.5" y="861.1" class="yl">0</text>
<line x1="838.3" y1="810.3" x2="845.8" y2="810.3" stroke="#333" stroke-width="2.2"/>
<text x="830.5" y="811.1" class="yl">10</text>
<line x1="838.3" y1="760.4" x2="845.8" y2="760.4" stroke="#333" stroke-width="2.2"/>
<text x="830.5" y="761.2" class="yl">20</text>
<line x1="838.3" y1="710.4" x2="845.8" y2="710.4" stroke="#333" stroke-width="2.2"/>
<text x="830.5" y="711.2" class="yl">30</text>
<line x1="838.3" y1="660.5" x2="845.8" y2="660.5" stroke="#333" stroke-width="2.2"/>
<text x="830.5" y="661.3" class="yl">40</text>
<line x1="838.3" y1="610.5" x2="845.8" y2="610.5" stroke="#333" stroke-width="2.2"/>
<text x="830.5" y="611.3" class="yl">50</text>
<clipPath id="cR4"><rect x="845.8" y="888.5999999999999" width="639.7" height="262.5"/></clipPath>
<g clip-path="url(#cR4)">
<path d="M978.9 1124.7 990.6 1124.7 990.6 1119.7 1002.2 1124.7 1019.7 1114.7 1025.5 1099.7 1025.5 1094.7 1031.3 1094.7 1037.2 1104.7 1043 1094.7 1048.8 1109.7 1060.5 1109.7 1066.3 1069.8 1072.1 1079.8 1089.6 1044.8 1095.4 1004.8 1101.2 1039.8 1101.2 1034.8 1101.2 1029.8 1107.1 1044.8 1107.1 1039.8 1107.1 1034.8 1107.1 1029.8 1112.9 1029.8 1112.9 1024.8 1130.4 1019.8 1136.2 1004.8 1136.2 999.8 1136.2 994.8 1142 1004.8 1142 999.8 1142 994.8 1142 989.8 1142 984.9 1147.8 984.9 1153.7 974.9 1159.5 1024.8 1165.3 984.9 1171.1 984.9 1182.8 994.8 1188.6 979.9 1211.9 1014.8" class="m0"/>
<path d="M949.8 1134.7 961.5 1134.7 984.8 1129.7 1013.9 1124.7 1019.7 1119.7 1025.5 1109.7 1025.5 1104.7 1031.3 1099.7 1043 1104.7 1043 1099.7 1054.6 1114.7 1066.3 1074.8 1072.1 1089.7 1072.1 1084.8 1077.9 1069.8 1083.8 1074.8 1089.6 1054.8 1089.6 1049.8 1095.4 1014.8 1095.4 1009.8 1101.2 1054.8 1101.2 1049.8 1101.2 1044.8 1107.1 1064.8 1107.1 1059.8 1107.1 1054.8 1107.1 1049.8 1112.9 1044.8 1112.9 1039.8 1112.9 1034.8 1118.7 999.8 1124.5 1019.8 1130.4 1029.8 1130.4 1024.8 1136.2 1019.8 1136.2 1014.8 1136.2 1009.8 1142 1029.8 1142 1024.8 1142 1019.8 1142 1014.8 1142 1009.8 1147.8 989.8 1153.7 989.8 1153.7 984.9 1153.7 979.9 1159.5 1034.8 1159.5 1029.8 1165.3 989.8 1171.1 989.8 1176.9 994.8 1182.8 999.8 1188.6 989.8 1188.6 984.9 1194.4 1009.8 1200.2 1004.8 1211.9 1019.8 1229.4 989.8" class="m1"/>
<path d="M967.3 1134.7 978.9 1129.7 990.6 1129.7 996.4 1129.7 1002.2 1129.7 1008.1 1129.7 1019.7 1124.7 1025.5 1119.7 1025.5 1114.7 1031.3 1109.7 1031.3 1104.7 1037.2 1114.7 1037.2 1109.7 1043 1114.7 1043 1109.7 1048.8 1119.7 1048.8 1114.7 1054.6 1119.7 1060.5 1114.7 1066.3 1084.8 1066.3 1079.8 1072.1 1099.7 1072.1 1094.7 1077.9 1074.8 1083.8 1084.8 1083.8 1079.8 1089.6 1069.8 1089.6 1064.8 1089.6 1059.8 1095.4 1034.8 1095.4 1029.8 1095.4 1024.8 1095.4 1019.8 1101.2 1079.8 1101.2 1074.8 1101.2 1069.8 1101.2 1064.8 1101.2 1059.8 1107.1 1089.7 1107.1 1084.8 1107.1 1079.8 1107.1 1074.8 1107.1 1069.8 1112.9 1064.8 1112.9 1059.8 1112.9 1054.8 1112.9 1049.8 1118.7 1014.8 1118.7 1009.8 1118.7 1004.8 1124.5 1024.8 1130.4 1049.8 1130.4 1044.8 1130.4 1039.8 1130.4 1034.8 1136.2 1049.8 1136.2 1044.8 1136.2 1039.8 1136.2 1034.8 1136.2 1029.8 1136.2 1024.8 1142 1059.8 1142 1054.8 1142 1049.8 1142 1044.8 1142 1039.8 1142 1034.8 1147.8 1009.8 1147.8 1004.8 1147.8 999.8 1147.8 994.8 1153.7 1009.8 1153.7 1004.8 1153.7 999.8 1153.7 994.8 1159.5 1054.8 1159.5 1049.8 1159.5 1044.8 1159.5 1039.8 1165.3 1004.8 1165.3 999.8 1165.3 994.8 1171.1 1004.8 1171.1 999.8 1171.1 994.8 1176.9 1004.8 1176.9 999.8 1182.8 1014.8 1182.8 1009.8 1182.8 1004.8 1188.6 1014.8 1188.6 1009.8 1188.6 1004.8 1188.6 999.8 1188.6 994.8 1194.4 1014.8 1200.2 1009.8 1206.1 999.8 1211.9 1029.8 1211.9 1024.8 1217.7 1009.8 1229.4 994.8 1258.5 1029.8" class="m2"/>
<path d="M990.6 1134.7 1013.9 1129.7 1019.7 1129.7 1025.5 1124.7 1031.3 1119.7 1031.3 1114.7 1037.2 1119.7 1043 1119.7 1048.8 1124.7 1054.6 1124.7 1060.5 1124.7 1060.5 1119.7 1066.3 1099.7 1066.3 1094.7 1066.3 1089.7 1072.1 1114.7 1072.1 1109.7 1072.1 1104.7 1077.9 1084.8 1077.9 1079.8 1083.8 1094.7 1083.8 1089.7 1089.6 1084.8 1089.6 1079.8 1089.6 1074.8 1095.4 1059.8 1095.4 1054.8 1095.4 1049.8 1095.4 1044.8 1095.4 1039.8 1101.2 1099.7 1101.2 1094.7 1101.2 1089.7 1101.2 1084.8 1107.1 1109.7 1107.1 1104.7 1107.1 1099.7 1107.1 1094.7 1112.9 1084.8 1112.9 1079.8 1112.9 1074.8 1112.9 1069.8 1118.7 1034.8 1118.7 1029.8 1118.7 1024.8 1118.7 1019.8 1124.5 1039.8 1124.5 1034.8 1124.5 1029.8 1130.4 1074.8 1130.4 1069.8 1130.4 1064.8 1130.4 1059.8 1130.4 1054.8 1136.2 1079.8 1136.2 1074.8 1136.2 1069.8 1136.2 1064.8 1136.2 1059.8 1136.2 1054.8 1142 1089.7 1142 1084.8 1142 1079.8 1142 1074.8 1142 1069.8 1142 1064.8 1147.8 1034.8 1147.8 1029.8 1147.8 1024.8 1147.8 1019.8 1147.8 1014.8 1153.7 1039.8 1153.7 1034.8 1153.7 1029.8 1153.7 1024.8 1153.7 1019.8 1153.7 1014.8 1159.5 1074.8 1159.5 1069.8 1159.5 1064.8 1159.5 1059.8 1165.3 1029.8 1165.3 1024.8 1165.3 1019.8 1165.3 1014.8 1165.3 1009.8 1171.1 1024.8 1171.1 1019.8 1171.1 1014.8 1171.1 1009.8 1176.9 1024.8 1176.9 1019.8 1176.9 1014.8 1176.9 1009.8 1182.8 1039.8 1182.8 1034.8 1182.8 1029.8 1182.8 1024.8 1182.8 1019.8 1188.6 1044.8 1188.6 1039.8 1188.6 1034.8 1188.6 1029.8 1188.6 1024.8 1188.6 1019.8 1194.4 1029.8 1194.4 1024.8 1194.4 1019.8 1200.2 1019.8 1200.2 1014.8 1206.1 1004.8 1211.9 1049.8 1211.9 1044.8 1211.9 1039.8 1211.9 1034.8 1217.7 1019.8 1217.7 1014.8 1223.5 984.9 1229.4 1009.8 1229.4 1004.8 1229.4 999.8 1235.2 984.9 1246.8 1029.8 1258.5 1034.8 1281.8 1079.8" class="m3"/>
<path d="M978.9 1134.7 984.8 1134.7 996.4 1134.7 1002.2 1134.7 1008.1 1134.7 1013.9 1134.7 1019.7 1134.7 1025.5 1129.7 1031.3 1124.7 1037.2 1124.7 1043 1129.7 1043 1124.7 1048.8 1129.7 1054.6 1129.7 1060.5 1129.7 1066.3 1114.7 1066.3 1109.7 1066.3 1104.7 1072.1 1124.7 1072.1 1119.7 1077.9 1099.7 1077.9 1094.7 1077.9 1089.7 1083.8 1109.7 1083.8 1104.7 1083.8 1099.7 1089.6 1104.7 1089.6 1099.7 1089.6 1094.7 1089.6 1089.7 1095.4 1089.7 1095.4 1084.8 1095.4 1079.8 1095.4 1074.8 1095.4 1069.8 1095.4 1064.8 1101.2 1119.7 1101.2 1114.7 1101.2 1109.7 1101.2 1104.7 1107.1 1124.7 1107.1 1119.7 1107.1 1114.7 1112.9 1109.7 1112.9 1104.7 1112.9 1099.7 1112.9 1094.7 1112.9 1089.7 1118.7 1059.8 1118.7 1054.8 1118.7 1049.8 1118.7 1044.8 1118.7 1039.8 1124.5 1059.8 1124.5 1054.8 1124.5 1049.8 1124.5 1044.8 1130.4 1099.7 1130.4 1094.7 1130.4 1089.7 1130.4 1084.8 1130.4 1079.8 1136.2 1104.7 1136.2 1099.7 1136.2 1094.7 1136.2 1089.7 1136.2 1084.8 1142 1114.7 1142 1109.7 1142 1104.7 1142 1099.7 1142 1094.7 1147.8 1069.8 1147.8 1064.8 1147.8 1059.8 1147.8 1054.8 1147.8 1049.8 1147.8 1044.8 1147.8 1039.8 1153.7 1074.8 1153.7 1069.8 1153.7 1064.8 1153.7 1059.8 1153.7 1054.8 1153.7 1049.8 1153.7 1044.8 1159.5 1099.7 1159.5 1094.7 1159.5 1089.7 1159.5 1084.8 1159.5 1079.8 1165.3 1059.8 1165.3 1054.8 1165.3 1049.8 1165.3 1044.8 1165.3 1039.8 1165.3 1034.8 1171.1 1059.8 1171.1 1054.8 1171.1 1049.8 1171.1 1044.8 1171.1 1039.8 1171.1 1034.8 1171.1 1029.8 1176.9 1054.8 1176.9 1049.8 1176.9 1044.8 1176.9 1039.8 1176.9 1034.8 1176.9 1029.8 1182.8 1069.8 1182.8 1064.8 1182.8 1059.8 1182.8 1054.8 1182.8 1049.8 1182.8 1044.8 1188.6 1074.8 1188.6 1069.8 1188.6 1064.8 1188.6 1059.8 1188.6 1054.8 1188.6 1049.8 1194.4 1049.8 1194.4 1044.8 1194.4 1039.8 1194.4 1034.8 1200.2 1044.8 1200.2 1039.8 1200.2 1034.8 1200.2 1029.8 1200.2 1024.8 1206.1 1024.8 1206.1 1019.8 1206.1 1014.8 1206.1 1009.8 1211.9 1074.8 1211.9 1069.8 1211.9 1064.8 1211.9 1059.8 1211.9 1054.8 1217.7 1034.8 1217.7 1029.8 1217.7 1024.8 1223.5 994.8 1223.5 989.8 1229.4 1029.8 1229.4 1024.8 1229.4 1019.8 1229.4 1014.8 1235.2 989.8 1241 1029.8 1246.8 1034.8 1252.7 1019.8 1258.5 1049.8 1258.5 1044.8 1258.5 1039.8 1264.3 1029.8 1270.1 1074.8 1276 1079.8 1281.8 1084.8" class="m4"/>
<path d="M1025.5 1134.7 1031.3 1129.7 1037.2 1129.7 1043 1134.7 1048.8 1134.7 1066.3 1124.7 1066.3 1119.7 1072.1 1129.7 1077.9 1114.7 1077.9 1109.7 1077.9 1104.7 1083.8 1119.7 1083.8 1114.7 1089.6 1119.7 1089.6 1114.7 1089.6 1109.7 1095.4 1109.7 1095.4 1104.7 1095.4 1099.7 1095.4 1094.7 1101.2 1129.7 1101.2 1124.7 1107.1 1129.7 1112.9 1124.7 1112.9 1119.7 1112.9 1114.7 1118.7 1089.7 1118.7 1084.8 1118.7 1079.8 1118.7 1074.8 1118.7 1069.8 1118.7 1064.8 1124.5 1084.8 1124.5 1079.8 1124.5 1074.8 1124.5 1069.8 1124.5 1064.8 1130.4 1114.7 1130.4 1109.7 1130.4 1104.7 1136.2 1119.7 1136.2 1114.7 1136.2 1109.7 1142 1124.7 1142 1119.7 1147.8 1099.7 1147.8 1094.7 1147.8 1089.7 1147.8 1084.8 1147.8 1079.8 1147.8 1074.8 1153.7 1104.7 1153.7 1099.7 1153.7 1094.7 1153.7 1089.7 1153.7 1084.8 1153.7 1079.8 1159.5 1114.7 1159.5 1109.7 1159.5 1104.7 1165.3 1089.7 1165.3 1084.8 1165.3 1079.8 1165.3 1074.8 1165.3 1069.8 1165.3 1064.8 1171.1 1089.7 1171.1 1084.8 1171.1 1079.8 1171.1 1074.8 1171.1 1069.8 1171.1 1064.8 1176.9 1084.8 1176.9 1079.8 1176.9 1074.8 1176.9 1069.8 1176.9 1064.8 1176.9 1059.8 1182.8 1099.7 1182.8 1094.7 1182.8 1089.7 1182.8 1084.8 1182.8 1079.8 1182.8 1074.8 1188.6 1104.7 1188.6 1099.7 1188.6 1094.7 1188.6 1089.7 1188.6 1084.8 1188.6 1079.8 1194.4 1079.8 1194.4 1074.8 1194.4 1069.8 1194.4 1064.8 1194.4 1059.8 1194.4 1054.8 1200.2 1069.8 1200.2 1064.8 1200.2 1059.8 1200.2 1054.8 1200.2 1049.8 1206.1 1049.8 1206.1 1044.8 1206.1 1039.8 1206.1 1034.8 1206.1 1029.8 1211.9 1099.7 1211.9 1094.7 1211.9 1089.7 1211.9 1084.8 1211.9 1079.8 1217.7 1059.8 1217.7 1054.8 1217.7 1049.8 1217.7 1044.8 1217.7 1039.8 1223.5 1014.8 1223.5 1009.8 1223.5 1004.8 1223.5 999.8 1229.4 1059.8 1229.4 1054.8 1229.4 1049.8 1229.4 1044.8 1229.4 1039.8 1229.4 1034.8 1235.2 1009.8 1235.2 1004.8 1235.2 999.8 1235.2 994.8 1241 1039.8 1241 1034.8 1246.8 1049.8 1246.8 1044.8 1246.8 1039.8 1252.7 1024.8 1258.5 1069.8 1258.5 1064.8 1258.5 1059.8 1258.5 1054.8 1264.3 1039.8 1264.3 1034.8 1270.1 1079.8 1276 1084.8 1281.8 1094.7 1281.8 1089.7 1287.6 1099.7 1293.4 1099.7 1305.1 1109.7" class="m5"/>
<path d="M1031.3 1134.7 1037.2 1134.7 1054.6 1134.7 1060.5 1134.7 1066.3 1129.7 1072.1 1134.7 1077.9 1124.7 1077.9 1119.7 1083.8 1129.7 1083.8 1124.7 1089.6 1129.7 1089.6 1124.7 1095.4 1124.7 1095.4 1119.7 1095.4 1114.7 1101.2 1134.7 1107.1 1134.7 1112.9 1129.7 1118.7 1109.7 1118.7 1104.7 1118.7 1099.7 1118.7 1094.7 1124.5 1109.7 1124.5 1104.7 1124.5 1099.7 1124.5 1094.7 1124.5 1089.7 1130.4 1129.7 1130.4 1124.7 1130.4 1119.7 1136.2 1129.7 1136.2 1124.7 1142 1134.7 1142 1129.7 1147.8 1119.7 1147.8 1114.7 1147.8 1109.7 1147.8 1104.7 1153.7 1119.7 1153.7 1114.7 1153.7 1109.7 1159.5 1129.7 1159.5 1124.7 1159.5 1119.7 1165.3 1114.7 1165.3 1109.7 1165.3 1104.7 1165.3 1099.7 1165.3 1094.7 1171.1 1114.7 1171.1 1109.7 1171.1 1104.7 1171.1 1099.7 1171.1 1094.7 1176.9 1109.7 1176.9 1104.7 1176.9 1099.7 1176.9 1094.7 1176.9 1089.7 1182.8 1119.7 1182.8 1114.7 1182.8 1109.7 1182.8 1104.7 1188.6 1119.7 1188.6 1114.7 1188.6 1109.7 1194.4 1104.7 1194.4 1099.7 1194.4 1094.7 1194.4 1089.7 1194.4 1084.8 1200.2 1094.7 1200.2 1089.7 1200.2 1084.8 1200.2 1079.8 1200.2 1074.8 1206.1 1074.8 1206.1 1069.8 1206.1 1064.8 1206.1 1059.8 1206.1 1054.8 1211.9 1119.7 1211.9 1114.7 1211.9 1109.7 1211.9 1104.7 1217.7 1084.8 1217.7 1079.8 1217.7 1074.8 1217.7 1069.8 1217.7 1064.8 1223.5 1044.8 1223.5 1039.8 1223.5 1034.8 1223.5 1029.8 1223.5 1024.8 1223.5 1019.8 1229.4 1089.7 1229.4 1084.8 1229.4 1079.8 1229.4 1074.8 1229.4 1069.8 1229.4 1064.8 1235.2 1034.8 1235.2 1029.8 1235.2 1024.8 1235.2 1019.8 1235.2 1014.8 1241 1054.8 1241 1049.8 1241 1044.8 1246.8 1074.8 1246.8 1069.8 1246.8 1064.8 1246.8 1059.8 1246.8 1054.8 1252.7 1039.8 1252.7 1034.8 1252.7 1029.8 1258.5 1089.7 1258.5 1084.8 1258.5 1079.8 1258.5 1074.8 1264.3 1054.8 1264.3 1049.8 1264.3 1044.8 1270.1 1084.8 1276 1094.7 1276 1089.7 1281.8 1109.7 1281.8 1104.7 1281.8 1099.7 1287.6 1104.7 1293.4 1104.7 1299.3 1084.8 1310.9 1109.7 1316.7 1109.7 1322.5 1109.7 1334.2 1109.7" class="m6"/>
<path d="M1066.3 1134.7 1077.9 1129.7 1083.8 1134.7 1089.6 1134.7 1095.4 1129.7 1112.9 1134.7 1118.7 1124.7 1118.7 1119.7 1118.7 1114.7 1124.5 1124.7 1124.5 1119.7 1124.5 1114.7 1130.4 1134.7 1136.2 1134.7 1147.8 1129.7 1147.8 1124.7 1153.7 1129.7 1153.7 1124.7 1159.5 1134.7 1165.3 1124.7 1165.3 1119.7 1171.1 1124.7 1171.1 1119.7 1176.9 1124.7 1176.9 1119.7 1176.9 1114.7 1182.8 1129.7 1182.8 1124.7 1188.6 1129.7 1188.6 1124.7 1194.4 1119.7 1194.4 1114.7 1194.4 1109.7 1200.2 1114.7 1200.2 1109.7 1200.2 1104.7 1200.2 1099.7 1206.1 1104.7 1206.1 1099.7 1206.1 1094.7 1206.1 1089.7 1206.1 1084.8 1206.1 1079.8 1211.9 1129.7 1211.9 1124.7 1217.7 1109.7 1217.7 1104.7 1217.7 1099.7 1217.7 1094.7 1217.7 1089.7 1223.5 1074.8 1223.5 1069.8 1223.5 1064.8 1223.5 1059.8 1223.5 1054.8 1223.5 1049.8 1229.4 1114.7 1229.4 1109.7 1229.4 1104.7 1229.4 1099.7 1229.4 1094.7 1235.2 1064.8 1235.2 1059.8 1235.2 1054.8 1235.2 1049.8 1235.2 1044.8 1235.2 1039.8 1241 1079.8 1241 1074.8 1241 1069.8 1241 1064.8 1241 1059.8 1246.8 1094.7 1246.8 1089.7 1246.8 1084.8 1246.8 1079.8 1252.7 1059.8 1252.7 1054.8 1252.7 1049.8 1252.7 1044.8 1258.5 1109.7 1258.5 1104.7 1258.5 1099.7 1258.5 1094.7 1264.3 1074.8 1264.3 1069.8 1264.3 1064.8 1264.3 1059.8 1270.1 1099.7 1270.1 1094.7 1270.1 1089.7 1276 1109.7 1276 1104.7 1276 1099.7 1281.8 1119.7 1281.8 1114.7 1287.6 1114.7 1287.6 1109.7 1293.4 1109.7 1299.3 1094.7 1299.3 1089.7 1305.1 1119.7 1305.1 1114.7 1310.9 1114.7 1316.7 1114.7 1322.5 1114.7 1340 1104.7" class="m7"/>
<path d="M1077.9 1134.7 1095.4 1134.7 1118.7 1129.7 1124.5 1129.7 1147.8 1134.7 1153.7 1134.7 1165.3 1134.7 1165.3 1129.7 1171.1 1129.7 1176.9 1129.7 1182.8 1134.7 1188.6 1134.7 1194.4 1129.7 1194.4 1124.7 1200.2 1129.7 1200.2 1124.7 1200.2 1119.7 1206.1 1119.7 1206.1 1114.7 1206.1 1109.7 1211.9 1134.7 1217.7 1124.7 1217.7 1119.7 1217.7 1114.7 1223.5 1104.7 1223.5 1099.7 1223.5 1094.7 1223.5 1089.7 1223.5 1084.8 1223.5 1079.8 1229.4 1124.7 1229.4 1119.7 1235.2 1094.7 1235.2 1089.7 1235.2 1084.8 1235.2 1079.8 1235.2 1074.8 1235.2 1069.8 1241 1099.7 1241 1094.7 1241 1089.7 1241 1084.8 1246.8 1114.7 1246.8 1109.7 1246.8 1104.7 1246.8 1099.7 1252.7 1084.8 1252.7 1079.8 1252.7 1074.8 1252.7 1069.8 1252.7 1064.8 1258.5 1124.7 1258.5 1119.7 1258.5 1114.7 1264.3 1099.7 1264.3 1094.7 1264.3 1089.7 1264.3 1084.8 1264.3 1079.8 1270.1 1114.7 1270.1 1109.7 1270.1 1104.7 1276 1119.7 1276 1114.7 1281.8 1129.7 1281.8 1124.7 1287.6 1119.7 1293.4 1119.7 1293.4 1114.7 1299.3 1104.7 1299.3 1099.7 1305.1 1124.7 1310.9 1119.7 1316.7 1119.7 1322.5 1119.7 1328.4 1129.7 1334.2 1114.7 1340 1109.7 1357.5 1119.7" class="m8"/>
<path d="M1118.7 1134.7 1124.5 1134.7 1171.1 1134.7 1176.9 1134.7 1194.4 1134.7 1200.2 1134.7 1206.1 1129.7 1206.1 1124.7 1217.7 1129.7 1223.5 1119.7 1223.5 1114.7 1223.5 1109.7 1229.4 1134.7 1229.4 1129.7 1235.2 1114.7 1235.2 1109.7 1235.2 1104.7 1235.2 1099.7 1241 1119.7 1241 1114.7 1241 1109.7 1241 1104.7 1246.8 1124.7 1246.8 1119.7 1252.7 1104.7 1252.7 1099.7 1252.7 1094.7 1252.7 1089.7 1258.5 1129.7 1264.3 1114.7 1264.3 1109.7 1264.3 1104.7 1270.1 1124.7 1270.1 1119.7 1276 1129.7 1276 1124.7 1287.6 1129.7 1287.6 1124.7 1293.4 1124.7 1299.3 1114.7 1299.3 1109.7 1305.1 1129.7 1310.9 1124.7 1316.7 1124.7 1322.5 1124.7 1334.2 1119.7 1340 1114.7 1345.8 1119.7 1363.3 1124.7" class="m9"/>
<path d="M1206.1 1134.7 1217.7 1134.7 1223.5 1129.7 1223.5 1124.7 1235.2 1129.7 1235.2 1124.7 1235.2 1119.7 1241 1129.7 1241 1124.7 1246.8 1129.7 1252.7 1119.7 1252.7 1114.7 1252.7 1109.7 1258.5 1134.7 1264.3 1124.7 1264.3 1119.7 1270.1 1129.7 1276 1134.7 1281.8 1134.7 1293.4 1129.7 1299.3 1124.7 1299.3 1119.7 1305.1 1134.7 1310.9 1129.7 1316.7 1129.7 1322.5 1129.7 1334.2 1129.7 1334.2 1124.7 1340 1124.7 1340 1119.7 1345.8 1124.7 1351.7 1124.7 1357.5 1124.7 1375 1124.7 1380.8 1124.7" class="m10"/>
<path d="M1223.5 1134.7 1235.2 1134.7 1241 1134.7 1246.8 1134.7 1252.7 1129.7 1252.7 1124.7 1264.3 1134.7 1264.3 1129.7 1270.1 1134.7 1287.6 1134.7 1293.4 1134.7 1299.3 1129.7 1310.9 1134.7 1316.7 1134.7 1322.5 1134.7 1328.4 1134.7 1340 1129.7 1345.8 1129.7 1357.5 1129.7 1363.3 1129.7 1369.1 1124.7 1386.6 1134.7" class="m11"/>
<path d="M1252.7 1134.7 1299.3 1134.7 1334.2 1134.7 1340 1134.7 1351.7 1129.7 1357.5 1134.7 1375 1129.7 1380.8 1129.7" class="m12"/>
<path d="M1345.8 1134.7 1363.3 1134.7 1369.1 1129.7 1380.8 1134.7" class="m13"/>
<path d="M1351.7 1134.7 1369.1 1134.7 1375 1134.7" class="m14"/>
<path d="M1409.9 1134.7 1421.6 1134.7" class="m15"/>
<polyline points="874.1,1139.4 877.1,1139.3 880.1,1139.3 883.1,1139.3 886.1,1139.2 889.1,1139.2 892.1,1139.1 895.1,1139 898.1,1138.9 901.1,1138.8 904.1,1138.7 907.1,1138.6 910.1,1138.5 913.1,1138.3 916.1,1138.2 919.1,1138 922.1,1137.9 925.1,1137.7 928.1,1137.5 931.1,1137.3 934.1,1137.1 937.1,1136.8 940.1,1136.4 943.1,1136 946.1,1135.5 949.2,1135 952.2,1134.4 955.2,1133.9 958.2,1133.2 961.2,1132.6 964.2,1132 967.2,1131.3 970.2,1130.6 973.2,1129.8 976.2,1129.1 979.2,1128.3 982.2,1127.5 985.2,1126.7 988.2,1125.9 991.2,1125 994.2,1124.2 997.2,1123.4 1000.2,1122.5 1003.2,1121.6 1006.2,1120.7 1009.2,1119.7 1012.2,1118.7 1015.2,1117.6 1018.2,1116.5 1021.2,1115.3 1024.2,1114.1 1027.2,1112.8 1030.2,1111.4 1033.2,1109.9 1036.2,1108.3 1039.2,1106.6 1042.2,1104.8 1045.2,1102.7 1048.2,1100.5 1051.2,1098.1 1054.2,1095.5 1057.2,1092.6 1060.2,1089.3 1063.2,1085.6 1066.2,1081.4 1069.2,1076.8 1072.2,1071.8 1075.2,1066.7 1078.2,1061.5 1081.2,1056.3 1084.2,1051.3 1087.2,1046.5 1090.2,1042 1093.3,1037.8 1096.3,1034 1099.3,1030.6 1102.3,1027.6 1105.3,1024.9 1108.3,1022.5 1111.3,1020.4 1114.3,1018.5 1117.3,1016.8 1120.3,1015.1 1123.3,1013.5 1126.3,1012 1129.3,1010.6 1132.3,1009.1 1135.3,1007.6 1138.3,1006.2 1141.3,1004.8 1144.3,1003.6 1147.3,1002.5 1150.3,1001.6 1153.3,1000.8 1156.3,1000.2 1159.3,999.7 1162.3,999.3 1165.3,999.1 1168.3,999 1171.3,999.1 1174.3,999.2 1177.3,999.5 1180.3,999.8 1183.3,1000.2 1186.3,1000.7 1189.3,1001.4 1192.3,1002.3 1195.3,1003.2 1198.3,1004.2 1201.3,1005.2 1204.3,1006.3 1207.3,1007.3 1210.3,1008.4 1213.3,1009.5 1216.3,1010.8 1219.3,1012.2 1222.3,1013.8 1225.3,1015.6 1228.3,1017.7 1231.3,1019.9 1234.3,1022.4 1237.3,1025.1 1240.4,1028 1243.4,1031.1 1246.4,1034.3 1249.4,1037.6 1252.4,1041.1 1255.4,1044.6 1258.4,1048.3 1261.4,1052.1 1264.4,1056 1267.4,1059.9 1270.4,1063.9 1273.4,1067.7 1276.4,1071.4 1279.4,1075 1282.4,1078.5 1285.4,1081.9 1288.4,1085.2 1291.4,1088.4 1294.4,1091.4 1297.4,1094.2 1300.4,1096.8 1303.4,1099.1 1306.4,1101.2 1309.4,1103.1 1312.4,1104.9 1315.4,1106.6 1318.4,1108.2 1321.4,1109.8 1324.4,1111.2 1327.4,1112.6 1330.4,1113.9 1333.4,1115.1 1336.4,1116.2 1339.4,1117.2 1342.4,1118.2 1345.4,1119.1 1348.4,1120 1351.4,1120.9 1354.4,1121.9 1357.4,1122.9 1360.4,1124 1363.4,1125.1 1366.4,1126.3 1369.4,1127.4 1372.4,1128.5 1375.4,1129.6 1378.4,1130.6 1381.4,1131.6 1384.5,1132.5 1387.5,1133.4 1390.5,1134.1 1393.5,1134.8 1396.5,1135.4 1399.5,1136 1402.5,1136.5 1405.5,1136.8 1408.5,1137.2 1411.5,1137.4 1414.5,1137.7 1417.5,1137.9 1420.5,1138.1 1423.5,1138.3 1426.5,1138.4 1429.5,1138.6 1432.5,1138.7 1435.5,1138.9 1438.5,1139 1441.5,1139.1 1444.5,1139.2 1447.5,1139.3 1450.5,1139.3 1453.5,1139.3 1456.5,1139.4" fill="none" stroke="#000" stroke-width="2.9" stroke-linejoin="round" stroke-linecap="round"/>
<line x1="1165.3" y1="1151.4" x2="1165.3" y2="888.5999999999999" stroke="#000" stroke-width="3.3" stroke-dasharray="2.9 9.35"/>
</g>
<rect x="845.8" y="888.5999999999999" width="639.7" height="262.5" fill="none" stroke="#333" stroke-width="2"/>
<rect x="1485.5" y="888.5999999999999" width="40.3" height="262.5" fill="#d9d9d9" stroke="#333" stroke-width="2"/>
<text x="0" y="0" transform="translate(1505.7 1019.8) rotate(90)" class="st">excited</text>
<line x1="838.3" y1="1139.7" x2="845.8" y2="1139.7" stroke="#333" stroke-width="2.2"/>
<text x="830.5" y="1140.5" class="yl">0</text>
<line x1="838.3" y1="1089.7" x2="845.8" y2="1089.7" stroke="#333" stroke-width="2.2"/>
<text x="830.5" y="1090.5" class="yl">10</text>
<line x1="838.3" y1="1039.8" x2="845.8" y2="1039.8" stroke="#333" stroke-width="2.2"/>
<text x="830.5" y="1040.6" class="yl">20</text>
<line x1="838.3" y1="989.8" x2="845.8" y2="989.8" stroke="#333" stroke-width="2.2"/>
<text x="830.5" y="990.6" class="yl">30</text>
<line x1="838.3" y1="939.9" x2="845.8" y2="939.9" stroke="#333" stroke-width="2.2"/>
<text x="830.5" y="940.7" class="yl">40</text>
<line x1="838.3" y1="889.9" x2="845.8" y2="889.9" stroke="#333" stroke-width="2.2"/>
<text x="830.5" y="890.7" class="yl">50</text>
<clipPath id="cR5"><rect x="845.8" y="1168.0" width="639.7" height="262.5"/></clipPath>
<g clip-path="url(#cR5)">
<path d="M1095.4 1324.2 1101.2 1329.2 1130.4 1254.3 1147.8 1269.2" class="m31"/>
<path d="M1037.2 1399.1 1054.6 1399.1 1060.5 1364.2 1072.1 1369.1 1077.9 1374.1 1095.4 1329.2 1101.2 1334.2 1107.1 1294.2 1112.9 1269.2 1118.7 1274.2 1124.5 1224.3 1130.4 1259.3 1136.2 1249.3 1147.8 1274.2 1159.5 1269.2 1159.5 1264.3 1171.1 1269.2 1188.6 1199.3" class="m32"/>
<path d="M1031.3 1404.1 1043 1394.1 1060.5 1369.1 1077.9 1379.1 1089.6 1314.2 1095.4 1339.2 1095.4 1334.2 1101.2 1344.2 1101.2 1339.2 1107.1 1299.2 1112.9 1279.2 1112.9 1274.2 1118.7 1279.2 1124.5 1229.3 1130.4 1279.2 1130.4 1274.2 1130.4 1269.2 1130.4 1264.3 1136.2 1254.3 1142 1269.2 1147.8 1294.2 1147.8 1289.2 1147.8 1284.2 1147.8 1279.2 1159.5 1279.2 1159.5 1274.2 1165.3 1179.3 1171.1 1274.2 1182.8 1279.2 1188.6 1204.3 1194.4 1204.3 1200.2 1199.3 1206.1 1279.2 1211.9 1284.2 1235.2 1279.2 1235.2 1274.2 1241 1279.2" class="m33"/>
<path d="M984.8 1414.1 1019.7 1394.1 1025.5 1414.1 1037.2 1404.1 1043 1399.1 1048.8 1394.1 1054.6 1404.1 1060.5 1384.1 1060.5 1379.1 1060.5 1374.1 1066.3 1384.1 1072.1 1379.1 1072.1 1374.1 1077.9 1384.1 1083.8 1359.2 1089.6 1324.2 1089.6 1319.2 1095.4 1359.2 1095.4 1354.2 1095.4 1349.2 1095.4 1344.2 1101.2 1359.2 1101.2 1354.2 1101.2 1349.2 1107.1 1314.2 1107.1 1309.2 1107.1 1304.2 1112.9 1299.2 1112.9 1294.2 1112.9 1289.2 1112.9 1284.2 1118.7 1294.2 1118.7 1289.2 1118.7 1284.2 1124.5 1244.3 1124.5 1239.3 1124.5 1234.3 1130.4 1304.2 1130.4 1299.2 1130.4 1294.2 1130.4 1289.2 1130.4 1284.2 1136.2 1269.2 1136.2 1264.3 1136.2 1259.3 1142 1284.2 1142 1279.2 1142 1274.2 1147.8 1319.2 1147.8 1314.2 1147.8 1309.2 1147.8 1304.2 1147.8 1299.2 1153.7 1264.3 1159.5 1304.2 1159.5 1299.2 1159.5 1294.2 1159.5 1289.2 1159.5 1284.2 1165.3 1189.3 1165.3 1184.3 1171.1 1289.2 1171.1 1284.2 1171.1 1279.2 1176.9 1274.2 1176.9 1269.2 1182.8 1284.2 1188.6 1219.3 1188.6 1214.3 1188.6 1209.3 1194.4 1219.3 1194.4 1214.3 1194.4 1209.3 1200.2 1209.3 1200.2 1204.3 1206.1 1294.2 1206.1 1289.2 1206.1 1284.2 1211.9 1289.2 1217.7 1289.2 1223.5 1294.2 1229.4 1299.2 1229.4 1294.2 1235.2 1289.2 1235.2 1284.2 1241 1284.2 1246.8 1259.3 1258.5 1339.2 1264.3 1369.1" class="m34"/>
<path d="M1008.1 1414.1 1013.9 1414.1 1031.3 1409.1 1037.2 1409.1 1043 1404.1 1048.8 1399.1 1054.6 1409.1 1060.5 1394.1 1060.5 1389.1 1066.3 1389.1 1072.1 1389.1 1072.1 1384.1 1077.9 1394.1 1077.9 1389.1 1083.8 1369.1 1083.8 1364.2 1089.6 1344.2 1089.6 1339.2 1089.6 1334.2 1089.6 1329.2 1095.4 1379.1 1095.4 1374.1 1095.4 1369.1 1095.4 1364.2 1101.2 1379.1 1101.2 1374.1 1101.2 1369.1 1101.2 1364.2 1107.1 1339.2 1107.1 1334.2 1107.1 1329.2 1107.1 1324.2 1107.1 1319.2 1112.9 1324.2 1112.9 1319.2 1112.9 1314.2 1112.9 1309.2 1112.9 1304.2 1118.7 1319.2 1118.7 1314.2 1118.7 1309.2 1118.7 1304.2 1118.7 1299.2 1124.5 1274.2 1124.5 1269.2 1124.5 1264.3 1124.5 1259.3 1124.5 1254.3 1124.5 1249.3 1130.4 1339.2 1130.4 1334.2 1130.4 1329.2 1130.4 1324.2 1130.4 1319.2 1130.4 1314.2 1130.4 1309.2 1136.2 1299.2 1136.2 1294.2 1136.2 1289.2 1136.2 1284.2 1136.2 1279.2 1136.2 1274.2 1142 1304.2 1142 1299.2 1142 1294.2 1142 1289.2 1147.8 1349.2 1147.8 1344.2 1147.8 1339.2 1147.8 1334.2 1147.8 1329.2 1147.8 1324.2 1153.7 1279.2 1153.7 1274.2 1153.7 1269.2 1159.5 1334.2 1159.5 1329.2 1159.5 1324.2 1159.5 1319.2 1159.5 1314.2 1159.5 1309.2 1165.3 1209.3 1165.3 1204.3 1165.3 1199.3 1165.3 1194.3 1171.1 1309.2 1171.1 1304.2 1171.1 1299.2 1171.1 1294.2 1176.9 1284.2 1176.9 1279.2 1182.8 1299.2 1182.8 1294.2 1182.8 1289.2 1188.6 1254.3 1188.6 1249.3 1188.6 1244.3 1188.6 1239.3 1188.6 1234.3 1188.6 1229.3 1188.6 1224.3 1194.4 1244.3 1194.4 1239.3 1194.4 1234.3 1194.4 1229.3 1194.4 1224.3 1200.2 1234.3 1200.2 1229.3 1200.2 1224.3 1200.2 1219.3 1200.2 1214.3 1206.1 1314.2 1206.1 1309.2 1206.1 1304.2 1206.1 1299.2 1211.9 1309.2 1211.9 1304.2 1211.9 1299.2 1211.9 1294.2 1217.7 1299.2 1217.7 1294.2 1223.5 1299.2 1229.4 1309.2 1229.4 1304.2 1235.2 1309.2 1235.2 1304.2 1235.2 1299.2 1235.2 1294.2 1241 1304.2 1241 1299.2 1241 1294.2 1241 1289.2 1246.8 1269.2 1246.8 1264.3 1252.7 1319.2 1252.7 1314.2 1258.5 1344.2 1264.3 1374.1 1270.1 1369.1 1276 1369.1 1281.8 1369.1 1299.3 1379.1 1322.5 1399.1" class="m35"/>
<path d="M1002.2 1414.1 1019.7 1399.1 1037.2 1414.1 1043 1409.1 1048.8 1404.1 1054.6 1414.1 1060.5 1404.1 1060.5 1399.1 1066.3 1399.1 1066.3 1394.1 1072.1 1399.1 1072.1 1394.1 1077.9 1404.1 1077.9 1399.1 1083.8 1379.1 1083.8 1374.1 1089.6 1364.2 1089.6 1359.2 1089.6 1354.2 1089.6 1349.2 1095.4 1394.1 1095.4 1389.1 1095.4 1384.1 1101.2 1394.1 1101.2 1389.1 1101.2 1384.1 1107.1 1364.2 1107.1 1359.2 1107.1 1354.2 1107.1 1349.2 1107.1 1344.2 1112.9 1354.2 1112.9 1349.2 1112.9 1344.2 1112.9 1339.2 1112.9 1334.2 1112.9 1329.2 1118.7 1349.2 1118.7 1344.2 1118.7 1339.2 1118.7 1334.2 1118.7 1329.2 1118.7 1324.2 1124.5 1314.2 1124.5 1309.2 1124.5 1304.2 1124.5 1299.2 1124.5 1294.2 1124.5 1289.2 1124.5 1284.2 1124.5 1279.2 1130.4 1374.1 1130.4 1369.1 1130.4 1364.2 1130.4 1359.2 1130.4 1354.2 1130.4 1349.2 1130.4 1344.2 1136.2 1334.2 1136.2 1329.2 1136.2 1324.2 1136.2 1319.2 1136.2 1314.2 1136.2 1309.2 1136.2 1304.2 1142 1334.2 1142 1329.2 1142 1324.2 1142 1319.2 1142 1314.2 1142 1309.2 1147.8 1379.1 1147.8 1374.1 1147.8 1369.1 1147.8 1364.2 1147.8 1359.2 1147.8 1354.2 1153.7 1299.2 1153.7 1294.2 1153.7 1289.2 1153.7 1284.2 1159.5 1364.2 1159.5 1359.2 1159.5 1354.2 1159.5 1349.2 1159.5 1344.2 1159.5 1339.2 1165.3 1249.3 1165.3 1244.3 1165.3 1239.3 1165.3 1234.3 1165.3 1229.3 1165.3 1224.3 1165.3 1219.3 1165.3 1214.3 1171.1 1339.2 1171.1 1334.2 1171.1 1329.2 1171.1 1324.2 1171.1 1319.2 1171.1 1314.2 1176.9 1304.2 1176.9 1299.2 1176.9 1294.2 1176.9 1289.2 1182.8 1319.2 1182.8 1314.2 1182.8 1309.2 1182.8 1304.2 1188.6 1294.2 1188.6 1289.2 1188.6 1284.2 1188.6 1279.2 1188.6 1274.2 1188.6 1269.2 1188.6 1264.3 1188.6 1259.3 1194.4 1279.2 1194.4 1274.2 1194.4 1269.2 1194.4 1264.3 1194.4 1259.3 1194.4 1254.3 1194.4 1249.3 1200.2 1274.2 1200.2 1269.2 1200.2 1264.3 1200.2 1259.3 1200.2 1254.3 1200.2 1249.3 1200.2 1244.3 1200.2 1239.3 1206.1 1339.2 1206.1 1334.2 1206.1 1329.2 1206.1 1324.2 1206.1 1319.2 1211.9 1334.2 1211.9 1329.2 1211.9 1324.2 1211.9 1319.2 1211.9 1314.2 1217.7 1319.2 1217.7 1314.2 1217.7 1309.2 1217.7 1304.2 1223.5 1314.2 1223.5 1309.2 1223.5 1304.2 1229.4 1329.2 1229.4 1324.2 1229.4 1319.2 1229.4 1314.2 1235.2 1339.2 1235.2 1334.2 1235.2 1329.2 1235.2 1324.2 1235.2 1319.2 1235.2 1314.2 1241 1329.2 1241 1324.2 1241 1319.2 1241 1314.2 1241 1309.2 1246.8 1284.2 1246.8 1279.2 1246.8 1274.2 1252.7 1329.2 1252.7 1324.2 1258.5 1359.2 1258.5 1354.2 1258.5 1349.2 1264.3 1379.1 1270.1 1374.1 1281.8 1374.1 1287.6 1374.1 1293.4 1379.1 1305.1 1384.1 1316.7 1399.1 1328.4 1399.1" class="m36"/>
<path d="M1019.7 1404.1 1031.3 1414.1 1048.8 1409.1 1060.5 1409.1 1066.3 1404.1 1072.1 1404.1 1077.9 1409.1 1083.8 1394.1 1083.8 1389.1 1083.8 1384.1 1089.6 1384.1 1089.6 1379.1 1089.6 1374.1 1089.6 1369.1 1095.4 1404.1 1095.4 1399.1 1101.2 1404.1 1101.2 1399.1 1107.1 1389.1 1107.1 1384.1 1107.1 1379.1 1107.1 1374.1 1107.1 1369.1 1112.9 1384.1 1112.9 1379.1 1112.9 1374.1 1112.9 1369.1 1112.9 1364.2 1112.9 1359.2 1118.7 1374.1 1118.7 1369.1 1118.7 1364.2 1118.7 1359.2 1118.7 1354.2 1124.5 1354.2 1124.5 1349.2 1124.5 1344.2 1124.5 1339.2 1124.5 1334.2 1124.5 1329.2 1124.5 1324.2 1124.5 1319.2 1130.4 1394.1 1130.4 1389.1 1130.4 1384.1 1130.4 1379.1 1136.2 1369.1 1136.2 1364.2 1136.2 1359.2 1136.2 1354.2 1136.2 1349.2 1136.2 1344.2 1136.2 1339.2 1142 1364.2 1142 1359.2 1142 1354.2 1142 1349.2 1142 1344.2 1142 1339.2 1147.8 1399.1 1147.8 1394.1 1147.8 1389.1 1147.8 1384.1 1153.7 1329.2 1153.7 1324.2 1153.7 1319.2 1153.7 1314.2 1153.7 1309.2 1153.7 1304.2 1159.5 1389.1 1159.5 1384.1 1159.5 1379.1 1159.5 1374.1 1159.5 1369.1 1165.3 1294.2 1165.3 1289.2 1165.3 1284.2 1165.3 1279.2 1165.3 1274.2 1165.3 1269.2 1165.3 1264.3 1165.3 1259.3 1165.3 1254.3 1171.1 1369.1 1171.1 1364.2 1171.1 1359.2 1171.1 1354.2 1171.1 1349.2 1171.1 1344.2 1176.9 1334.2 1176.9 1329.2 1176.9 1324.2 1176.9 1319.2 1176.9 1314.2 1176.9 1309.2 1182.8 1349.2 1182.8 1344.2 1182.8 1339.2 1182.8 1334.2 1182.8 1329.2 1182.8 1324.2 1188.6 1339.2 1188.6 1334.2 1188.6 1329.2 1188.6 1324.2 1188.6 1319.2 1188.6 1314.2 1188.6 1309.2 1188.6 1304.2 1188.6 1299.2 1194.4 1324.2 1194.4 1319.2 1194.4 1314.2 1194.4 1309.2 1194.4 1304.2 1194.4 1299.2 1194.4 1294.2 1194.4 1289.2 1194.4 1284.2 1200.2 1319.2 1200.2 1314.2 1200.2 1309.2 1200.2 1304.2 1200.2 1299.2 1200.2 1294.2 1200.2 1289.2 1200.2 1284.2 1200.2 1279.2 1206.1 1369.1 1206.1 1364.2 1206.1 1359.2 1206.1 1354.2 1206.1 1349.2 1206.1 1344.2 1211.9 1359.2 1211.9 1354.2 1211.9 1349.2 1211.9 1344.2 1211.9 1339.2 1217.7 1344.2 1217.7 1339.2 1217.7 1334.2 1217.7 1329.2 1217.7 1324.2 1223.5 1339.2 1223.5 1334.2 1223.5 1329.2 1223.5 1324.2 1223.5 1319.2 1229.4 1354.2 1229.4 1349.2 1229.4 1344.2 1229.4 1339.2 1229.4 1334.2 1235.2 1369.1 1235.2 1364.2 1235.2 1359.2 1235.2 1354.2 1235.2 1349.2 1235.2 1344.2 1241 1359.2 1241 1354.2 1241 1349.2 1241 1344.2 1241 1339.2 1241 1334.2 1246.8 1314.2 1246.8 1309.2 1246.8 1304.2 1246.8 1299.2 1246.8 1294.2 1246.8 1289.2 1252.7 1344.2 1252.7 1339.2 1252.7 1334.2 1258.5 1374.1 1258.5 1369.1 1258.5 1364.2 1264.3 1389.1 1264.3 1384.1 1270.1 1379.1 1276 1379.1 1276 1374.1 1281.8 1379.1 1287.6 1379.1 1293.4 1384.1 1299.3 1389.1 1299.3 1384.1 1305.1 1389.1 1310.9 1389.1 1316.7 1404.1 1322.5 1404.1 1328.4 1404.1" class="m37"/>
<path d="M1019.7 1409.1 1043 1414.1 1048.8 1414.1 1060.5 1414.1 1066.3 1409.1 1072.1 1409.1 1077.9 1414.1 1083.8 1404.1 1083.8 1399.1 1089.6 1399.1 1089.6 1394.1 1089.6 1389.1 1095.4 1409.1 1101.2 1409.1 1107.1 1404.1 1107.1 1399.1 1107.1 1394.1 1112.9 1399.1 1112.9 1394.1 1112.9 1389.1 1118.7 1394.1 1118.7 1389.1 1118.7 1384.1 1118.7 1379.1 1124.5 1384.1 1124.5 1379.1 1124.5 1374.1 1124.5 1369.1 1124.5 1364.2 1124.5 1359.2 1130.4 1409.1 1130.4 1404.1 1130.4 1399.1 1136.2 1389.1 1136.2 1384.1 1136.2 1379.1 1136.2 1374.1 1142 1389.1 1142 1384.1 1142 1379.1 1142 1374.1 1142 1369.1 1147.8 1409.1 1147.8 1404.1 1153.7 1364.2 1153.7 1359.2 1153.7 1354.2 1153.7 1349.2 1153.7 1344.2 1153.7 1339.2 1153.7 1334.2 1159.5 1404.1 1159.5 1399.1 1159.5 1394.1 1165.3 1344.2 1165.3 1339.2 1165.3 1334.2 1165.3 1329.2 1165.3 1324.2 1165.3 1319.2 1165.3 1314.2 1165.3 1309.2 1165.3 1304.2 1165.3 1299.2 1171.1 1394.1 1171.1 1389.1 1171.1 1384.1 1171.1 1379.1 1171.1 1374.1 1176.9 1369.1 1176.9 1364.2 1176.9 1359.2 1176.9 1354.2 1176.9 1349.2 1176.9 1344.2 1176.9 1339.2 1182.8 1379.1 1182.8 1374.1 1182.8 1369.1 1182.8 1364.2 1182.8 1359.2 1182.8 1354.2 1188.6 1379.1 1188.6 1374.1 1188.6 1369.1 1188.6 1364.2 1188.6 1359.2 1188.6 1354.2 1188.6 1349.2 1188.6 1344.2 1194.4 1364.2 1194.4 1359.2 1194.4 1354.2 1194.4 1349.2 1194.4 1344.2 1194.4 1339.2 1194.4 1334.2 1194.4 1329.2 1200.2 1359.2 1200.2 1354.2 1200.2 1349.2 1200.2 1344.2 1200.2 1339.2 1200.2 1334.2 1200.2 1329.2 1200.2 1324.2 1206.1 1389.1 1206.1 1384.1 1206.1 1379.1 1206.1 1374.1 1211.9 1384.1 1211.9 1379.1 1211.9 1374.1 1211.9 1369.1 1211.9 1364.2 1217.7 1374.1 1217.7 1369.1 1217.7 1364.2 1217.7 1359.2 1217.7 1354.2 1217.7 1349.2 1223.5 1364.2 1223.5 1359.2 1223.5 1354.2 1223.5 1349.2 1223.5 1344.2 1229.4 1379.1 1229.4 1374.1 1229.4 1369.1 1229.4 1364.2 1229.4 1359.2 1235.2 1394.1 1235.2 1389.1 1235.2 1384.1 1235.2 1379.1 1235.2 1374.1 1241 1384.1 1241 1379.1 1241 1374.1 1241 1369.1 1241 1364.2 1246.8 1349.2 1246.8 1344.2 1246.8 1339.2 1246.8 1334.2 1246.8 1329.2 1246.8 1324.2 1246.8 1319.2 1252.7 1369.1 1252.7 1364.2 1252.7 1359.2 1252.7 1354.2 1252.7 1349.2 1258.5 1389.1 1258.5 1384.1 1258.5 1379.1 1264.3 1399.1 1264.3 1394.1 1270.1 1389.1 1270.1 1384.1 1276 1389.1 1276 1384.1 1281.8 1389.1 1281.8 1384.1 1287.6 1389.1 1287.6 1384.1 1293.4 1389.1 1299.3 1394.1 1305.1 1399.1 1305.1 1394.1 1316.7 1409.1 1322.5 1409.1 1328.4 1409.1 1334.2 1409.1 1345.8 1414.1 1351.7 1404.1" class="m38"/>
<path d="M1019.7 1414.1 1066.3 1414.1 1072.1 1414.1 1083.8 1409.1 1089.6 1409.1 1089.6 1404.1 1095.4 1414.1 1101.2 1414.1 1107.1 1409.1 1112.9 1409.1 1112.9 1404.1 1118.7 1409.1 1118.7 1404.1 1118.7 1399.1 1124.5 1404.1 1124.5 1399.1 1124.5 1394.1 1124.5 1389.1 1130.4 1414.1 1136.2 1404.1 1136.2 1399.1 1136.2 1394.1 1142 1404.1 1142 1399.1 1142 1394.1 1147.8 1414.1 1153.7 1389.1 1153.7 1384.1 1153.7 1379.1 1153.7 1374.1 1153.7 1369.1 1159.5 1409.1 1165.3 1379.1 1165.3 1374.1 1165.3 1369.1 1165.3 1364.2 1165.3 1359.2 1165.3 1354.2 1165.3 1349.2 1171.1 1404.1 1171.1 1399.1 1176.9 1389.1 1176.9 1384.1 1176.9 1379.1 1176.9 1374.1 1182.8 1399.1 1182.8 1394.1 1182.8 1389.1 1182.8 1384.1 1188.6 1399.1 1188.6 1394.1 1188.6 1389.1 1188.6 1384.1 1194.4 1394.1 1194.4 1389.1 1194.4 1384.1 1194.4 1379.1 1194.4 1374.1 1194.4 1369.1 1200.2 1389.1 1200.2 1384.1 1200.2 1379.1 1200.2 1374.1 1200.2 1369.1 1200.2 1364.2 1206.1 1404.1 1206.1 1399.1 1206.1 1394.1 1211.9 1399.1 1211.9 1394.1 1211.9 1389.1 1217.7 1394.1 1217.7 1389.1 1217.7 1384.1 1217.7 1379.1 1223.5 1389.1 1223.5 1384.1 1223.5 1379.1 1223.5 1374.1 1223.5 1369.1 1229.4 1399.1 1229.4 1394.1 1229.4 1389.1 1229.4 1384.1 1235.2 1404.1 1235.2 1399.1 1241 1399.1 1241 1394.1 1241 1389.1 1246.8 1379.1 1246.8 1374.1 1246.8 1369.1 1246.8 1364.2 1246.8 1359.2 1246.8 1354.2 1252.7 1389.1 1252.7 1384.1 1252.7 1379.1 1252.7 1374.1 1258.5 1404.1 1258.5 1399.1 1258.5 1394.1 1264.3 1409.1 1264.3 1404.1 1270.1 1399.1 1270.1 1394.1 1276 1399.1 1276 1394.1 1281.8 1399.1 1281.8 1394.1 1287.6 1399.1 1287.6 1394.1 1293.4 1399.1 1293.4 1394.1 1299.3 1404.1 1299.3 1399.1 1305.1 1404.1 1310.9 1399.1 1310.9 1394.1 1340 1414.1 1369.1 1414.1" class="m39"/>
<path d="M1083.8 1414.1 1089.6 1414.1 1107.1 1414.1 1112.9 1414.1 1118.7 1414.1 1124.5 1409.1 1136.2 1409.1 1142 1409.1 1153.7 1404.1 1153.7 1399.1 1153.7 1394.1 1159.5 1414.1 1165.3 1399.1 1165.3 1394.1 1165.3 1389.1 1165.3 1384.1 1171.1 1414.1 1171.1 1409.1 1176.9 1404.1 1176.9 1399.1 1176.9 1394.1 1182.8 1409.1 1182.8 1404.1 1188.6 1409.1 1188.6 1404.1 1194.4 1404.1 1194.4 1399.1 1200.2 1404.1 1200.2 1399.1 1200.2 1394.1 1206.1 1409.1 1211.9 1409.1 1211.9 1404.1 1217.7 1404.1 1217.7 1399.1 1223.5 1404.1 1223.5 1399.1 1223.5 1394.1 1229.4 1409.1 1229.4 1404.1 1235.2 1409.1 1241 1409.1 1241 1404.1 1246.8 1399.1 1246.8 1394.1 1246.8 1389.1 1246.8 1384.1 1252.7 1404.1 1252.7 1399.1 1252.7 1394.1 1258.5 1409.1 1264.3 1414.1 1270.1 1409.1 1270.1 1404.1 1276 1404.1 1281.8 1409.1 1281.8 1404.1 1287.6 1404.1 1293.4 1404.1 1299.3 1409.1 1305.1 1409.1 1310.9 1404.1 1316.7 1414.1 1322.5 1414.1 1328.4 1414.1 1334.2 1414.1 1351.7 1409.1 1357.5 1414.1 1363.3 1414.1" class="m40"/>
<path d="M1124.5 1414.1 1136.2 1414.1 1142 1414.1 1153.7 1409.1 1165.3 1409.1 1165.3 1404.1 1176.9 1409.1 1182.8 1414.1 1188.6 1414.1 1194.4 1414.1 1194.4 1409.1 1200.2 1414.1 1200.2 1409.1 1206.1 1414.1 1211.9 1414.1 1217.7 1409.1 1223.5 1409.1 1229.4 1414.1 1235.2 1414.1 1241 1414.1 1246.8 1409.1 1246.8 1404.1 1252.7 1409.1 1258.5 1414.1 1270.1 1414.1 1276 1409.1 1281.8 1414.1 1287.6 1409.1 1293.4 1409.1 1299.3 1414.1 1305.1 1414.1 1310.9 1409.1 1351.7 1414.1" class="m41"/>
<path d="M1153.7 1414.1 1165.3 1414.1 1176.9 1414.1 1217.7 1414.1 1223.5 1414.1 1246.8 1414.1 1252.7 1414.1 1276 1414.1 1287.6 1414.1 1293.4 1414.1 1310.9 1414.1" class="m42"/>
<polyline points="874.1,1418.5 877.1,1418.5 880.1,1418.5 883.1,1418.5 886.1,1418.4 889.1,1418.4 892.1,1418.4 895.1,1418.4 898.1,1418.3 901.1,1418.3 904.1,1418.3 907.1,1418.2 910.1,1418.2 913.1,1418.2 916.1,1418.1 919.1,1418.1 922.1,1418 925.1,1418 928.1,1417.9 931.1,1417.8 934.1,1417.8 937.1,1417.7 940.1,1417.6 943.1,1417.6 946.1,1417.4 949.2,1417.3 952.2,1417.2 955.2,1417 958.2,1416.8 961.2,1416.5 964.2,1416.3 967.2,1416 970.2,1415.7 973.2,1415.5 976.2,1415.2 979.2,1414.9 982.2,1414.5 985.2,1414.2 988.2,1413.9 991.2,1413.5 994.2,1413.1 997.2,1412.6 1000.2,1412.2 1003.2,1411.7 1006.2,1411.2 1009.2,1410.6 1012.2,1410 1015.2,1409.4 1018.2,1408.7 1021.2,1407.9 1024.2,1407 1027.2,1406.1 1030.2,1405 1033.2,1403.8 1036.2,1402.4 1039.2,1400.8 1042.2,1399 1045.2,1397.1 1048.2,1394.8 1051.2,1392.2 1054.2,1389.4 1057.2,1386.3 1060.2,1383 1063.2,1379.5 1066.2,1375.9 1069.2,1372.1 1072.2,1368 1075.2,1363.6 1078.2,1358.9 1081.2,1353.9 1084.2,1348.5 1087.2,1342.8 1090.2,1336.8 1093.3,1330.6 1096.3,1324.3 1099.3,1317.8 1102.3,1311.3 1105.3,1304.8 1108.3,1298.5 1111.3,1292.4 1114.3,1286.9 1117.3,1281.9 1120.3,1277.6 1123.3,1274 1126.3,1270.9 1129.3,1268.5 1132.3,1266.6 1135.3,1265.2 1138.3,1264.1 1141.3,1263 1144.3,1261.9 1147.3,1260.7 1150.3,1259.4 1153.3,1258.2 1156.3,1257.1 1159.3,1256.2 1162.3,1255.5 1165.3,1255 1168.3,1254.6 1171.3,1254.4 1174.3,1254.3 1177.3,1254.3 1180.3,1254.3 1183.3,1254.3 1186.3,1254.3 1189.3,1254.4 1192.3,1254.7 1195.3,1255.4 1198.3,1256.4 1201.3,1257.9 1204.3,1259.8 1207.3,1262.1 1210.3,1264.7 1213.3,1267.5 1216.3,1270.6 1219.3,1273.6 1222.3,1276.7 1225.3,1279.7 1228.3,1282.8 1231.3,1285.9 1234.3,1289 1237.3,1292.3 1240.4,1295.8 1243.4,1299.5 1246.4,1303.5 1249.4,1307.8 1252.4,1312.5 1255.4,1317.7 1258.4,1323.4 1261.4,1329.7 1264.4,1336.4 1267.4,1343.2 1270.4,1349.5 1273.4,1355 1276.4,1359.5 1279.4,1363.2 1282.4,1366.2 1285.4,1368.8 1288.4,1371.2 1291.4,1373.3 1294.4,1375.4 1297.4,1377.5 1300.4,1379.7 1303.4,1382 1306.4,1384.4 1309.4,1386.8 1312.4,1389.2 1315.4,1391.5 1318.4,1393.6 1321.4,1395.7 1324.4,1397.7 1327.4,1399.7 1330.4,1401.8 1333.4,1403.8 1336.4,1405.7 1339.4,1407.3 1342.4,1408.6 1345.4,1409.7 1348.4,1410.5 1351.4,1411.2 1354.4,1411.8 1357.4,1412.2 1360.4,1412.7 1363.4,1413 1366.4,1413.4 1369.4,1413.8 1372.4,1414.2 1375.4,1414.7 1378.4,1415.3 1381.4,1415.8 1384.5,1416.3 1387.5,1416.8 1390.5,1417.2 1393.5,1417.4 1396.5,1417.6 1399.5,1417.7 1402.5,1417.8 1405.5,1417.9 1408.5,1418 1411.5,1418 1414.5,1418.1 1417.5,1418.1 1420.5,1418.2 1423.5,1418.2 1426.5,1418.3 1429.5,1418.3 1432.5,1418.3 1435.5,1418.4 1438.5,1418.4 1441.5,1418.4 1444.5,1418.4 1447.5,1418.5 1450.5,1418.5 1453.5,1418.5 1456.5,1418.5" fill="none" stroke="#000" stroke-width="2.9" stroke-linejoin="round" stroke-linecap="round"/>
<line x1="1165.3" y1="1430.8" x2="1165.3" y2="1168.0" stroke="#000" stroke-width="3.3" stroke-dasharray="2.9 9.35"/>
</g>
<rect x="845.8" y="1168.0" width="639.7" height="262.5" fill="none" stroke="#333" stroke-width="2"/>
<rect x="1485.5" y="1168.0" width="40.3" height="262.5" fill="#d9d9d9" stroke="#333" stroke-width="2"/>
<text x="0" y="0" transform="translate(1505.7 1299.2) rotate(90)" class="st">depressed</text>
<line x1="838.3" y1="1419.1" x2="845.8" y2="1419.1" stroke="#333" stroke-width="2.2"/>
<text x="830.5" y="1419.9" class="yl">0</text>
<line x1="838.3" y1="1369.1" x2="845.8" y2="1369.1" stroke="#333" stroke-width="2.2"/>
<text x="830.5" y="1369.9" class="yl">10</text>
<line x1="838.3" y1="1319.2" x2="845.8" y2="1319.2" stroke="#333" stroke-width="2.2"/>
<text x="830.5" y="1320.0" class="yl">20</text>
<line x1="838.3" y1="1269.2" x2="845.8" y2="1269.2" stroke="#333" stroke-width="2.2"/>
<text x="830.5" y="1270.0" class="yl">30</text>
<line x1="838.3" y1="1219.3" x2="845.8" y2="1219.3" stroke="#333" stroke-width="2.2"/>
<text x="830.5" y="1220.1" class="yl">40</text>
<line x1="838.3" y1="1169.3" x2="845.8" y2="1169.3" stroke="#333" stroke-width="2.2"/>
<text x="830.5" y="1170.1" class="yl">50</text>
<line x1="874.1" y1="1430.5" x2="874.1" y2="1438.7" stroke="#333" stroke-width="2"/>
<text x="874.1" y="1457.4" class="xl">−0.50</text>
<line x1="1019.7" y1="1430.5" x2="1019.7" y2="1438.7" stroke="#333" stroke-width="2"/>
<text x="1019.7" y="1457.4" class="xl">−0.25</text>
<line x1="1165.3" y1="1430.5" x2="1165.3" y2="1438.7" stroke="#333" stroke-width="2"/>
<text x="1165.3" y="1457.4" class="xl">0.00</text>
<line x1="1310.9" y1="1430.5" x2="1310.9" y2="1438.7" stroke="#333" stroke-width="2"/>
<text x="1310.9" y="1457.4" class="xl">0.25</text>
<line x1="1456.5" y1="1430.5" x2="1456.5" y2="1438.7" stroke="#333" stroke-width="2"/>
<text x="1456.5" y="1457.4" class="xl">0.50</text>
<text x="390.6" y="1484.5" class="at" text-anchor="middle">optimism: training − testing</text>
<text x="1165.6" y="1484.5" class="at" text-anchor="middle">optimism: testing − training</text>
<text transform="translate(23.9 744.5) rotate(-90)" class="at" text-anchor="middle">count</text>
<text transform="translate(799.2 740.2) rotate(-90)" class="at" text-anchor="middle">count</text>
<text x="70.2" y="35.8" class="tt">Pseudo R<tspan class="sup" dx="-2" dy="-13.7">2</tspan></text>
<text x="845.0" y="28.4" class="tt">RMSE</text>
<defs><linearGradient id="gL" x1="0" x2="1" y1="0" y2="0"><stop offset="0.00" stop-color="#440154"/><stop offset="0.05" stop-color="#471365"/><stop offset="0.10" stop-color="#482475"/><stop offset="0.15" stop-color="#463480"/><stop offset="0.20" stop-color="#414487"/><stop offset="0.25" stop-color="#3b528b"/><stop offset="0.30" stop-color="#355f8d"/><stop offset="0.35" stop-color="#2f6c8e"/><stop offset="0.40" stop-color="#2a788e"/><stop offset="0.45" stop-color="#25848e"/><stop offset="0.50" stop-color="#21918c"/><stop offset="0.55" stop-color="#1e9c89"/><stop offset="0.60" stop-color="#22a884"/><stop offset="0.65" stop-color="#2fb47c"/><stop offset="0.70" stop-color="#44bf70"/><stop offset="0.75" stop-color="#5ec962"/><stop offset="0.80" stop-color="#7ad151"/><stop offset="0.85" stop-color="#9bd93c"/><stop offset="0.90" stop-color="#bddf26"/><stop offset="0.95" stop-color="#dfe318"/><stop offset="1.00" stop-color="#fde725"/></linearGradient><linearGradient id="gR" x1="0" x2="1" y1="0" y2="0"><stop offset="0.00" stop-color="#fde725"/><stop offset="0.05" stop-color="#dfe318"/><stop offset="0.10" stop-color="#bddf26"/><stop offset="0.15" stop-color="#9bd93c"/><stop offset="0.20" stop-color="#7ad151"/><stop offset="0.25" stop-color="#5ec962"/><stop offset="0.30" stop-color="#44bf70"/><stop offset="0.35" stop-color="#2fb47c"/><stop offset="0.40" stop-color="#22a884"/><stop offset="0.45" stop-color="#1e9c89"/><stop offset="0.50" stop-color="#21918c"/><stop offset="0.55" stop-color="#25848e"/><stop offset="0.60" stop-color="#2a788e"/><stop offset="0.65" stop-color="#2f6c8e"/><stop offset="0.70" stop-color="#355f8d"/><stop offset="0.75" stop-color="#3b528b"/><stop offset="0.80" stop-color="#414487"/><stop offset="0.85" stop-color="#463480"/><stop offset="0.90" stop-color="#482475"/><stop offset="0.95" stop-color="#471365"/><stop offset="1.00" stop-color="#440154"/></linearGradient></defs>
<rect x="407.9" y="1536.6" width="248.6" height="50.8" fill="url(#gL)"/>
<line x1="431.8" y1="1536.6" x2="431.8" y2="1546.8" stroke="#fff" stroke-width="1.1"/>
<line x1="431.8" y1="1577.2" x2="431.8" y2="1587.4" stroke="#fff" stroke-width="1.1"/>
<text x="431.8" y="1611.1" class="ll">0.2</text>
<line x1="497.3" y1="1536.6" x2="497.3" y2="1546.8" stroke="#fff" stroke-width="1.1"/>
<line x1="497.3" y1="1577.2" x2="497.3" y2="1587.4" stroke="#fff" stroke-width="1.1"/>
<text x="497.3" y="1611.1" class="ll">0.3</text>
<line x1="562.7" y1="1536.6" x2="562.7" y2="1546.8" stroke="#fff" stroke-width="1.1"/>
<line x1="562.7" y1="1577.2" x2="562.7" y2="1587.4" stroke="#fff" stroke-width="1.1"/>
<text x="562.7" y="1611.1" class="ll">0.4</text>
<line x1="628.6" y1="1536.6" x2="628.6" y2="1546.8" stroke="#fff" stroke-width="1.1"/>
<line x1="628.6" y1="1577.2" x2="628.6" y2="1587.4" stroke="#fff" stroke-width="1.1"/>
<text x="628.6" y="1611.1" class="ll">0.5</text>
<rect x="1161.9" y="1536.6" width="248.8" height="50.8" fill="url(#gR)"/>
<line x1="1164.8" y1="1536.6" x2="1164.8" y2="1546.8" stroke="#fff" stroke-width="1.1"/>
<line x1="1164.8" y1="1577.2" x2="1164.8" y2="1587.4" stroke="#fff" stroke-width="1.1"/>
<text x="1164.8" y="1611.1" class="ll">0.5</text>
<line x1="1220.1" y1="1536.6" x2="1220.1" y2="1546.8" stroke="#fff" stroke-width="1.1"/>
<line x1="1220.1" y1="1577.2" x2="1220.1" y2="1587.4" stroke="#fff" stroke-width="1.1"/>
<text x="1220.1" y="1611.1" class="ll">0.6</text>
<line x1="1275.4" y1="1536.6" x2="1275.4" y2="1546.8" stroke="#fff" stroke-width="1.1"/>
<line x1="1275.4" y1="1577.2" x2="1275.4" y2="1587.4" stroke="#fff" stroke-width="1.1"/>
<text x="1275.4" y="1611.1" class="ll">0.7</text>
<line x1="1330.9" y1="1536.6" x2="1330.9" y2="1546.8" stroke="#fff" stroke-width="1.1"/>
<line x1="1330.9" y1="1577.2" x2="1330.9" y2="1587.4" stroke="#fff" stroke-width="1.1"/>
<text x="1330.9" y="1611.1" class="ll">0.8</text>
<line x1="1386.2" y1="1536.6" x2="1386.2" y2="1546.8" stroke="#fff" stroke-width="1.1"/>
<line x1="1386.2" y1="1577.2" x2="1386.2" y2="1587.4" stroke="#fff" stroke-width="1.1"/>
<text x="1386.2" y="1611.1" class="ll">0.9</text>
<text x="124.8" y="1584.6" class="lt">Pseudo R<tspan class="lsup" dy="-10.5">2</tspan><tspan dy="10.5"> on training data</tspan></text>
<text x="919.8" y="1584.6" class="lt">RMSE on training data</text>
</svg></body></html>
